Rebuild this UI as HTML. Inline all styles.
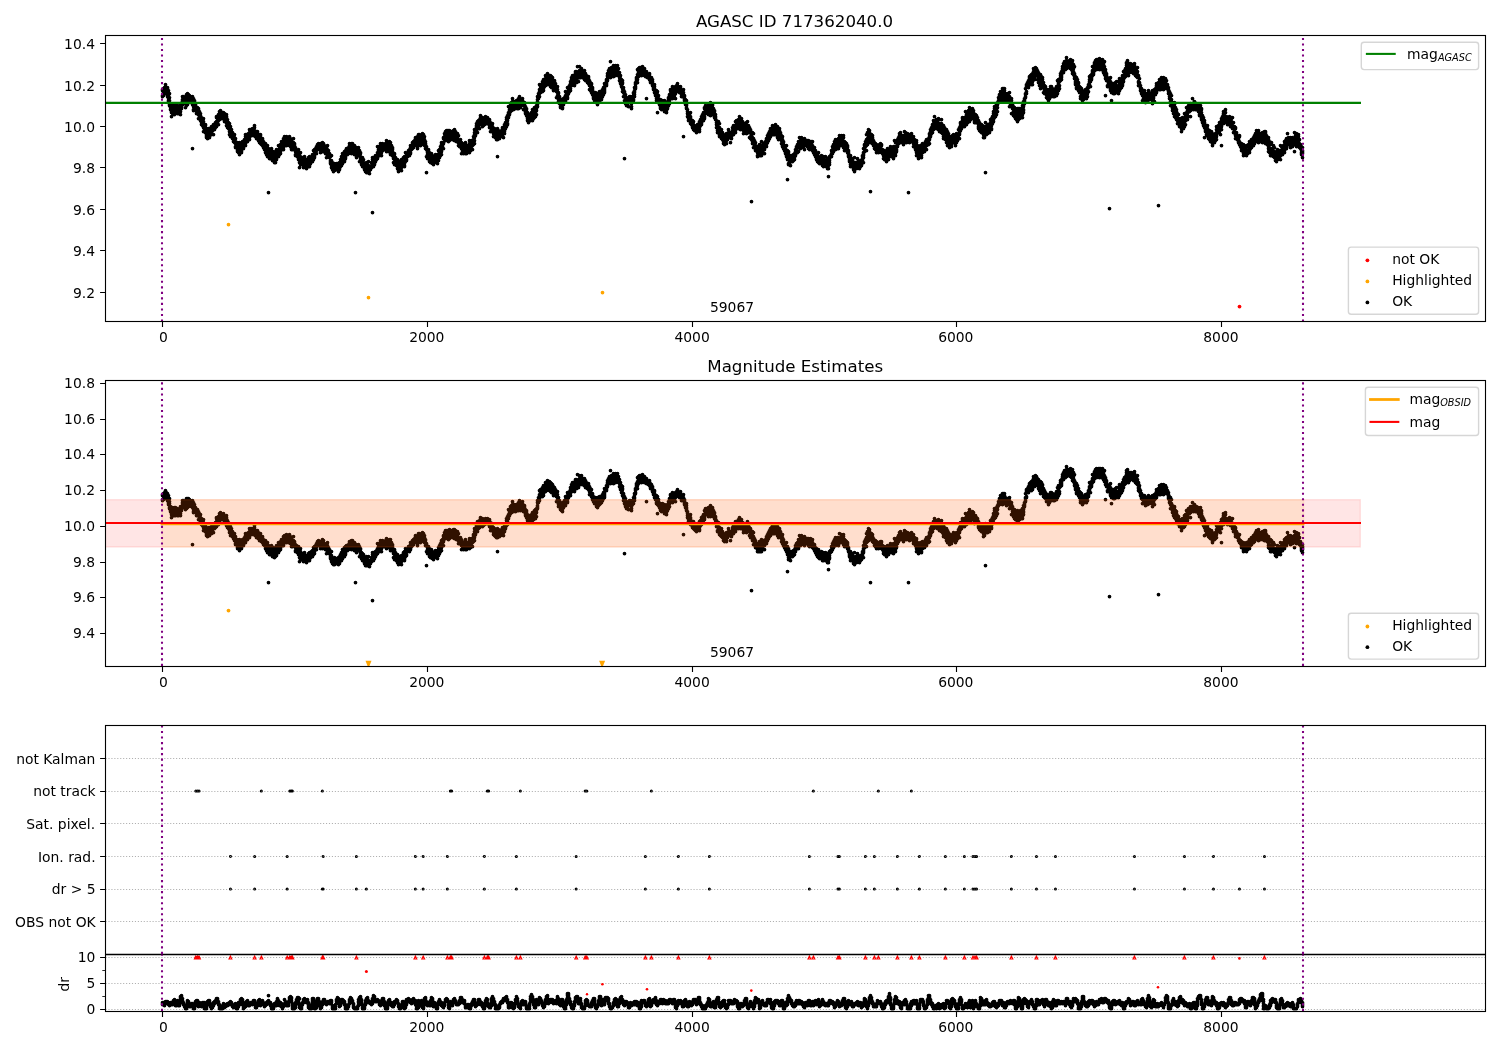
<!DOCTYPE html>
<html lang="en"><head><meta charset="utf-8"><title>AGASC ID 717362040.0</title>
<style>html,body{margin:0;padding:0;background:#fff}body{width:1500px;height:1050px;overflow:hidden}</style>
</head><body>
<svg width="1500" height="1050" viewBox="0 0 1500 1050" style="display:block;font-family:'DejaVu Sans','Liberation Sans',sans-serif;font-size:13.89px" fill="#000">
<rect width="1500" height="1050" fill="#fff"/>
<defs>
<clipPath id="c1"><rect x="105.5" y="35.5" width="1380.0" height="286.0"/></clipPath>
<clipPath id="c2"><rect x="105.5" y="380.5" width="1380.0" height="286.0"/></clipPath>
<clipPath id="c3"><rect x="105.5" y="725.5" width="1380.0" height="286.0"/></clipPath>
</defs>
<g clip-path="url(#c1)">
<path transform="translate(.5 .5)" d="M162 89h0m0 1h0m0 5h0m0 1h0m1-8h0m0 2h0m0 2h0m0 2h0m0 1h0m1-8h0m0 1h0m0 1h0m0 1h0m0 1h0m1-7h0m0 3h0m0 2h0m0 3h0m1-5h0m0 1h0m0 1h0m0 1h0m0 1h0m0 2h0m1-6h0m0 1h0m0 3h0m0 1h0m0 1h0m0 2h0m0 1h0m1-6h0m0 3h0m0 2h0m0 3h0m0 2h0m0 1h0m1-8h0m0 4h0m0 3h0m0 2h0m0 2h0m0 1h0m1-2h0m0 4h0m0 2h0m1-2h0m0 3h0m0 1h0m0 1h0m0 4h0m1-12h0m0 4h0m0 2h0m0 1h0m0 2h0m1-6h0m0 2h0m0 1h0m0 1h0m0 2h0m1-9h0m0 1h0m0 1h0m0 1h0m0 2h0m0 5h0m1-10h0m0 1h0m0 1h0m0 2h0m0 1h0m0 3h0m0 1h0m1-7h0m0 1h0m0 1h0m0 1h0m0 1h0m0 2h0m1-7h0m0 1h0m0 3h0m0 2h0m0 2h0m1-7h0m0 1h0m0 1h0m0 1h0m0 1h0m0 1h0m0 1h0m0 1h0m1-6h0m0 2h0m0 1h0m0 1h0m1-8h0m0 5h0m0 1h0m0 2h0m0 3h0m1-10h0m0 1h0m0 1h0m0 1h0m0 1h0m1-12h0m0 3h0m0 1h0m0 1h0m0 3h0m1-8h0m0 1h0m0 1h0m0 1h0m0 2h0m0 1h0m0 1h0m1-5h0m0 1h0m0 1h0m0 1h0m0 2h0m1-6h0m0 1h0m0 1h0m0 2h0m0 1h0m0 5h0m1-13h0m0 2h0m0 1h0m0 2h0m0 4h0m0 2h0m1-12h0m0 2h0m0 2h0m0 1h0m0 1h0m0 1h0m0 1h0m0 3h0m1-10h0m0 3h0m0 3h0m0 1h0m0 1h0m1-7h0m0 2h0m0 1h0m0 1h0m0 2h0m1-5h0m0 1h0m0 1h0m0 1h0m0 2h0m1-4h0m0 1h0m0 1h0m0 1h0m0 2h0m1-6h0m0 3h0m0 2h0m0 1h0m0 1h0m0 1h0m0 44h0m1-50h0m0 3h0m0 1h0m0 1h0m0 2h0m0 1h0m0 3h0m0 1h0m1-10h0m0 1h0m0 2h0m0 2h0m0 1h0m0 3h0m1-5h0m0 1h0m0 2h0m0 1h0m0 1h0m0 1h0m1-3h0m0 1h0m0 1h0m0 1h0m0 1h0m0 2h0m1-6h0m0 1h0m0 1h0m0 1h0m0 1h0m0 1h0m0 1h0m1-5h0m0 1h0m0 1h0m0 2h0m0 2h0m0 4h0m1-7h0m0 2h0m0 1h0m0 1h0m0 1h0m1-3h0m0 2h0m0 1h0m0 1h0m0 2h0m0 1h0m1-3h0m0 2h0m0 2h0m0 1h0m0 2h0m1-5h0m0 1h0m0 2h0m0 2h0m0 1h0m1-7h0m0 3h0m0 2h0m0 4h0m0 4h0m1-7h0m0 2h0m0 1h0m0 1h0m0 1h0m0 1h0m1-6h0m0 1h0m0 2h0m0 2h0m0 3h0m1-4h0m0 4h0m0 1h0m0 1h0m0 1h0m0 1h0m0 1h0m1-8h0m0 2h0m0 3h0m0 1h0m0 2h0m0 1h0m1-10h0m0 6h0m0 1h0m0 1h0m1-8h0m0 2h0m0 2h0m0 1h0m0 1h0m0 2h0m0 1h0m1-8h0m0 3h0m0 1h0m1-7h0m0 3h0m0 1h0m0 2h0m0 2h0m1-7h0m0 1h0m0 1h0m0 1h0m1-6h0m0 1h0m0 1h0m0 1h0m0 1h0m0 6h0m1-8h0m0 1h0m0 1h0m0 1h0m1-7h0m0 1h0m0 1h0m0 1h0m0 1h0m0 1h0m1-11h0m0 1h0m0 4h0m0 3h0m0 2h0m1-10h0m0 1h0m0 3h0m0 1h0m0 1h0m1-8h0m0 1h0m0 1h0m0 2h0m0 1h0m0 1h0m0 4h0m1-13h0m0 2h0m0 1h0m0 2h0m0 1h0m0 2h0m1-9h0m0 3h0m0 1h0m0 1h0m0 1h0m0 2h0m1-4h0m0 1h0m0 1h0m0 1h0m0 1h0m1-6h0m0 3h0m0 1h0m0 1h0m0 1h0m1-6h0m0 4h0m0 1h0m0 1h0m1-5h0m0 2h0m0 1h0m0 2h0m0 1h0m0 2h0m1-7h0m0 3h0m0 1h0m0 1h0m0 1h0m0 1h0m1-7h0m0 2h0m0 1h0m0 2h0m0 3h0m0 3h0m1-6h0m0 4h0m0 2h0m0 2h0m1-5h0m0 2h0m0 2h0m0 1h0m0 1h0m1-5h0m0 2h0m0 1h0m0 1h0m0 4h0m0 3h0m1-8h0m0 3h0m0 1h0m0 1h0m0 1h0m0 4h0m1-7h0m0 3h0m0 1h0m0 1h0m0 1h0m1-3h0m0 1h0m0 1h0m0 2h0m0 1h0m0 1h0m1-3h0m0 1h0m0 1h0m0 1h0m0 3h0m1-7h0m0 3h0m0 1h0m0 2h0m0 1h0m0 1h0m1-4h0m0 3h0m0 1h0m0 1h0m0 3h0m0 1h0m1-5h0m0 1h0m0 1h0m0 1h0m0 2h0m1-5h0m0 2h0m0 1h0m0 3h0m0 2h0m0 1h0m1-7h0m0 1h0m0 1h0m0 1h0m0 3h0m0 2h0m1-10h0m0 3h0m0 2h0m0 1h0m0 1h0m0 5h0m1-11h0m0 1h0m0 1h0m0 1h0m0 1h0m0 1h0m0 1h0m0 2h0m1-7h0m0 1h0m0 2h0m0 4h0m0 1h0m1-11h0m0 1h0m0 1h0m0 2h0m0 1h0m0 1h0m1-4h0m0 1h0m0 2h0m0 2h0m1-9h0m0 1h0m0 1h0m0 1h0m0 1h0m0 1h0m1-10h0m0 2h0m0 3h0m0 1h0m0 2h0m0 1h0m0 2h0m1-11h0m0 1h0m0 1h0m0 1h0m0 1h0m0 1h0m1-3h0m0 1h0m0 1h0m0 1h0m0 1h0m0 1h0m1-8h0m0 1h0m0 1h0m0 1h0m0 1h0m0 2h0m1-10h0m0 3h0m0 1h0m0 1h0m0 2h0m0 1h0m0 2h0m1-10h0m0 2h0m0 2h0m0 1h0m0 1h0m1-6h0m0 1h0m0 3h0m0 2h0m1-7h0m0 2h0m0 2h0m0 1h0m0 1h0m1-6h0m0 1h0m0 2h0m0 1h0m0 1h0m0 2h0m1-10h0m0 2h0m0 3h0m0 1h0m0 2h0m0 1h0m1-3h0m0 1h0m0 1h0m0 2h0m0 1h0m1-5h0m0 3h0m0 2h0m0 2h0m1-7h0m0 2h0m0 1h0m0 1h0m1-1h0m0 1h0m0 2h0m0 3h0m1-6h0m0 3h0m0 1h0m0 1h0m0 1h0m0 2h0m1-8h0m0 1h0m0 2h0m0 2h0m0 2h0m0 1h0m0 1h0m1-5h0m0 2h0m0 2h0m0 1h0m0 1h0m1-6h0m0 1h0m0 3h0m0 2h0m0 1h0m1-4h0m0 3h0m0 1h0m0 1h0m0 1h0m1-4h0m0 1h0m0 1h0m0 1h0m0 3h0m1-6h0m0 4h0m0 1h0m0 1h0m0 3h0m1-3h0m0 1h0m0 2h0m0 2h0m1-9h0m0 3h0m0 1h0m0 1h0m0 1h0m0 2h0m0 1h0m0 2h0m1-8h0m0 2h0m0 1h0m0 1h0m0 4h0m0 36h0m1-41h0m0 2h0m0 1h0m0 1h0m0 2h0m0 1h0m1-9h0m0 3h0m0 1h0m0 1h0m0 4h0m1-10h0m0 3h0m0 2h0m0 2h0m0 1h0m0 2h0m1-7h0m0 4h0m0 1h0m0 1h0m0 2h0m0 1h0m1-9h0m0 5h0m0 1h0m0 2h0m1-7h0m0 3h0m0 1h0m0 2h0m0 2h0m0 1h0m0 1h0m1-10h0m0 4h0m0 1h0m0 1h0m0 2h0m0 2h0m1-13h0m0 2h0m0 1h0m0 2h0m0 1h0m0 4h0m1-8h0m0 1h0m0 3h0m0 1h0m1-11h0m0 6h0m0 1h0m0 3h0m0 1h0m1-8h0m0 1h0m0 1h0m0 1h0m0 1h0m0 2h0m1-10h0m0 2h0m0 1h0m0 1h0m0 2h0m0 1h0m0 2h0m1-12h0m0 2h0m0 2h0m0 2h0m0 2h0m1-7h0m0 1h0m0 2h0m0 2h0m0 1h0m1-10h0m0 2h0m0 1h0m0 2h0m0 2h0m0 2h0m0 2h0m1-13h0m0 6h0m0 1h0m0 1h0m0 1h0m1-8h0m0 1h0m0 1h0m0 1h0m0 1h0m0 1h0m1-6h0m0 2h0m0 2h0m0 5h0m1-7h0m0 1h0m0 1h0m0 1h0m0 2h0m1-4h0m0 1h0m0 2h0m0 1h0m0 1h0m1-8h0m0 5h0m0 1h0m0 1h0m0 1h0m0 1h0m1-7h0m0 4h0m0 1h0m0 2h0m0 1h0m1-5h0m0 3h0m0 1h0m0 2h0m0 1h0m0 1h0m1-6h0m0 2h0m0 4h0m1-11h0m0 4h0m0 3h0m0 1h0m0 1h0m1-4h0m0 1h0m0 1h0m0 1h0m0 1h0m0 2h0m1-2h0m0 1h0m0 3h0m0 3h0m0 1h0m1-6h0m0 1h0m0 1h0m0 1h0m0 2h0m0 1h0m1-5h0m0 2h0m0 2h0m0 2h0m1-7h0m0 5h0m0 2h0m0 2h0m0 1h0m1-6h0m0 1h0m0 4h0m0 2h0m0 2h0m0 5h0m1-15h0m0 4h0m0 1h0m0 1h0m0 1h0m0 1h0m0 4h0m1-5h0m0 1h0m0 1h0m0 3h0m1-7h0m0 1h0m0 1h0m0 1h0m0 1h0m0 2h0m0 1h0m1-6h0m0 1h0m0 1h0m0 1h0m0 2h0m0 2h0m0 2h0m1-11h0m0 4h0m0 1h0m0 1h0m0 2h0m0 1h0m1-2h0m0 1h0m0 1h0m0 2h0m1-8h0m0 3h0m0 1h0m0 1h0m0 1h0m0 3h0m1-7h0m0 1h0m0 1h0m0 3h0m1-9h0m0 2h0m0 3h0m0 3h0m0 1h0m1-10h0m0 2h0m0 3h0m0 1h0m0 1h0m0 2h0m0 1h0m1-8h0m0 1h0m0 2h0m0 1h0m0 1h0m1-7h0m0 1h0m0 2h0m0 1h0m0 1h0m1-7h0m0 2h0m0 1h0m0 2h0m0 1h0m0 1h0m1-11h0m0 4h0m0 2h0m0 1h0m0 1h0m0 1h0m1-10h0m0 1h0m0 3h0m0 1h0m0 2h0m0 1h0m1-9h0m0 1h0m0 2h0m0 1h0m1-6h0m0 1h0m0 1h0m0 1h0m0 1h0m0 3h0m1-9h0m0 1h0m0 1h0m0 1h0m0 2h0m1-6h0m0 1h0m0 1h0m0 1h0m0 1h0m0 1h0m1-4h0m0 1h0m0 1h0m0 1h0m0 1h0m0 1h0m1-6h0m0 2h0m0 2h0m0 1h0m0 4h0m1-7h0m0 1h0m0 1h0m0 3h0m1-8h0m0 3h0m0 3h0m0 3h0m1-8h0m0 3h0m0 1h0m0 2h0m0 2h0m1-6h0m0 1h0m0 1h0m0 1h0m0 2h0m1-3h0m0 1h0m0 1h0m0 1h0m0 3h0m1-6h0m0 1h0m0 3h0m0 6h0m1-12h0m0 4h0m0 4h0m0 2h0m1-5h0m0 2h0m0 1h0m0 1h0m0 2h0m1-3h0m0 3h0m0 1h0m1-1h0m0 4h0m0 1h0m0 1h0m0 1h0m1-8h0m0 5h0m0 2h0m0 3h0m0 2h0m1-5h0m0 1h0m0 2h0m0 1h0m0 3h0m1-3h0m0 1h0m0 1h0m0 1h0m0 1h0m0 1h0m1-8h0m0 2h0m0 1h0m0 1h0m0 2h0m0 1h0m1-6h0m0 2h0m0 1h0m1-4h0m0 1h0m0 1h0m0 2h0m0 1h0m0 1h0m1-6h0m0 3h0m0 1h0m0 2h0m1-6h0m0 2h0m0 1h0m0 2h0m0 1h0m0 2h0m1-9h0m0 1h0m0 1h0m0 4h0m0 1h0m1-10h0m0 3h0m0 1h0m0 1h0m0 2h0m1-10h0m0 2h0m0 2h0m0 2h0m0 3h0m1-12h0m0 4h0m0 1h0m0 3h0m0 2h0m1-9h0m0 1h0m0 1h0m0 1h0m0 2h0m0 1h0m1-9h0m0 1h0m0 2h0m0 2h0m0 4h0m0 1h0m1-11h0m0 1h0m0 1h0m0 2h0m0 1h0m0 2h0m0 1h0m1-10h0m0 3h0m0 1h0m0 1h0m0 1h0m1-6h0m0 1h0m0 1h0m0 3h0m0 1h0m1-7h0m0 1h0m0 1h0m0 3h0m0 1h0m1-10h0m0 2h0m0 1h0m0 1h0m0 1h0m0 1h0m1-4h0m0 3h0m0 1h0m0 2h0m1-8h0m0 2h0m0 1h0m0 1h0m0 1h0m0 2h0m0 3h0m1-10h0m0 4h0m0 1h0m0 2h0m0 1h0m1-6h0m0 1h0m0 1h0m0 1h0m0 1h0m0 1h0m1-5h0m0 2h0m0 1h0m0 1h0m0 1h0m0 2h0m0 2h0m1-5h0m0 1h0m0 4h0m0 38h0m1-45h0m0 1h0m0 2h0m0 1h0m0 2h0m0 1h0m0 3h0m1-8h0m0 3h0m0 2h0m1-7h0m0 3h0m0 1h0m0 1h0m0 3h0m1-5h0m0 1h0m0 1h0m0 2h0m0 7h0m1-9h0m0 1h0m0 3h0m0 1h0m0 1h0m0 1h0m1-2h0m0 1h0m0 1h0m0 2h0m0 3h0m1-7h0m0 1h0m0 3h0m0 2h0m0 2h0m0 1h0m1-7h0m0 3h0m0 1h0m0 1h0m0 1h0m0 1h0m1-2h0m0 1h0m0 1h0m0 1h0m0 1h0m0 1h0m1-5h0m0 1h0m0 1h0m0 1h0m0 1h0m0 3h0m1-9h0m0 4h0m0 2h0m0 1h0m0 3h0m1-8h0m0 1h0m0 2h0m0 1h0m0 1h0m0 1h0m1-9h0m0 4h0m0 1h0m0 1h0m0 1h0m0 1h0m1-3h0m0 1h0m0 1h0m0 1h0m0 1h0m0 3h0m1-7h0m0 1h0m0 1h0m0 1h0m1-7h0m0 3h0m0 1h0m0 1h0m1-10h0m0 2h0m0 2h0m0 2h0m0 2h0m0 1h0m0 46h0m1-55h0m0 1h0m0 1h0m0 1h0m0 5h0m0 1h0m1-9h0m0 1h0m0 1h0m0 1h0m0 3h0m0 1h0m1-9h0m0 2h0m0 2h0m0 1h0m0 1h0m1-6h0m0 1h0m0 3h0m1-13h0m0 6h0m0 5h0m0 1h0m1-12h0m0 3h0m0 1h0m0 1h0m0 1h0m0 1h0m0 1h0m0 1h0m1-7h0m0 1h0m0 1h0m0 3h0m0 2h0m1-12h0m0 3h0m0 1h0m0 2h0m0 1h0m1-4h0m0 1h0m0 2h0m0 2h0m0 1h0m0 3h0m1-12h0m0 4h0m0 1h0m0 1h0m0 1h0m1-6h0m0 1h0m0 1h0m0 1h0m0 2h0m1-5h0m0 2h0m0 1h0m0 1h0m0 1h0m1-6h0m0 2h0m0 1h0m0 1h0m0 1h0m0 1h0m1-9h0m0 5h0m0 1h0m0 1h0m0 4h0m1-9h0m0 2h0m0 1h0m0 1h0m0 2h0m0 2h0m1-6h0m0 1h0m0 1h0m0 1h0m0 1h0m0 3h0m1-10h0m0 1h0m0 2h0m0 1h0m0 1h0m0 2h0m0 1h0m1-7h0m0 3h0m0 1h0m0 1h0m0 1h0m0 6h0m1-9h0m0 2h0m0 1h0m0 1h0m0 2h0m1-4h0m0 1h0m0 1h0m0 2h0m0 1h0m0 3h0m1-2h0m0 1h0m0 2h0m0 1h0m0 1h0m0 4h0m1-9h0m0 1h0m0 3h0m0 1h0m0 1h0m0 5h0m1-7h0m0 3h0m0 1h0m0 3h0m1-5h0m0 2h0m0 1h0m0 2h0m0 1h0m1-6h0m0 5h0m0 1h0m0 1h0m0 2h0m1-6h0m0 2h0m0 1h0m0 1h0m0 1h0m0 1h0m0 2h0m0 1h0m1-10h0m0 4h0m0 1h0m0 1h0m1-5h0m0 1h0m0 2h0m0 2h0m0 1h0m0 1h0m1-10h0m0 3h0m0 1h0m0 1h0m0 1h0m0 2h0m0 3h0m1-8h0m0 1h0m0 2h0m0 1h0m1-9h0m0 4h0m0 3h0m0 1h0m1-9h0m0 1h0m0 5h0m0 1h0m0 2h0m0 1h0m1-14h0m0 6h0m0 1h0m0 1h0m0 1h0m1-6h0m0 1h0m0 1h0m0 2h0m0 1h0m1-8h0m0 2h0m0 1h0m0 1h0m1-6h0m0 1h0m0 1h0m0 2h0m1-5h0m0 1h0m0 1h0m0 1h0m0 3h0m1-10h0m0 2h0m0 2h0m0 1h0m0 2h0m0 1h0m1-8h0m0 2h0m0 2h0m1-7h0m0 2h0m0 1h0m0 1h0m0 1h0m0 1h0m1-7h0m0 1h0m0 2h0m0 1h0m0 2h0m1-7h0m0 1h0m0 1h0m0 1h0m0 2h0m1-8h0m0 1h0m0 2h0m0 1h0m0 2h0m0 1h0m1-4h0m0 1h0m0 1h0m0 1h0m1-7h0m0 2h0m0 1h0m0 2h0m0 2h0m0 3h0m0 2h0m1-14h0m0 3h0m0 1h0m0 2h0m0 2h0m1-8h0m0 2h0m0 1h0m0 1h0m0 1h0m0 2h0m0 3h0m1-8h0m0 3h0m0 1h0m0 1h0m0 1h0m0 1h0m0 2h0m1-9h0m0 2h0m0 1h0m0 1h0m0 1h0m0 1h0m0 1h0m1-10h0m0 1h0m0 4h0m0 1h0m0 1h0m0 1h0m1-7h0m0 5h0m0 3h0m0 1h0m0 1h0m1-8h0m0 3h0m0 1h0m0 1h0m0 4h0m1-4h0m0 2h0m0 1h0m0 1h0m0 1h0m0 2h0m1-2h0m0 2h0m0 1h0m0 7h0m0 16h0m1-23h0m0 1h0m0 1h0m0 1h0m0 2h0m0 1h0m0 3h0m1-9h0m0 1h0m0 2h0m0 2h0m0 1h0m0 1h0m1-4h0m0 3h0m0 1h0m0 1h0m0 4h0m1-5h0m0 1h0m0 1h0m0 2h0m0 2h0m1-9h0m0 3h0m0 3h0m0 2h0m0 1h0m1-7h0m0 1h0m0 1h0m0 2h0m0 1h0m0 2h0m0 1h0m1-7h0m0 1h0m0 1h0m0 1h0m0 5h0m1-6h0m0 1h0m0 2h0m0 1h0m1-8h0m0 4h0m0 1h0m0 1h0m0 1h0m1-6h0m0 2h0m0 1h0m0 2h0m0 1h0m0 1h0m1-8h0m0 1h0m0 2h0m0 1h0m0 2h0m0 3h0m1-13h0m0 4h0m0 1h0m0 1h0m0 1h0m0 1h0m0 2h0m1-11h0m0 3h0m0 1h0m0 1h0m0 1h0m0 1h0m0 1h0m1-11h0m0 2h0m0 2h0m0 2h0m0 3h0m1-13h0m0 2h0m0 2h0m0 1h0m0 2h0m0 2h0m0 3h0m1-12h0m0 2h0m0 1h0m0 1h0m0 2h0m1-11h0m0 1h0m0 4h0m0 1h0m0 5h0m1-15h0m0 3h0m0 1h0m0 1h0m0 1h0m1-8h0m0 1h0m0 3h0m0 4h0m0 1h0m1-10h0m0 1h0m0 1h0m0 1h0m0 1h0m0 4h0m1-8h0m0 3h0m0 2h0m0 1h0m0 1h0m0 1h0m1-8h0m0 3h0m0 1h0m0 1h0m0 2h0m0 4h0m1-11h0m0 1h0m0 2h0m0 1h0m0 1h0m0 1h0m0 4h0m1-8h0m0 1h0m0 2h0m0 1h0m0 1h0m0 1h0m0 1h0m1-8h0m0 2h0m0 1h0m0 2h0m0 2h0m1-6h0m0 5h0m0 2h0m1-9h0m0 4h0m0 1h0m0 2h0m0 2h0m1-10h0m0 2h0m0 1h0m0 2h0m0 2h0m0 1h0m0 3h0m1-9h0m0 2h0m0 2h0m0 1h0m1-2h0m0 3h0m0 1h0m0 1h0m0 2h0m1-8h0m0 3h0m0 1h0m0 2h0m0 1h0m0 1h0m1-6h0m0 5h0m0 1h0m0 1h0m0 3h0m1-3h0m0 1h0m0 2h0m0 1h0m1-7h0m0 2h0m0 1h0m0 1h0m0 1h0m0 1h0m1-3h0m0 1h0m0 1h0m0 1h0m0 1h0m0 2h0m0 5h0m1-7h0m0 2h0m0 1h0m0 1h0m0 1h0m1-5h0m0 1h0m0 1h0m0 1h0m0 1h0m0 1h0m0 2h0m1-10h0m0 2h0m0 2h0m0 2h0m1-7h0m0 5h0m0 2h0m0 1h0m0 1h0m0 2h0m1-8h0m0 2h0m0 1h0m0 3h0m0 1h0m0 1h0m1-8h0m0 1h0m0 1h0m0 1h0m0 1h0m0 2h0m1-6h0m0 2h0m0 1h0m0 1h0m1-9h0m0 3h0m0 4h0m0 1h0m0 1h0m0 2h0m0 1h0m1-10h0m0 4h0m0 1h0m0 1h0m0 1h0m0 1h0m1-10h0m0 3h0m0 1h0m0 2h0m0 2h0m1-8h0m0 2h0m0 1h0m0 1h0m0 1h0m0 4h0m1-13h0m0 3h0m0 3h0m0 2h0m1-15h0m0 3h0m0 2h0m0 2h0m0 1h0m0 3h0m0 3h0m1-13h0m0 1h0m0 1h0m0 3h0m1-12h0m0 2h0m0 1h0m0 1h0m0 4h0m1-10h0m0 4h0m0 1h0m0 6h0m1-12h0m0 1h0m0 2h0m0 2h0m0 3h0m1-9h0m0 2h0m0 1h0m0 1h0m0 1h0m0 4h0m1-13h0m0 2h0m0 3h0m0 1h0m0 1h0m0 2h0m1-6h0m0 3h0m0 1h0m0 1h0m0 1h0m1-7h0m0 4h0m0 2h0m0 3h0m1-7h0m0 1h0m0 1h0m0 1h0m0 2h0m0 1h0m1-7h0m0 1h0m0 2h0m0 1h0m0 2h0m1-8h0m0 3h0m0 2h0m0 1h0m1-4h0m0 1h0m0 1h0m0 1h0m0 2h0m1-6h0m0 2h0m0 1h0m0 1h0m0 1h0m0 1h0m1-4h0m0 2h0m0 1h0m0 1h0m1-4h0m0 1h0m0 1h0m0 2h0m0 2h0m0 2h0m1-5h0m0 1h0m0 1h0m0 2h0m0 1h0m0 4h0m1-8h0m0 1h0m0 1h0m0 2h0m0 2h0m1-6h0m0 3h0m0 3h0m0 1h0m0 1h0m1-3h0m0 2h0m0 2h0m0 1h0m0 3h0m1-8h0m0 1h0m0 1h0m0 2h0m0 2h0m0 1h0m0 1h0m1-5h0m0 1h0m0 1h0m0 1h0m0 3h0m1-5h0m0 2h0m0 1h0m0 1h0m0 1h0m0 2h0m1-11h0m0 7h0m0 2h0m0 2h0m0 17h0m1-26h0m0 3h0m0 1h0m0 1h0m0 1h0m0 2h0m1-6h0m0 1h0m0 1h0m0 1h0m0 3h0m1-5h0m0 1h0m0 1h0m0 1h0m1-6h0m0 1h0m0 2h0m0 1h0m0 1h0m1-8h0m0 1h0m0 1h0m0 3h0m0 2h0m1-7h0m0 2h0m0 4h0m0 4h0m1-13h0m0 2h0m0 2h0m0 2h0m0 1h0m0 2h0m1-11h0m0 2h0m0 1h0m0 2h0m0 1h0m1-11h0m0 2h0m0 3h0m0 1h0m0 1h0m0 2h0m1-11h0m0 2h0m0 3h0m0 3h0m0 1h0m1-18h0m0 6h0m0 1h0m0 1h0m0 2h0m0 1h0m1-10h0m0 2h0m0 1h0m0 2h0m0 1h0m0 1h0m1-11h0m0 4h0m0 1h0m0 1h0m0 1h0m0 1h0m1-9h0m0 1h0m0 3h0m0 1h0m0 1h0m0 2h0m1-12h0m0 3h0m0 2h0m0 1h0m0 1h0m0 3h0m1-7h0m0 1h0m0 1h0m0 2h0m0 2h0m0 2h0m1-8h0m0 1h0m0 1h0m0 1h0m0 3h0m1-5h0m0 1h0m0 2h0m0 1h0m0 2h0m1-8h0m0 1h0m0 1h0m0 1h0m0 2h0m0 1h0m1-5h0m0 2h0m0 1h0m0 1h0m0 1h0m0 2h0m1-10h0m0 5h0m0 1h0m0 2h0m0 1h0m0 1h0m1-12h0m0 4h0m0 2h0m0 1h0m0 3h0m1-4h0m0 1h0m0 1h0m0 2h0m0 1h0m1-8h0m0 1h0m0 2h0m0 1h0m0 2h0m1-7h0m0 2h0m0 1h0m0 1h0m0 1h0m1-1h0m0 1h0m0 1h0m0 5h0m1-7h0m0 1h0m0 1h0m0 1h0m0 3h0m1-2h0m0 1h0m0 3h0m0 1h0m0 1h0m0 1h0m1-5h0m0 1h0m0 2h0m0 1h0m0 2h0m0 1h0m1-3h0m0 3h0m0 1h0m0 1h0m0 1h0m0 2h0m1-6h0m0 1h0m0 1h0m0 2h0m0 1h0m0 1h0m0 2h0m1-8h0m0 1h0m0 2h0m0 1h0m0 2h0m1-4h0m0 1h0m0 2h0m0 1h0m1-8h0m0 1h0m0 1h0m0 1h0m0 1h0m0 3h0m1-10h0m0 2h0m0 2h0m0 2h0m0 1h0m0 4h0m1-9h0m0 4h0m0 1h0m0 2h0m1-11h0m0 2h0m0 3h0m0 1h0m0 1h0m0 3h0m1-10h0m0 3h0m0 2h0m0 1h0m0 1h0m0 2h0m1-11h0m0 2h0m0 1h0m0 2h0m0 4h0m1-18h0m0 3h0m0 2h0m0 2h0m0 1h0m0 2h0m1-13h0m0 2h0m0 1h0m0 2h0m1-14h0m0 5h0m0 2h0m0 2h0m0 3h0m1-12h0m0 2h0m0 2h0m0 2h0m0 1h0m0 1h0m1-8h0m0 1h0m0 2h0m0 1h0m0 1h0m1-8h0m0 4h0m0 1h0m0 1h0m0 1h0m0 3h0m1-12h0m0 2h0m0 3h0m0 1h0m0 1h0m0 2h0m0 2h0m1-7h0m0 1h0m0 1h0m0 1h0m1-11h0m0 3h0m0 3h0m0 2h0m0 1h0m0 1h0m1-8h0m0 1h0m0 2h0m0 1h0m0 3h0m1-11h0m0 1h0m0 1h0m0 1h0m0 2h0m0 3h0m0 3h0m1-9h0m0 1h0m0 1h0m0 1h0m0 1h0m0 1h0m0 1h0m1-6h0m0 3h0m0 1h0m0 4h0m0 1h0m1-9h0m0 3h0m0 5h0m0 1h0m0 1h0m0 1h0m1-10h0m0 3h0m0 1h0m0 1h0m0 6h0m1-10h0m0 4h0m0 1h0m0 1h0m0 1h0m0 2h0m1-6h0m0 1h0m0 3h0m0 1h0m0 5h0m1-10h0m0 1h0m0 1h0m0 3h0m0 1h0m0 1h0m1-4h0m0 3h0m0 2h0m0 1h0m0 1h0m1-3h0m0 2h0m0 2h0m0 6h0m1-11h0m0 3h0m0 3h0m0 3h0m0 1h0m1-4h0m0 1h0m0 3h0m0 2h0m0 1h0m0 2h0m0 1h0m1-6h0m0 1h0m0 1h0m0 1h0m0 3h0m0 1h0m1-4h0m0 2h0m0 1h0m0 1h0m0 3h0m0 1h0m1-8h0m0 1h0m0 2h0m0 1h0m0 1h0m0 3h0m1-8h0m0 4h0m0 1h0m0 1h0m0 2h0m0 1h0m1-10h0m0 1h0m0 1h0m0 2h0m0 2h0m1-7h0m0 1h0m0 2h0m1-9h0m0 4h0m0 1h0m0 1h0m0 1h0m0 1h0m0 2h0m1-8h0m0 1h0m0 1h0m0 2h0m0 1h0m1-11h0m0 4h0m0 2h0m0 2h0m0 2h0m0 1h0m1-10h0m0 1h0m0 2h0m0 1h0m0 1h0m1-8h0m0 2h0m0 1h0m0 2h0m0 1h0m1-10h0m0 2h0m0 1h0m0 1h0m0 3h0m0 2h0m1-13h0m0 2h0m0 1h0m0 1h0m0 1h0m0 3h0m1-10h0m0 1h0m0 2h0m0 3h0m0 2h0m1-8h0m0 1h0m0 2h0m0 5h0m1-8h0m0 1h0m0 3h0m0 2h0m0 1h0m0 3h0m1-14h0m0 1h0m0 1h0m0 2h0m0 3h0m0 1h0m0 1h0m1-9h0m0 2h0m0 3h0m0 3h0m0 3h0m1-16h0m0 8h0m0 1h0m0 1h0m0 1h0m1-4h0m0 1h0m0 2h0m0 1h0m0 4h0m1-15h0m0 4h0m0 1h0m0 1h0m0 3h0m0 2h0m1-6h0m0 2h0m0 1h0m0 1h0m0 2h0m1-9h0m0 1h0m0 2h0m0 2h0m0 1h0m0 1h0m1-3h0m0 2h0m0 1h0m0 1h0m0 1h0m1-6h0m0 3h0m0 1h0m0 2h0m1-7h0m0 2h0m0 1h0m0 3h0m0 1h0m0 2h0m1-6h0m0 1h0m0 3h0m0 1h0m0 1h0m0 1h0m1-5h0m0 1h0m0 2h0m0 1h0m0 1h0m1-3h0m0 1h0m0 1h0m0 1h0m0 2h0m1-6h0m0 1h0m0 1h0m0 1h0m0 2h0m0 2h0m1-3h0m0 1h0m0 2h0m0 2h0m0 4h0m1-7h0m0 1h0m0 1h0m0 2h0m0 3h0m0 1h0m1-7h0m0 1h0m0 5h0m0 1h0m0 2h0m1-5h0m0 1h0m0 1h0m0 1h0m0 1h0m0 3h0m1-2h0m0 1h0m0 3h0m0 1h0m0 1h0m1-6h0m0 1h0m0 1h0m0 2h0m0 1h0m0 1h0m0 2h0m1-8h0m0 1h0m0 3h0m0 1h0m0 1h0m1-4h0m0 2h0m0 2h0m0 2h0m0 1h0m0 1h0m1-9h0m0 1h0m0 3h0m0 1h0m0 1h0m0 1h0m0 1h0m0 3h0m1-8h0m0 1h0m0 2h0m0 1h0m0 1h0m0 1h0m1-11h0m0 4h0m0 1h0m0 1h0m0 2h0m0 1h0m0 1h0m1-10h0m0 3h0m0 1h0m0 1h0m0 1h0m0 1h0m0 1h0m1-6h0m0 3h0m0 1h0m0 1h0m0 1h0m1-10h0m0 1h0m0 1h0m0 3h0m0 1h0m0 1h0m1-9h0m0 2h0m0 1h0m0 1h0m0 1h0m0 2h0m1-11h0m0 3h0m0 2h0m0 1h0m0 1h0m0 1h0m0 1h0m1-9h0m0 1h0m0 1h0m1-6h0m0 1h0m0 1h0m0 1h0m0 1h0m0 1h0m0 1h0m1-12h0m0 2h0m0 1h0m0 2h0m0 2h0m1-10h0m0 2h0m0 1h0m0 2h0m0 1h0m1-8h0m0 2h0m0 3h0m0 1h0m0 1h0m1-14h0m0 9h0m0 3h0m0 2h0m0 1h0m0 1h0m1-10h0m0 3h0m0 1h0m0 1h0m0 1h0m1-4h0m0 2h0m0 2h0m0 1h0m0 1h0m1-10h0m0 4h0m0 2h0m0 1h0m0 1h0m0 3h0m1-9h0m0 1h0m0 2h0m0 1h0m0 2h0m1-8h0m0 2h0m0 3h0m0 1h0m0 2h0m0 2h0m1-7h0m0 1h0m0 3h0m0 1h0m1-8h0m0 3h0m0 1h0m0 1h0m0 2h0m0 1h0m0 1h0m1-6h0m0 4h0m0 1h0m0 2h0m1-3h0m0 2h0m0 1h0m0 1h0m0 1h0m0 3h0m1-5h0m0 3h0m0 2h0m0 2h0m0 1h0m1-4h0m0 2h0m0 1h0m0 2h0m0 1h0m0 1h0m1-6h0m0 2h0m0 1h0m0 4h0m0 1h0m0 3h0m1-4h0m0 2h0m0 1h0m0 1h0m0 1h0m0 4h0m1-5h0m0 1h0m0 1h0m0 1h0m0 1h0m0 1h0m0 4h0m0 58h0m1-64h0m0 2h0m0 1h0m0 1h0m0 3h0m0 1h0m0 1h0m1-5h0m0 1h0m0 2h0m0 1h0m0 3h0m1-7h0m0 1h0m0 1h0m0 1h0m0 4h0m1-8h0m0 1h0m0 1h0m0 2h0m0 1h0m0 4h0m1-10h0m0 3h0m0 1h0m0 1h0m0 1h0m1-6h0m0 2h0m0 1h0m0 1h0m0 1h0m1-4h0m0 1h0m0 2h0m0 1h0m0 1h0m0 1h0m0 3h0m0 2h0m1-12h0m0 1h0m0 2h0m0 1h0m0 1h0m1-9h0m0 1h0m0 3h0m0 1h0m0 2h0m0 1h0m1-13h0m0 3h0m0 1h0m0 1h0m0 2h0m0 2h0m1-14h0m0 1h0m0 1h0m0 2h0m0 1h0m0 1h0m1-11h0m0 1h0m0 1h0m0 1h0m0 1h0m0 1h0m1-13h0m0 5h0m0 2h0m0 3h0m0 3h0m1-14h0m0 1h0m0 2h0m0 1h0m0 1h0m0 1h0m0 2h0m1-9h0m0 3h0m0 1h0m0 3h0m0 1h0m1-8h0m0 1h0m0 1h0m0 1h0m0 3h0m0 1h0m1-6h0m0 1h0m0 2h0m0 1h0m0 3h0m1-9h0m0 1h0m0 1h0m0 3h0m0 1h0m0 1h0m1-3h0m0 1h0m0 1h0m0 1h0m0 1h0m1-6h0m0 2h0m0 2h0m0 1h0m0 1h0m0 1h0m1-4h0m0 1h0m0 2h0m0 1h0m0 1h0m1-5h0m0 2h0m0 2h0m0 1h0m0 22h0m1-25h0m0 1h0m0 1h0m0 1h0m0 1h0m1-3h0m0 1h0m0 1h0m0 1h0m1-4h0m0 1h0m0 2h0m0 1h0m0 2h0m1-2h0m0 1h0m0 1h0m0 1h0m0 1h0m0 1h0m1-5h0m0 2h0m0 2h0m0 1h0m1-3h0m0 2h0m0 2h0m0 2h0m1 0h0m0 1h0m0 1h0m0 1h0m0 1h0m1-5h0m0 2h0m0 2h0m0 2h0m0 2h0m1-2h0m0 1h0m0 1h0m0 1h0m0 1h0m0 1h0m1-5h0m0 2h0m0 1h0m0 1h0m0 4h0m0 2h0m1-9h0m0 3h0m0 1h0m0 1h0m0 4h0m0 1h0m0 11h0m1-17h0m0 3h0m0 1h0m0 1h0m0 2h0m1-3h0m0 1h0m0 1h0m0 1h0m0 2h0m1-5h0m0 2h0m0 2h0m0 3h0m0 1h0m0 1h0m1-8h0m0 1h0m0 2h0m0 1h0m0 1h0m0 4h0m1-9h0m0 1h0m0 1h0m0 1h0m0 1h0m0 1h0m0 1h0m1-3h0m0 1h0m0 2h0m0 1h0m0 1h0m0 1h0m1-9h0m0 3h0m0 1h0m0 2h0m0 1h0m0 3h0m0 1h0m1-7h0m0 1h0m0 2h0m0 4h0m1-8h0m0 1h0m0 1h0m0 1h0m0 3h0m0 1h0m0 2h0m1-11h0m0 1h0m0 4h0m0 1h0m0 1h0m1-11h0m0 1h0m0 1h0m0 1h0m0 1h0m0 1h0m0 2h0m0 1h0m1-11h0m0 1h0m0 1h0m0 3h0m0 1h0m0 3h0m1-14h0m0 1h0m0 3h0m0 1h0m0 1h0m0 1h0m1-5h0m0 1h0m0 1h0m0 1h0m0 1h0m0 1h0m1-10h0m0 2h0m0 1h0m0 1h0m0 1h0m0 4h0m0 3h0m1-9h0m0 1h0m0 1h0m0 1h0m0 1h0m1-5h0m0 3h0m0 1h0m0 3h0m1-9h0m0 1h0m0 1h0m0 1h0m0 3h0m0 1h0m0 5h0m1-13h0m0 1h0m0 1h0m0 1h0m0 3h0m1-8h0m0 3h0m0 1h0m0 1h0m0 1h0m0 1h0m1-4h0m0 1h0m0 1h0m0 2h0m0 1h0m1-3h0m0 1h0m0 2h0m0 1h0m1-6h0m0 1h0m0 2h0m0 3h0m1-3h0m0 2h0m0 2h0m0 1h0m0 2h0m1-4h0m0 2h0m0 1h0m0 1h0m1-7h0m0 3h0m0 2h0m0 1h0m0 1h0m0 40h0m1-41h0m0 1h0m0 2h0m0 1h0m0 1h0m1-1h0m0 1h0m0 1h0m0 2h0m0 1h0m1-4h0m0 2h0m0 2h0m0 1h0m0 2h0m0 1h0m1 1h0m0 2h0m0 2h0m0 3h0m1-3h0m0 2h0m0 1h0m0 1h0m0 1h0m0 2h0m1-6h0m0 2h0m0 1h0m0 2h0m0 1h0m1-8h0m0 4h0m0 1h0m0 1h0m0 1h0m0 1h0m0 3h0m1-3h0m0 1h0m0 1h0m0 1h0m0 1h0m1-4h0m0 4h0m0 1h0m0 1h0m0 1h0m1-6h0m0 3h0m0 1h0m0 1h0m0 1h0m0 2h0m1-3h0m0 1h0m0 1h0m0 1h0m0 1h0m1-4h0m0 2h0m0 1h0m0 1h0m1-5h0m0 2h0m0 2h0m0 3h0m1-8h0m0 2h0m0 1h0m0 2h0m0 1h0m0 1h0m1-6h0m0 1h0m0 1h0m0 1h0m0 1h0m1-8h0m0 1h0m0 1h0m0 3h0m0 1h0m0 2h0m0 2h0m1-12h0m0 1h0m0 3h0m0 1h0m0 1h0m1-9h0m0 2h0m0 2h0m0 1h0m0 1h0m0 1h0m0 1h0m1-10h0m0 3h0m0 1h0m0 1h0m0 1h0m1-8h0m0 3h0m0 1h0m0 4h0m1-13h0m0 1h0m0 4h0m0 1h0m0 1h0m0 2h0m0 1h0m0 1h0m1-13h0m0 1h0m0 1h0m0 2h0m0 1h0m0 3h0m1-7h0m0 1h0m0 2h0m0 2h0m1-5h0m0 1h0m0 1h0m0 1h0m0 1h0m0 1h0m1-7h0m0 2h0m0 2h0m0 1h0m0 5h0m1-9h0m0 1h0m0 1h0m0 2h0m0 1h0m0 1h0m1-9h0m0 5h0m0 2h0m0 1h0m0 3h0m0 2h0m1-10h0m0 3h0m0 1h0m0 2h0m0 1h0m1-8h0m0 1h0m0 6h0m0 3h0m1-6h0m0 1h0m0 1h0m0 2h0m0 2h0m1-4h0m0 1h0m0 2h0m0 1h0m0 2h0m0 1h0m1-3h0m0 2h0m0 1h0m0 1h0m0 1h0m1 1h0m0 2h0m0 2h0m0 3h0m1-3h0m0 1h0m0 1h0m0 4h0m0 2h0m1-11h0m0 1h0m0 6h0m0 1h0m0 3h0m1-9h0m0 4h0m0 2h0m0 2h0m0 3h0m0 1h0m0 1h0m1-7h0m0 1h0m0 1h0m0 2h0m0 1h0m0 2h0m1-7h0m0 3h0m0 1h0m0 1h0m0 1h0m0 2h0m0 1h0m1-6h0m0 1h0m0 2h0m0 1h0m0 1h0m0 2h0m1-3h0m0 3h0m0 1h0m0 1h0m0 2h0m1-7h0m0 6h0m0 1h0m0 1h0m1-10h0m0 5h0m0 1h0m0 1h0m0 1h0m0 1h0m1-10h0m0 3h0m0 1h0m0 3h0m0 3h0m1-9h0m0 2h0m0 2h0m0 1h0m1-10h0m0 3h0m0 1h0m0 1h0m0 2h0m1-4h0m0 3h0m0 2h0m1-5h0m0 1h0m0 1h0m0 1h0m0 7h0m1-10h0m0 1h0m0 1h0m0 1h0m0 1h0m0 2h0m1-11h0m0 3h0m0 1h0m0 2h0m0 1h0m1-9h0m0 3h0m0 2h0m0 2h0m0 1h0m0 1h0m1-9h0m0 2h0m0 2h0m0 2h0m0 1h0m1-11h0m0 4h0m0 1h0m0 1h0m0 3h0m0 2h0m1-12h0m0 4h0m0 2h0m0 1h0m1-7h0m0 1h0m0 3h0m0 1h0m0 1h0m0 1h0m1-8h0m0 2h0m0 1h0m0 1h0m0 1h0m0 3h0m0 1h0m1-12h0m0 5h0m0 1h0m0 1h0m0 1h0m0 1h0m0 1h0m1-8h0m0 5h0m0 2h0m0 2h0m0 1h0m0 1h0m1-11h0m0 2h0m0 1h0m0 2h0m0 1h0m0 1h0m1-4h0m0 2h0m0 1h0m0 2h0m0 1h0m0 1h0m0 1h0m1-6h0m0 1h0m0 1h0m0 2h0m0 1h0m0 2h0m0 3h0m1-10h0m0 2h0m0 2h0m0 2h0m0 2h0m1-7h0m0 1h0m0 3h0m0 1h0m0 1h0m1-8h0m0 4h0m0 1h0m0 1h0m0 1h0m0 4h0m1-12h0m0 5h0m0 1h0m0 3h0m0 1h0m1-6h0m0 2h0m0 2h0m0 3h0m1-5h0m0 3h0m0 1h0m0 1h0m0 5h0m1-8h0m0 1h0m0 2h0m0 4h0m0 2h0m1-5h0m0 1h0m0 2h0m0 1h0m0 2h0m0 62h0m1-69h0m0 5h0m0 1h0m0 1h0m0 1h0m0 1h0m0 2h0m1-10h0m0 5h0m0 1h0m0 1h0m0 2h0m0 5h0m1-7h0m0 1h0m0 1h0m0 1h0m0 2h0m1-3h0m0 3h0m0 1h0m0 1h0m0 3h0m1-4h0m0 1h0m0 1h0m0 1h0m0 1h0m1-4h0m0 2h0m0 1h0m0 2h0m0 1h0m0 3h0m0 1h0m1-10h0m0 1h0m0 3h0m0 1h0m0 1h0m0 1h0m1-9h0m0 4h0m0 1h0m0 1h0m0 4h0m0 1h0m1-9h0m0 4h0m0 1h0m0 1h0m0 1h0m0 2h0m1-14h0m0 4h0m0 3h0m0 1h0m0 3h0m0 1h0m0 2h0m1-10h0m0 1h0m0 2h0m0 1h0m0 1h0m0 1h0m0 1h0m1-9h0m0 2h0m0 1h0m0 1h0m0 1h0m0 1h0m1-6h0m0 1h0m0 1h0m0 1h0m0 1h0m0 2h0m0 4h0m1-12h0m0 1h0m0 1h0m0 1h0m0 1h0m0 1h0m1-8h0m0 1h0m0 1h0m0 3h0m0 1h0m0 2h0m1-11h0m0 2h0m0 2h0m0 3h0m1-9h0m0 2h0m0 1h0m0 1h0m0 1h0m0 1h0m0 1h0m1-9h0m0 1h0m0 1h0m0 2h0m0 1h0m0 2h0m1-10h0m0 1h0m0 4h0m0 2h0m0 1h0m1-8h0m0 2h0m0 1h0m0 1h0m1-7h0m0 2h0m0 1h0m0 2h0m0 1h0m0 2h0m0 1h0m1-8h0m0 1h0m0 1h0m0 2h0m0 3h0m0 1h0m1-8h0m0 2h0m0 3h0m0 1h0m0 1h0m0 1h0m1-10h0m0 3h0m0 2h0m0 1h0m0 2h0m0 1h0m0 1h0m1-6h0m0 1h0m0 3h0m1-6h0m0 3h0m0 4h0m0 1h0m0 1h0m0 2h0m1-7h0m0 6h0m0 2h0m0 1h0m1-11h0m0 2h0m0 1h0m0 4h0m0 2h0m0 1h0m1-6h0m0 1h0m0 3h0m0 1h0m0 2h0m1-4h0m0 1h0m0 3h0m0 1h0m0 3h0m1-7h0m0 3h0m0 3h0m0 2h0m0 1h0m0 1h0m1-5h0m0 1h0m0 2h0m0 1h0m0 1h0m0 2h0m1-3h0m0 3h0m0 1h0m0 1h0m1-2h0m0 1h0m0 2h0m0 1h0m0 1h0m1-8h0m0 5h0m0 2h0m0 2h0m0 1h0m0 1h0m1-6h0m0 1h0m0 3h0m0 1h0m0 2h0m0 1h0m0 1h0m0 20h0m1-28h0m0 1h0m0 3h0m0 1h0m0 1h0m0 6h0m0 1h0m1-8h0m0 1h0m0 1h0m0 1h0m0 1h0m0 2h0m1-7h0m0 2h0m0 2h0m0 2h0m0 4h0m1-10h0m0 2h0m0 1h0m0 2h0m0 1h0m1-4h0m0 1h0m0 1h0m0 1h0m0 1h0m1-7h0m0 1h0m0 2h0m0 2h0m0 1h0m1-7h0m0 3h0m0 1h0m0 2h0m1-10h0m0 2h0m0 3h0m0 1h0m1-9h0m0 1h0m0 1h0m0 1h0m0 1h0m1-6h0m0 2h0m0 1h0m0 4h0m0 1h0m1-11h0m0 2h0m0 1h0m0 2h0m0 1h0m0 4h0m1-14h0m0 4h0m0 2h0m0 2h0m1-7h0m0 3h0m0 2h0m0 1h0m0 2h0m0 2h0m1-11h0m0 5h0m0 1h0m0 2h0m0 2h0m1-6h0m0 2h0m0 1h0m0 1h0m0 1h0m1-6h0m0 3h0m0 1h0m0 1h0m0 1h0m1-8h0m0 1h0m0 1h0m0 1h0m0 2h0m0 1h0m0 5h0m1-8h0m0 1h0m0 1h0m0 1h0m0 1h0m1-5h0m0 1h0m0 1h0m0 1h0m0 1h0m1-4h0m0 1h0m0 1h0m0 2h0m0 2h0m1-6h0m0 1h0m0 1h0m0 2h0m0 1h0m0 1h0m0 2h0m1-7h0m0 3h0m0 1h0m0 1h0m0 3h0m1-8h0m0 1h0m0 2h0m0 1h0m0 3h0m1-7h0m0 2h0m0 1h0m0 1h0m0 1h0m0 3h0m1-8h0m0 4h0m0 3h0m0 1h0m0 1h0m1-2h0m0 1h0m0 1h0m0 1h0m0 1h0m1-5h0m0 2h0m0 2h0m0 1h0m0 1h0m0 1h0m1-4h0m0 1h0m0 2h0m0 1h0m0 1h0m0 1h0m1-4h0m0 2h0m0 1h0m0 3h0m0 1h0m1-6h0m0 1h0m0 2h0m0 1h0m0 2h0m0 1h0m0 1h0m1-9h0m0 5h0m0 1h0m0 1h0m0 2h0m0 1h0m1-5h0m0 1h0m0 1h0m0 1h0m0 1h0m0 2h0m1-7h0m0 3h0m0 1h0m0 2h0m1-7h0m0 4h0m0 1h0m0 1h0m0 1h0m1-4h0m0 2h0m0 3h0m0 2h0m1-9h0m0 2h0m0 1h0m0 1h0m0 2h0m0 2h0m0 2h0m1-5h0m0 1h0m0 1h0m0 1h0m1-8h0m0 4h0m0 2h0m0 2h0m0 1h0m1-5h0m0 1h0m0 2h0m0 1h0m0 1h0m0 1h0m1-8h0m0 1h0m0 3h0m0 1h0m0 1h0m0 4h0m1-10h0m0 3h0m0 1h0m0 2h0m0 1h0m0 3h0m0 8h0m1-20h0m0 1h0m0 1h0m0 2h0m0 2h0m0 2h0m1-9h0m0 1h0m1-6h0m0 3h0m0 1h0m0 2h0m1-10h0m0 3h0m0 1h0m0 1h0m0 2h0m1-9h0m0 2h0m0 1h0m0 2h0m0 1h0m0 1h0m1-10h0m0 3h0m0 2h0m0 1h0m0 1h0m1-9h0m0 4h0m0 3h0m0 1h0m0 2h0m1-9h0m0 2h0m0 1h0m0 1h0m0 1h0m0 1h0m1-7h0m0 2h0m0 2h0m0 1h0m0 1h0m0 3h0m1-10h0m0 2h0m0 2h0m0 1h0m0 3h0m0 1h0m0 1h0m1-13h0m0 7h0m0 1h0m0 1h0m1-5h0m0 2h0m0 3h0m0 1h0m1-10h0m0 1h0m0 2h0m0 2h0m0 1h0m0 1h0m1-4h0m0 1h0m0 1h0m0 2h0m0 1h0m1-8h0m0 2h0m0 6h0m0 1h0m0 3h0m1-6h0m0 2h0m0 1h0m0 1h0m0 2h0m0 1h0m0 2h0m1-8h0m0 1h0m0 2h0m0 1h0m0 1h0m0 1h0m1-5h0m0 1h0m0 1h0m0 1h0m0 2h0m0 1h0m1-4h0m0 1h0m0 1h0m0 2h0m0 1h0m0 1h0m0 1h0m1-2h0m0 1h0m0 1h0m0 1h0m0 1h0m0 1h0m0 1h0m1-1h0m0 1h0m0 1h0m0 1h0m0 1h0m0 1h0m0 1h0m1-6h0m0 2h0m0 2h0m0 1h0m0 4h0m0 2h0m1-8h0m0 1h0m0 1h0m0 1h0m0 1h0m0 1h0m0 1h0m1-6h0m0 2h0m0 1h0m0 2h0m0 2h0m1-3h0m0 1h0m0 1h0m0 1h0m0 3h0m0 1h0m1-12h0m0 5h0m0 1h0m0 2h0m0 3h0m0 3h0m1-9h0m0 1h0m0 2h0m0 1h0m1-4h0m0 1h0m0 1h0m0 2h0m0 1h0m0 1h0m1-10h0m0 4h0m0 2h0m0 1h0m0 1h0m1-6h0m0 2h0m0 1h0m0 1h0m0 1h0m0 1h0m1-5h0m0 1h0m0 1h0m0 1h0m0 3h0m0 1h0m1-8h0m0 1h0m0 1h0m0 2h0m0 2h0m1-5h0m0 2h0m0 1h0m0 1h0m1-10h0m0 1h0m0 2h0m0 1h0m0 1h0m0 1h0m1-13h0m0 4h0m0 1h0m0 1h0m0 1h0m0 2h0m0 5h0m1-18h0m0 1h0m0 2h0m0 1h0m0 1h0m0 2h0m1-10h0m0 2h0m0 2h0m0 1h0m1-12h0m0 5h0m0 2h0m0 1h0m0 3h0m0 5h0m1-18h0m0 6h0m0 1h0m0 1h0m0 1h0m0 3h0m1-15h0m0 4h0m0 2h0m0 2h0m0 5h0m1-12h0m0 2h0m0 2h0m0 1h0m0 1h0m0 1h0m0 1h0m0 3h0m1-5h0m0 2h0m0 1h0m0 1h0m0 2h0m0 49h0m1-57h0m0 2h0m0 2h0m0 1h0m0 1h0m0 1h0m1-6h0m0 2h0m0 1h0m0 1h0m0 4h0m1-3h0m0 1h0m0 1h0m0 2h0m0 1h0m1-3h0m0 1h0m0 1h0m0 1h0m0 3h0m1-5h0m0 1h0m0 1h0m0 2h0m0 1h0m0 1h0m1-5h0m0 2h0m0 1h0m0 1h0m0 1h0m0 3h0m1-6h0m0 1h0m0 1h0m0 1h0m0 1h0m1-5h0m0 1h0m0 2h0m0 1h0m0 2h0m0 1h0m1-8h0m0 3h0m0 1h0m0 1h0m0 1h0m1-7h0m0 2h0m0 1h0m0 1h0m0 1h0m0 2h0m1-6h0m0 1h0m0 4h0m0 2h0m0 1h0m1-3h0m0 1h0m0 1h0m0 1h0m0 1h0m1-2h0m0 1h0m0 1h0m0 1h0m0 1h0m0 3h0m1-8h0m0 3h0m0 1h0m0 1h0m0 4h0m1-5h0m0 1h0m0 2h0m0 1h0m1-8h0m0 4h0m0 1h0m0 1h0m0 2h0m0 3h0m1-13h0m0 2h0m0 2h0m0 2h0m0 2h0m0 2h0m1-5h0m0 1h0m0 1h0m0 2h0m0 2h0m1-9h0m0 1h0m0 2h0m0 1h0m0 2h0m1-10h0m0 2h0m0 1h0m0 2h0m0 1h0m0 3h0m1-6h0m0 2h0m0 2h0m0 1h0m0 1h0m0 1h0m1-7h0m0 4h0m0 1h0m0 1h0m0 1h0m1-10h0m0 1h0m0 4h0m0 1h0m0 2h0m0 4h0m1-18h0m0 6h0m0 1h0m0 2h0m0 1h0m0 3h0m1-11h0m0 4h0m0 1h0m0 3h0m0 2h0m0 1h0m0 2h0m1-9h0m0 1h0m0 2h0m0 1h0m0 1h0m1-12h0m0 4h0m0 2h0m0 1h0m1-9h0m0 2h0m0 1h0m0 1h0m0 1h0m0 1h0m1-10h0m0 2h0m0 1h0m0 1h0m0 2h0m1-7h0m0 3h0m0 2h0m0 1h0m0 1h0m0 3h0m1-7h0m0 1h0m0 3h0m0 2h0m1-6h0m0 3h0m0 1h0m0 1h0m0 2h0m1-7h0m0 2h0m0 2h0m0 2h0m0 3h0m1-13h0m0 4h0m0 1h0m0 1h0m0 1h0m0 3h0m1-9h0m0 2h0m0 1h0m0 1h0m0 1h0m0 2h0m0 2h0m1-6h0m0 2h0m0 1h0m0 1h0m0 1h0m0 2h0m1-9h0m0 1h0m0 1h0m0 1h0m0 1h0m0 1h0m0 1h0m1-4h0m0 1h0m0 2h0m0 1h0m0 1h0m0 1h0m0 51h0m1-58h0m0 2h0m0 1h0m0 2h0m0 1h0m0 2h0m1-6h0m0 1h0m0 1h0m0 1h0m1-6h0m0 2h0m0 2h0m0 2h0m0 2h0m1-5h0m0 1h0m0 2h0m0 1h0m1-4h0m0 3h0m0 3h0m0 1h0m0 3h0m1-7h0m0 2h0m0 1h0m0 1h0m0 1h0m0 1h0m1-2h0m0 1h0m0 2h0m0 1h0m0 1h0m0 1h0m1-9h0m0 2h0m0 5h0m0 1h0m0 2h0m0 1h0m0 1h0m0 3h0m1-10h0m0 3h0m0 1h0m0 1h0m0 1h0m0 3h0m1-8h0m0 1h0m0 3h0m0 1h0m0 2h0m0 1h0m0 4h0m1-10h0m0 2h0m0 2h0m0 2h0m0 1h0m1-10h0m0 3h0m0 2h0m0 1h0m0 2h0m0 1h0m1-4h0m0 1h0m0 1h0m0 3h0m0 2h0m1-14h0m0 2h0m0 2h0m0 2h0m0 1h0m0 1h0m0 1h0m1-6h0m0 2h0m0 1h0m0 1h0m1-6h0m0 1h0m0 1h0m0 1h0m0 1h0m0 1h0m0 2h0m1-10h0m0 2h0m0 1h0m0 1h0m0 1h0m0 2h0m1-9h0m0 2h0m0 1h0m0 2h0m0 1h0m0 4h0m1-9h0m0 1h0m0 1h0m0 1h0m0 1h0m1-6h0m0 2h0m0 1h0m0 1h0m0 1h0m0 1h0m1-11h0m0 1h0m0 2h0m0 2h0m0 1h0m0 4h0m1-14h0m0 2h0m0 1h0m0 3h0m0 1h0m1-9h0m0 2h0m0 1h0m0 3h0m1-9h0m0 1h0m0 2h0m0 2h0m0 3h0m1-12h0m0 3h0m0 1h0m0 2h0m0 1h0m0 2h0m1-13h0m0 5h0m0 1h0m0 2h0m0 1h0m0 1h0m1-3h0m0 2h0m0 1h0m0 1h0m1-8h0m0 1h0m0 1h0m0 4h0m0 3h0m1-8h0m0 1h0m0 1h0m0 1h0m0 2h0m0 3h0m1-10h0m0 1h0m0 6h0m0 1h0m0 1h0m0 1h0m0 1h0m1-6h0m0 1h0m0 1h0m0 1h0m0 5h0m1-8h0m0 1h0m0 1h0m0 1h0m0 1h0m0 1h0m0 2h0m1-11h0m0 4h0m0 1h0m0 2h0m0 2h0m0 2h0m0 2h0m1-7h0m0 2h0m0 1h0m0 2h0m0 1h0m0 2h0m1-8h0m0 5h0m0 3h0m0 1h0m0 2h0m0 2h0m1-11h0m0 1h0m0 2h0m0 1h0m0 1h0m0 1h0m0 3h0m1-4h0m0 1h0m0 2h0m0 1h0m0 3h0m1-10h0m0 3h0m0 5h0m0 5h0m1-11h0m0 6h0m0 1h0m0 1h0m0 2h0m0 1h0m0 1h0m0 2h0m1-12h0m0 2h0m0 1h0m0 2h0m0 1h0m0 5h0m1-4h0m0 1h0m0 6h0m1-11h0m0 1h0m0 1h0m0 2h0m0 1h0m0 1h0m1-4h0m0 1h0m0 2h0m0 1h0m0 2h0m0 2h0m1-11h0m0 2h0m0 3h0m0 2h0m1-8h0m0 4h0m0 1h0m0 1h0m0 2h0m1-5h0m0 1h0m0 1h0m0 1h0m0 1h0m1-6h0m0 3h0m0 1h0m0 1h0m0 1h0m0 4h0m1-12h0m0 2h0m0 1h0m0 1h0m0 3h0m0 1h0m0 1h0m1-8h0m0 1h0m0 2h0m0 3h0m1-11h0m0 4h0m0 1h0m0 3h0m1-10h0m0 3h0m0 1h0m0 1h0m0 1h0m0 1h0m0 4h0m1-16h0m0 1h0m0 2h0m0 1h0m0 3h0m0 1h0m1-8h0m0 3h0m0 2h0m0 1h0m1-11h0m0 1h0m0 2h0m0 1h0m0 1h0m0 1h0m0 3h0m1-8h0m0 1h0m0 2h0m0 1h0m0 1h0m1-6h0m0 1h0m0 1h0m0 2h0m0 5h0m1-15h0m0 6h0m0 4h0m0 1h0m0 1h0m1-9h0m0 1h0m0 2h0m0 1h0m0 1h0m0 1h0m0 4h0m1-12h0m0 2h0m0 3h0m0 3h0m0 2h0m1-12h0m0 4h0m0 1h0m0 1h0m0 1h0m0 1h0m1-11h0m0 4h0m0 2h0m0 2h0m0 1h0m0 2h0m0 3h0m1-11h0m0 4h0m0 1h0m0 2h0m0 2h0m1-6h0m0 1h0m0 1h0m0 2h0m0 1h0m1-10h0m0 3h0m0 2h0m0 2h0m0 3h0m1-8h0m0 2h0m0 1h0m0 1h0m0 1h0m0 2h0m1-1h0m0 1h0m0 1h0m0 1h0m0 2h0m0 1h0m1-8h0m0 3h0m0 1h0m0 3h0m0 1h0m1-7h0m0 1h0m0 1h0m0 3h0m0 2h0m1-5h0m0 2h0m0 2h0m1-1h0m0 1h0m0 3h0m0 2h0m0 1h0m0 1h0m1-6h0m0 1h0m0 1h0m0 1h0m0 1h0m0 1h0m0 3h0m1-5h0m0 1h0m0 2h0m0 1h0m0 1h0m0 1h0m1-7h0m0 3h0m0 1h0m0 1h0m0 1h0m0 2h0m1-7h0m0 2h0m0 1h0m0 2h0m0 1h0m1-5h0m0 3h0m0 1h0m0 2h0m0 2h0m0 3h0m1-11h0m0 4h0m0 2h0m0 2h0m0 1h0m0 2h0m1-15h0m0 4h0m0 3h0m0 2h0m0 1h0m0 40h0m1-44h0m0 2h0m0 2h0m0 1h0m0 1h0m1-10h0m0 1h0m0 3h0m0 3h0m0 2h0m1-9h0m0 1h0m0 1h0m0 2h0m0 2h0m1-6h0m0 1h0m0 1h0m0 2h0m0 1h0m0 1h0m0 2h0m1-13h0m0 3h0m0 2h0m0 2h0m0 1h0m0 1h0m1-10h0m0 2h0m0 3h0m0 2h0m0 3h0m0 1h0m1-13h0m0 3h0m0 1h0m0 1h0m0 1h0m0 1h0m1-12h0m0 2h0m0 2h0m0 2h0m0 1h0m0 1h0m0 2h0m1-15h0m0 2h0m0 2h0m0 3h0m0 2h0m0 1h0m0 1h0m1-9h0m0 1h0m0 3h0m0 1h0m0 3h0m1-12h0m0 3h0m0 1h0m0 1h0m0 1h0m0 1h0m0 3h0m1-12h0m0 1h0m0 1h0m0 3h0m0 4h0m1-14h0m0 3h0m0 1h0m0 1h0m1-8h0m0 1h0m0 1h0m0 4h0m0 1h0m1-10h0m0 3h0m0 1h0m0 2h0m0 1h0m0 1h0m1-8h0m0 2h0m0 1h0m0 2h0m0 2h0m1-10h0m0 5h0m0 2h0m0 1h0m0 1h0m0 4h0m1-13h0m0 5h0m0 1h0m0 1h0m0 2h0m0 3h0m1-12h0m0 2h0m0 4h0m0 2h0m0 1h0m0 3h0m1-7h0m0 1h0m0 1h0m0 3h0m0 1h0m1-5h0m0 3h0m0 1h0m0 1h0m0 1h0m0 1h0m1-8h0m0 2h0m0 3h0m0 1h0m1-4h0m0 2h0m0 1h0m0 2h0m1-8h0m0 4h0m0 1h0m0 1h0m0 2h0m0 1h0m0 5h0m1-8h0m0 2h0m0 2h0m0 1h0m0 1h0m1-6h0m0 2h0m0 3h0m0 1h0m0 1h0m0 8h0m1-10h0m0 1h0m0 1h0m0 1h0m0 2h0m1-2h0m0 2h0m0 1h0m0 2h0m0 4h0m1-8h0m0 1h0m0 3h0m0 3h0m0 2h0m1-8h0m0 2h0m0 1h0m0 2h0m0 3h0m0 2h0m1-7h0m0 2h0m0 6h0m1-11h0m0 3h0m0 2h0m0 1h0m0 1h0m0 6h0m1-13h0m0 1h0m0 2h0m0 3h0m0 1h0m0 1h0m0 3h0m1-11h0m0 4h0m0 1h0m0 1h0m0 1h0m0 2h0m0 1h0m1-10h0m0 3h0m0 1h0m0 1h0m0 1h0m0 2h0m0 1h0m1-7h0m0 1h0m0 3h0m0 1h0m0 1h0m0 1h0m1-12h0m0 3h0m0 3h0m0 3h0m0 3h0m1-16h0m0 4h0m0 1h0m0 3h0m0 1h0m0 2h0m1-14h0m0 1h0m0 1h0m0 1h0m0 1h0m0 1h0m1-15h0m0 5h0m0 1h0m0 2h0m0 1h0m1-13h0m0 1h0m0 1h0m0 5h0m0 2h0m1-11h0m0 2h0m0 1h0m0 1h0m1-6h0m0 1h0m0 3h0m0 2h0m0 1h0m1-11h0m0 1h0m0 1h0m0 1h0m0 2h0m0 1h0m1-7h0m0 1h0m0 1h0m0 1h0m0 2h0m0 1h0m0 1h0m1-8h0m0 1h0m0 2h0m0 2h0m0 1h0m0 4h0m1-11h0m0 1h0m0 1h0m0 2h0m0 4h0m0 3h0m1-16h0m0 3h0m0 3h0m0 3h0m0 1h0m1-7h0m0 2h0m0 1h0m0 3h0m0 2h0m1-12h0m0 2h0m0 2h0m0 1h0m0 3h0m1-7h0m0 1h0m0 1h0m0 2h0m0 1h0m0 2h0m1-5h0m0 2h0m0 2h0m0 1h0m0 4h0m1-7h0m0 2h0m0 1h0m0 1h0m0 1h0m0 1h0m0 4h0m1-4h0m0 1h0m0 1h0m0 3h0m0 2h0m1-11h0m0 3h0m0 1h0m0 1h0m0 4h0m0 1h0m0 1h0m0 3h0m1-12h0m0 5h0m0 1h0m0 1h0m0 2h0m1-8h0m0 2h0m0 3h0m0 1h0m0 1h0m0 1h0m0 2h0m1-5h0m0 3h0m0 1h0m0 1h0m0 5h0m1-7h0m0 2h0m0 1h0m0 1h0m0 1h0m0 1h0m0 2h0m1-7h0m0 2h0m0 1h0m0 1h0m0 3h0m1-4h0m0 2h0m0 2h0m0 1h0m0 3h0m1-8h0m0 2h0m0 1h0m0 2h0m0 1h0m0 2h0m0 1h0m1-7h0m0 1h0m0 5h0m0 1h0m0 2h0m1-11h0m0 2h0m0 1h0m0 2h0m0 4h0m1-12h0m0 2h0m0 1h0m0 1h0m0 5h0m1-9h0m0 4h0m0 1h0m0 1h0m0 1h0m0 2h0m0 1h0m1-8h0m0 1h0m0 2h0m0 2h0m0 1h0m0 1h0m1-5h0m0 1h0m0 1h0m0 1h0m0 1h0m0 1h0m0 1h0m1-7h0m0 3h0m0 1h0m0 1h0m0 2h0m1-8h0m0 2h0m0 1h0m0 1h0m0 3h0m1-9h0m0 1h0m0 1h0m0 4h0m0 3h0m1-15h0m0 8h0m0 1h0m0 1h0m0 1h0m0 2h0m1-14h0m0 3h0m0 1h0m0 1h0m0 1h0m0 1h0m0 4h0m1-11h0m0 1h0m0 1h0m0 4h0m0 3h0m1-15h0m0 2h0m0 2h0m0 1h0m0 1h0m0 1h0m1-9h0m0 1h0m0 2h0m0 1h0m0 1h0m0 1h0m0 2h0m1-13h0m0 2h0m0 1h0m0 2h0m1-8h0m0 3h0m0 1h0m0 1h0m0 2h0m0 2h0m1-11h0m0 1h0m0 2h0m0 1h0m0 2h0m1-5h0m0 1h0m0 3h0m0 1h0m0 2h0m1-12h0m0 3h0m0 3h0m0 2h0m0 2h0m0 1h0m1-5h0m0 1h0m0 1h0m0 1h0m1-5h0m0 1h0m0 1h0m0 2h0m0 2h0m1-7h0m0 2h0m0 1h0m0 1h0m0 1h0m1-6h0m0 1h0m0 1h0m0 2h0m0 3h0m0 2h0m1-4h0m0 2h0m0 1h0m0 1h0m0 1h0m1-9h0m0 3h0m0 2h0m0 3h0m0 3h0m0 2h0m1-9h0m0 4h0m0 3h0m0 1h0m0 1h0m0 1h0m1-8h0m0 7h0m0 1h0m0 2h0m0 2h0m1-2h0m0 1h0m0 4h0m0 1h0m0 1h0m0 1h0m1-7h0m0 3h0m0 1h0m0 2h0m0 4h0m0 1h0m1-9h0m0 4h0m0 2h0m0 1h0m1-4h0m0 1h0m0 3h0m0 1h0m0 1h0m0 2h0m1-4h0m0 1h0m0 1h0m0 1h0m0 2h0m0 1h0m1-5h0m0 2h0m0 1h0m0 1h0m0 5h0m0 2h0m1-10h0m0 4h0m0 3h0m0 1h0m0 1h0m1-7h0m0 2h0m0 1h0m0 1h0m0 1h0m0 2h0m0 3h0m1-6h0m0 1h0m0 2h0m0 1h0m0 1h0m1-7h0m0 1h0m0 2h0m0 1h0m0 2h0m1-9h0m0 3h0m0 2h0m0 2h0m0 1h0m1-6h0m0 1h0m0 1h0m0 5h0m1-11h0m0 1h0m0 1h0m0 2h0m0 2h0m0 3h0m1-12h0m0 1h0m0 1h0m0 1h0m0 4h0m1-15h0m0 3h0m0 2h0m0 1h0m0 2h0m0 1h0m0 1h0m1-11h0m0 3h0m0 1h0m0 2h0m0 5h0m1-12h0m0 1h0m0 2h0m0 1h0m0 1h0m1-13h0m0 4h0m0 1h0m0 1h0m0 2h0m0 1h0m1-8h0m0 2h0m0 3h0m0 1h0m0 1h0m1-12h0m0 1h0m0 1h0m0 2h0m0 1h0m0 2h0m0 1h0m1-10h0m0 5h0m0 1h0m0 1h0m0 1h0m1-9h0m0 2h0m0 1h0m0 1h0m0 1h0m0 3h0m0 2h0m1-10h0m0 1h0m0 1h0m0 1h0m0 2h0m1-5h0m0 2h0m0 1h0m0 1h0m0 1h0m0 1h0m0 1h0m1-8h0m0 2h0m0 2h0m0 3h0m0 1h0m0 3h0m1-10h0m0 1h0m0 1h0m0 2h0m0 2h0m0 1h0m0 1h0m1-3h0m0 1h0m0 1h0m0 1h0m0 2h0m1-10h0m0 1h0m0 1h0m0 3h0m0 1h0m1-2h0m0 1h0m0 2h0m0 2h0m0 4h0m1-11h0m0 5h0m0 3h0m0 1h0m0 2h0m0 2h0m1-5h0m0 2h0m0 1h0m0 3h0m0 1h0m0 2h0m0 17h0m1-22h0m0 1h0m0 1h0m0 2h0m0 3h0m1-3h0m0 2h0m0 1h0m0 5h0m0 1h0m1-7h0m0 2h0m0 1h0m0 1h0m0 2h0m0 1h0m1-7h0m0 2h0m0 1h0m0 2h0m0 1h0m0 123h0m1-131h0m0 4h0m0 2h0m0 1h0m0 1h0m0 1h0m0 3h0m0 1h0m1-5h0m0 1h0m0 1h0m0 4h0m0 1h0m0 8h0m1-17h0m0 4h0m0 2h0m0 1h0m0 1h0m1-8h0m0 2h0m0 2h0m0 2h0m0 4h0m1-8h0m0 1h0m0 1h0m0 1h0m0 4h0m0 1h0m1-11h0m0 3h0m0 2h0m0 1h0m0 2h0m1-9h0m0 4h0m0 1h0m0 2h0m0 1h0m0 2h0m0 1h0m1-11h0m0 5h0m0 1h0m0 1h0m1-2h0m0 1h0m0 3h0m0 1h0m0 1h0m0 1h0m1-15h0m0 6h0m0 1h0m0 1h0m0 1h0m0 3h0m1-9h0m0 2h0m0 1h0m0 1h0m0 3h0m1-6h0m0 1h0m0 1h0m0 2h0m0 1h0m1-12h0m0 1h0m0 3h0m0 2h0m0 2h0m0 1h0m0 1h0m1-14h0m0 5h0m0 1h0m0 1h0m0 1h0m0 2h0m1-11h0m0 2h0m0 3h0m0 1h0m0 1h0m1-9h0m0 1h0m0 1h0m0 4h0m0 1h0m0 1h0m1-14h0m0 1h0m0 2h0m0 6h0m0 3h0m0 1h0m1-15h0m0 6h0m0 1h0m0 2h0m0 2h0m1-7h0m0 1h0m0 2h0m0 1h0m0 1h0m0 1h0m0 5h0m1-12h0m0 1h0m0 2h0m0 1h0m0 1h0m0 1h0m0 3h0m1-9h0m0 1h0m0 2h0m0 1h0m0 2h0m1-5h0m0 1h0m0 1h0m0 1h0m0 1h0m0 3h0m1-7h0m0 1h0m0 1h0m0 1h0m0 1h0m0 4h0m1-8h0m0 3h0m0 1h0m0 2h0m0 1h0m0 2h0m1-10h0m0 2h0m0 2h0m0 2h0m0 1h0m0 3h0m1-5h0m0 1h0m0 1h0m0 5h0m1-7h0m0 2h0m0 1h0m0 2h0m0 1h0m0 2h0m1-9h0m0 4h0m0 3h0m0 1h0m0 1h0m0 1h0m1-2h0m0 1h0m0 1h0m0 4h0m0 1h0m0 3h0m1-7h0m0 4h0m0 1h0m0 2h0m1 0h0m0 2h0m0 1h0m0 2h0m1-2h0m0 1h0m0 2h0m0 1h0m0 1h0m1-3h0m0 1h0m0 2h0m0 2h0m0 5h0m1-10h0m0 1h0m0 1h0m0 2h0m0 1h0m0 3h0m1-8h0m0 5h0m0 1h0m0 1h0m0 1h0m0 1h0m1-3h0m0 1h0m0 1h0m0 2h0m0 1h0m0 1h0m1-9h0m0 1h0m0 3h0m0 1h0m0 2h0m1-3h0m0 1h0m0 2h0m0 1h0m1-11h0m0 5h0m0 1h0m0 1h0m0 1h0m0 1h0m1-7h0m0 2h0m0 2h0m0 1h0m0 2h0m1-6h0m0 1h0m0 1h0m0 1h0m0 1h0m1-5h0m0 1h0m0 1h0m0 2h0m1-6h0m0 4h0m0 1h0m0 1h0m0 2h0m0 2h0m0 3h0m1-12h0m0 3h0m0 1h0m0 2h0m0 1h0m1-9h0m0 1h0m0 1h0m0 1h0m0 1h0m0 1h0m0 7h0m1-13h0m0 1h0m0 3h0m0 2h0m1-11h0m0 2h0m0 1h0m0 2h0m0 1h0m0 2h0m0 1h0m1-8h0m0 1h0m0 1h0m0 1h0m1-5h0m0 1h0m0 3h0m0 1h0m0 1h0m0 117h0m1-126h0m0 4h0m0 1h0m0 1h0m0 1h0m0 1h0m0 2h0m1-10h0m0 1h0m0 2h0m0 1h0m0 3h0m0 1h0m0 2h0m1-12h0m0 1h0m0 4h0m0 1h0m0 1h0m0 2h0m0 1h0m1-6h0m0 1h0m0 2h0m0 1h0m0 2h0m1-10h0m0 5h0m0 4h0m0 2h0m0 1h0m1-10h0m0 2h0m0 1h0m0 1h0m0 1h0m1-6h0m0 1h0m0 3h0m0 2h0m0 1h0m0 2h0m1-7h0m0 4h0m0 1h0m0 1h0m0 1h0m0 1h0m1-4h0m0 1h0m0 2h0m0 1h0m1-1h0m0 2h0m0 1h0m0 1h0m0 2h0m1-2h0m0 1h0m0 1h0m0 3h0m0 2h0m1-5h0m0 2h0m0 1h0m0 5h0m0 4h0m1-10h0m0 4h0m0 3h0m0 1h0m1-1h0m0 2h0m0 1h0m0 2h0m0 1h0m0 2h0m1-6h0m0 1h0m0 1h0m0 1h0m0 3h0m0 1h0m0 2h0m1-11h0m0 2h0m0 4h0m0 2h0m0 1h0m0 5h0m1-9h0m0 3h0m0 1h0m0 1h0m0 3h0m0 2h0m1-8h0m0 2h0m0 1h0m0 1h0m0 1h0m0 1h0m0 2h0m0 2h0m1-6h0m0 4h0m0 3h0m0 3h0m1-9h0m0 4h0m0 1h0m0 4h0m1-4h0m0 1h0m0 1h0m0 2h0m0 2h0m0 1h0m1-8h0m0 3h0m0 1h0m0 2h0m0 1h0m0 1h0m1-7h0m0 1h0m0 1h0m0 1h0m0 3h0m0 3h0m0 3h0m1-14h0m0 2h0m0 2h0m0 1h0m0 5h0m1-7h0m0 1h0m0 1h0m0 1h0m0 5h0m1-15h0m0 6h0m0 1h0m0 1h0m0 1h0m0 4h0m1-13h0m0 2h0m0 2h0m0 2h0m0 1h0m0 4h0m1-17h0m0 5h0m0 2h0m0 2h0m1-8h0m0 2h0m0 1h0m0 1h0m0 1h0m0 6h0m1-14h0m0 1h0m0 1h0m0 1h0m0 3h0m0 5h0m1-11h0m0 1h0m0 1h0m0 1h0m0 1h0m0 2h0m1-8h0m0 1h0m0 1h0m0 2h0m0 2h0m0 1h0m0 6h0m1-12h0m0 1h0m0 1h0m0 1h0m1-9h0m0 5h0m0 1h0m0 1h0m0 1h0m1-3h0m0 2h0m0 2h0m0 1h0m0 1h0m1-8h0m0 1h0m0 2h0m0 1h0m0 1h0m0 2h0m1-5h0m0 2h0m0 4h0m1-6h0m0 2h0m0 1h0m0 1h0m0 1h0m0 1h0m1-5h0m0 1h0m0 1h0m0 1h0m0 1h0m1-4h0m0 1h0m0 4h0m0 1h0m0 1h0m1-5h0m0 1h0m0 1h0m0 6h0m0 1h0m1-10h0m0 3h0m0 1h0m0 1h0m0 1h0m0 2h0m1-5h0m0 1h0m0 3h0m0 3h0m0 2h0m0 1h0m0 1h0m1-4h0m0 2h0m0 2h0m0 2h0m0 1h0m1-5h0m0 2h0m0 2h0m0 2h0m0 1h0m0 1h0m1-5h0m0 2h0m0 1h0m0 1h0m0 2h0m0 1h0m0 10h0m1-12h0m0 1h0m0 2h0m0 1h0m0 1h0m0 1h0m1-6h0m0 1h0m0 2h0m0 2h0m0 1h0m0 3h0m1-9h0m0 3h0m0 1h0m0 1h0m0 3h0m0 2h0m1-3h0m0 1h0m0 1h0m0 1h0m0 2h0m0 1h0m1-8h0m0 3h0m0 2h0m0 1h0m0 1h0m0 1h0m0 1h0m1-5h0m0 2h0m0 2h0m0 1h0m0 1h0m0 1h0m1-10h0m0 4h0m0 1h0m0 1h0m0 1h0m0 2h0m1-7h0m0 4h0m0 3h0m0 1h0m0 1h0m0 1h0m0 2h0m1-10h0m0 1h0m0 1h0m0 2h0m0 1h0m1-6h0m0 1h0m0 2h0m0 2h0m0 2h0m0 1h0m1-9h0m0 1h0m0 1h0m0 1h0m0 2h0m0 2h0m1-14h0m0 3h0m0 3h0m0 2h0m0 1h0m0 1h0m0 3h0m1-12h0m0 1h0m0 2h0m0 2h0m1-7h0m0 1h0m0 1h0m0 1h0m0 3h0m0 1h0m1-10h0m0 2h0m0 2h0m0 1h0m0 2h0m0 1h0m0 1h0m1-9h0m0 1h0m0 2h0m0 1h0m0 2h0m0 6h0m1-16h0m0 2h0m0 1h0m0 1h0m0 1h0m0 3h0m0 3h0m0 16h0m1-29h0m0 1h0m0 1h0m0 1h0m0 1h0m1-9h0m0 2h0m0 1h0m0 2h0m0 1h0m0 4h0m0 2h0m1-12h0m0 4h0m0 3h0m0 1h0m1-10h0m0 3h0m0 5h0m0 2h0m1-3h0m0 1h0m0 1h0m0 1h0m0 2h0m0 1h0m1-4h0m0 1h0m0 2h0m0 1h0m0 2h0m1-6h0m0 1h0m0 2h0m0 1h0m0 1h0m1-7h0m0 1h0m0 2h0m0 1h0m0 2h0m0 1h0m0 1h0m1-7h0m0 2h0m0 2h0m0 3h0m0 2h0m1-9h0m0 1h0m0 3h0m0 1h0m0 1h0m0 1h0m1-7h0m0 5h0m0 1h0m0 3h0m0 2h0m1-6h0m0 4h0m0 2h0m0 4h0m1-6h0m0 1h0m0 1h0m0 1h0m0 2h0m1-4h0m0 1h0m0 4h0m0 2h0m0 1h0m0 3h0m1-6h0m0 1h0m0 1h0m0 1h0m0 1h0m1-1h0m0 1h0m0 2h0m0 1h0m1-2h0m0 1h0m0 1h0m0 2h0m0 1h0m1-7h0m0 1h0m0 5h0m0 2h0m0 1h0m1-1h0m0 1h0m0 2h0m1-3h0m0 2h0m0 2h0m0 1h0m0 2h0m1-5h0m0 1h0m0 2h0m1-4h0m0 5h0m0 3h0m0 1h0m0 2h0m1-9h0m0 1h0m0 2h0m0 1h0m0 2h0m1-4h0m0 2h0m0 1h0m0 1h0m1-7h0m0 7h0m0 1h0m0 2h0m1-9h0m0 4h0m0 1h0m0 2h0m1-9h0m0 1h0m0 1h0m0 5h0m0 1h0m1-11h0m0 7h0m0 1h0m0 1h0m0 2h0m1-9h0m0 3h0m0 2h0m1-9h0m0 2h0m0 2h0m0 1h0m0 1h0m0 2h0m1-7h0m0 1h0m0 1h0m0 2h0m1-7h0m0 4h0m0 3h0m0 1h0m1-10h0m0 1h0m0 1h0m0 3h0m0 1h0m0 2h0m1-10h0m0 2h0m0 2h0m0 1h0m0 1h0m0 2h0m1-11h0m0 2h0m0 2h0m0 1h0m0 2h0m0 2h0m1-6h0m0 1h0m0 1h0m0 1h0m0 2h0m0 2h0m1-10h0m0 2h0m0 1h0m0 2h0m0 1h0m0 6h0m1-8h0m0 2h0m0 2h0m1-5h0m0 1h0m0 1h0m0 1h0m0 1h0m0 4h0m1-8h0m0 1h0m0 1h0m0 2h0m0 1h0m0 2h0m1-8h0m0 4h0m0 2h0m0 1h0m0 3h0m1-9h0m0 1h0m0 1h0m0 1h0m0 2h0m0 2h0m1-9h0m0 4h0m0 3h0m0 4h0m1-11h0m0 1h0m0 1h0m0 1h0m0 1h0m0 3h0m0 1h0m0 4h0m1-8h0m0 1h0m0 1h0m0 2h0m0 1h0m0 2h0m1-4h0m0 2h0m0 1h0m0 3h0m1-7h0m0 2h0m0 3h0m0 3h0m0 1h0m0 2h0m0 3h0m1-10h0m0 2h0m0 1h0m0 5h0m0 1h0m0 2h0m1-10h0m0 2h0m0 4h0m0 1h0m0 6h0m1-13h0m0 7h0m0 1h0m0 2h0m0 2h0m0 1h0m1-7h0m0 1h0m0 1h0m0 1h0m1-6h0m0 8h0m0 1h0m0 1h0m0 1h0m1-9h0m0 4h0m0 3h0m0 1h0m0 1h0m0 1h0m1-4h0m0 1h0m0 1h0m0 1h0m0 4h0m1-8h0m0 2h0m0 2h0m0 1h0m0 3h0m0 1h0m1-12h0m0 5h0m0 1h0m0 1h0m0 2h0m0 1h0m1-7h0m0 1h0m0 1h0m0 1h0m0 1h0m0 1h0m0 1h0m1-8h0m0 1h0m0 1h0m0 1h0m0 2h0m0 2h0m1-12h0m0 5h0m0 1h0m0 3h0m0 1h0m0 4h0m1-13h0m0 4h0m0 2h0m0 1h0m1-6h0m0 1h0m0 1h0m0 1h0m0 4h0m1-9h0m0 2h0m0 2h0m0 1h0m0 2h0m1-11h0m0 3h0m0 1h0m0 1h0m0 4h0m0 2h0m1-12h0m0 4h0m0 1h0m0 1h0m0 1h0m1-9h0m0 2h0m0 3h0m0 1h0m0 1h0m0 1h0m0 1h0m0 1h0m1-15h0m0 8h0m0 1h0m0 1h0m0 1h0m1-7h0m0 1h0m0 1h0m0 3h0m0 1h0m0 1h0m1-4h0m0 1h0m0 2h0m0 1h0m1-7h0m0 3h0m0 1h0m0 1h0m0 2h0m0 3h0m1-8h0m0 1h0m0 2h0m0 1h0m0 1h0m0 1h0m1-8h0m0 2h0m0 2h0m0 2h0m0 2h0m0 1h0m1-8h0m0 1h0m0 1h0m0 1h0m0 1h0m1-10h0m0 5h0m0 1h0m0 3h0m0 1h0m0 2h0m0 7h0m1-16h0m0 2h0m0 2h0m0 1h0m0 1h0m1-8h0m0 3h0m0 2h0m0 1h0m0 2h0m0 1h0m0 4h0m1-6h0m0 1h0m0 1h0m0 1h0m0 1h0m0 1h0m1-11h0m0 2h0m0 4h0m0 1h0m0 2h0m0 3h0m1-7h0m0 4h0m0 1h0m0 1h0m0 2h0m1-3h0m0 1h0m0 1h0m0 1h0m0 1h0m1-2h0m0 2h0m0 1h0m0 1h0m0 2h0m0 1h0m0 1h0m1-7h0m0 3h0m0 1h0m0 1h0m0 1h0m0 4h0" stroke="#000" stroke-width="3.75" stroke-linecap="round" fill="none"/>
<path transform="translate(.5 .5)" d="M228 224h0m140 73h0m234-5h0" stroke="#ffa500" stroke-width="3.75" stroke-linecap="round" fill="none"/>
<path transform="translate(.5 .5)" d="M1239 306h0" stroke="#f00" stroke-width="3.75" stroke-linecap="round" fill="none"/>
<path d="M104.5 102.9H1361" stroke="#008000" stroke-width="2.08" fill="none"/>
<path d="M162 321.5V35.5" stroke="#800080" stroke-width="2.08" stroke-dasharray="2.08 3.44" stroke-dashoffset="0.00" fill="none"/>
<path d="M1303 321.5V35.5" stroke="#800080" stroke-width="2.08" stroke-dasharray="2.08 3.44" stroke-dashoffset="0.00" fill="none"/>
</g>
<rect x="105.5" y="35.5" width="1380" height="286" fill="none" stroke="#000" stroke-width="1.11"/>
<path d="M162.5 321.5v5.4M427.5 321.5v5.4M692.5 321.5v5.4M956.5 321.5v5.4M1221.5 321.5v5.4" stroke="#000" stroke-width="1.11" fill="none"/>
<text x="163.3" y="342.1" text-anchor="middle">0</text>
<text x="426.8" y="342.1" text-anchor="middle">2000</text>
<text x="692.1" y="342.1" text-anchor="middle">4000</text>
<text x="955.8" y="342.1" text-anchor="middle">6000</text>
<text x="1220.9" y="342.1" text-anchor="middle">8000</text>
<path d="M105.5 43.5h-5.4M105.5 85.5h-5.4M105.5 126.5h-5.4M105.5 167.5h-5.4M105.5 209.5h-5.4M105.5 250.5h-5.4M105.5 292.5h-5.4" stroke="#000" stroke-width="1.11" fill="none"/>
<text x="95" y="48.9" text-anchor="end">10.4</text>
<text x="95" y="90.9" text-anchor="end">10.2</text>
<text x="95" y="131.9" text-anchor="end">10.0</text>
<text x="95" y="172.9" text-anchor="end">9.8</text>
<text x="95" y="214.9" text-anchor="end">9.6</text>
<text x="95" y="255.9" text-anchor="end">9.4</text>
<text x="95" y="297.9" text-anchor="end">9.2</text>
<text x="794.5" y="26.9" text-anchor="middle" font-size="16.67">AGASC ID 717362040.0</text>
<text x="732" y="312" text-anchor="middle">59067</text>
<rect x="1361.3" y="42.3" width="117.3" height="27.3" rx="2.8" fill="#fff" fill-opacity="0.8" stroke="#ccc" stroke-opacity="0.8" stroke-width="1.39"/>
<path d="M1366.9 53.9H1394.7" stroke="#008000" stroke-width="2.08" stroke-linecap="square" fill="none"/>
<text x="1406.9" y="58.8">mag<tspan font-style="italic" font-size="9.72" dy="2.2" dx="0.2">AGASC</tspan></text>
<rect x="1348.4" y="247.1" width="130.2" height="67.2" rx="2.8" fill="#fff" fill-opacity="0.8" stroke="#ccc" stroke-opacity="0.8" stroke-width="1.39"/>
<circle cx="1367.4" cy="260.3" r="1.88" fill="#f00"/>
<circle cx="1367.4" cy="281.4" r="1.88" fill="#ffa500"/>
<circle cx="1367.4" cy="302.4" r="1.88" fill="#000"/>
<text x="1392.2" y="263.9">not OK</text>
<text x="1392.2" y="284.9">Highlighted</text>
<text x="1392.2" y="305.6">OK</text>
<g clip-path="url(#c2)">
<path transform="translate(.5 .5)" d="M162 494h0m0 1h0m0 4h0m0 1h0m1-7h0m0 2h0m0 1h0m0 2h0m0 1h0m1-7h0m0 1h0m0 1h0m0 1h0m0 1h0m1-6h0m0 2h0m0 2h0m0 3h0m1-5h0m0 1h0m0 1h0m0 1h0m0 3h0m1-5h0m0 3h0m0 1h0m0 2h0m0 1h0m1-5h0m0 3h0m0 1h0m0 3h0m0 1h0m0 1h0m1-6h0m0 3h0m0 2h0m0 2h0m0 2h0m0 1h0m1-2h0m0 3h0m0 1h0m0 1h0m1-1h0m0 2h0m0 1h0m0 1h0m0 3h0m1-10h0m0 3h0m0 2h0m0 1h0m0 2h0m1-6h0m0 2h0m0 1h0m0 1h0m0 2h0m1-8h0m0 1h0m0 1h0m0 1h0m0 1h0m0 4h0m1-8h0m0 1h0m0 3h0m0 2h0m0 2h0m1-6h0m0 1h0m0 1h0m0 1h0m0 2h0m1-6h0m0 3h0m0 2h0m0 2h0m1-6h0m0 1h0m0 1h0m0 1h0m0 1h0m0 1h0m0 1h0m1-6h0m0 3h0m0 1h0m1-7h0m0 4h0m0 1h0m0 2h0m0 2h0m1-8h0m0 1h0m0 1h0m0 1h0m1-10h0m0 2h0m0 1h0m0 2h0m0 2h0m1-7h0m0 1h0m0 1h0m0 2h0m0 1h0m0 1h0m1-5h0m0 1h0m0 1h0m0 1h0m0 2h0m1-5h0m0 1h0m0 1h0m0 1h0m0 1h0m0 1h0m0 3h0m1-11h0m0 2h0m0 1h0m0 1h0m0 4h0m0 2h0m1-10h0m0 1h0m0 2h0m0 1h0m0 1h0m0 1h0m0 3h0m1-9h0m0 3h0m0 3h0m0 2h0m1-7h0m0 1h0m0 1h0m0 1h0m0 1h0m0 1h0m1-4h0m0 1h0m0 1h0m0 2h0m1-3h0m0 1h0m0 1h0m0 1h0m0 1h0m0 1h0m1-6h0m0 2h0m0 1h0m0 1h0m0 1h0m0 1h0m0 1h0m0 37h0m1-42h0m0 3h0m0 1h0m0 1h0m0 2h0m0 2h0m0 1h0m1-8h0m0 2h0m0 1h0m0 2h0m0 2h0m1-4h0m0 1h0m0 2h0m0 1h0m0 1h0m1-3h0m0 2h0m0 1h0m0 1h0m0 2h0m1-6h0m0 1h0m0 1h0m0 1h0m0 1h0m0 2h0m1-4h0m0 1h0m0 2h0m0 1h0m0 4h0m1-6h0m0 2h0m0 1h0m0 1h0m1-3h0m0 3h0m0 1h0m0 2h0m0 1h0m1-3h0m0 2h0m0 1h0m0 1h0m0 2h0m1-4h0m0 2h0m0 2h0m0 1h0m1-6h0m0 3h0m0 1h0m0 1h0m0 3h0m0 3h0m1-6h0m0 2h0m0 1h0m0 1h0m0 2h0m1-6h0m0 1h0m0 2h0m0 1h0m0 3h0m1-4h0m0 4h0m0 1h0m0 1h0m0 1h0m0 1h0m1-6h0m0 1h0m0 3h0m0 1h0m0 1h0m0 1h0m1-9h0m0 6h0m0 1h0m1-7h0m0 2h0m0 1h0m0 1h0m0 2h0m0 1h0m0 1h0m1-6h0m0 2h0m1-5h0m0 2h0m0 1h0m0 1h0m0 1h0m0 2h0m1-7h0m0 1h0m0 1h0m0 1h0m1-5h0m0 1h0m0 1h0m0 1h0m0 5h0m1-6h0m0 1h0m0 1h0m1-6h0m0 2h0m0 1h0m0 1h0m0 1h0m1-10h0m0 1h0m0 3h0m0 1h0m0 2h0m0 2h0m1-8h0m0 3h0m0 1h0m0 1h0m1-7h0m0 1h0m0 2h0m0 1h0m0 1h0m0 3h0m1-11h0m0 2h0m0 1h0m0 1h0m0 1h0m0 2h0m1-8h0m0 3h0m0 1h0m0 1h0m0 2h0m1-4h0m0 2h0m0 1h0m0 1h0m1-5h0m0 2h0m0 1h0m0 1h0m0 1h0m1-6h0m0 4h0m0 1h0m0 1h0m1-4h0m0 2h0m0 1h0m0 1h0m0 1h0m0 2h0m1-6h0m0 2h0m0 1h0m0 1h0m0 1h0m1-6h0m0 2h0m0 1h0m0 1h0m0 3h0m0 3h0m1-5h0m0 3h0m0 1h0m0 1h0m0 2h0m1-5h0m0 2h0m0 2h0m0 1h0m0 1h0m1-5h0m0 2h0m0 1h0m0 1h0m0 3h0m0 2h0m1-6h0m0 3h0m0 1h0m0 1h0m0 4h0m1-7h0m0 3h0m0 1h0m0 1h0m1-2h0m0 1h0m0 2h0m0 2h0m1-2h0m0 1h0m0 1h0m0 2h0m1-5h0m0 3h0m0 2h0m0 1h0m0 1h0m1-4h0m0 3h0m0 2h0m0 2h0m0 1h0m1-4h0m0 1h0m0 1h0m0 1h0m1-4h0m0 3h0m0 2h0m0 1h0m0 2h0m0 1h0m1-7h0m0 1h0m0 1h0m0 1h0m0 2h0m0 2h0m1-9h0m0 3h0m0 2h0m0 1h0m0 5h0m1-10h0m0 1h0m0 1h0m0 1h0m0 1h0m0 1h0m0 2h0m1-5h0m0 1h0m0 1h0m0 4h0m1-9h0m0 1h0m0 1h0m0 1h0m0 1h0m0 1h0m1-4h0m0 1h0m0 2h0m0 1h0m0 1h0m1-8h0m0 1h0m0 1h0m0 1h0m0 1h0m1-8h0m0 2h0m0 2h0m0 1h0m0 1h0m0 2h0m0 1h0m1-9h0m0 1h0m0 2h0m0 1h0m1-3h0m0 2h0m0 1h0m0 1h0m0 1h0m1-7h0m0 1h0m0 1h0m0 1h0m0 2h0m1-9h0m0 3h0m0 1h0m0 1h0m0 1h0m0 1h0m0 2h0m1-9h0m0 1h0m0 1h0m0 2h0m0 1h0m0 1h0m1-6h0m0 1h0m0 3h0m0 2h0m1-6h0m0 1h0m0 2h0m0 1h0m1-4h0m0 1h0m0 1h0m0 1h0m0 1h0m0 2h0m1-9h0m0 2h0m0 2h0m0 2h0m0 1h0m0 1h0m1-3h0m0 1h0m0 1h0m0 1h0m0 2h0m1-5h0m0 3h0m0 1h0m0 1h0m0 1h0m0 1h0m1-7h0m0 2h0m0 1h0m0 1h0m1-2h0m0 1h0m0 1h0m0 1h0m0 1h0m0 2h0m1-5h0m0 2h0m0 1h0m0 1h0m0 1h0m0 2h0m1-7h0m0 3h0m0 1h0m0 2h0m0 1h0m1-4h0m0 2h0m0 1h0m0 1h0m0 1h0m1-5h0m0 1h0m0 2h0m0 1h0m0 1h0m0 1h0m1-3h0m0 2h0m0 1h0m0 1h0m0 1h0m1-3h0m0 2h0m0 2h0m1-5h0m0 4h0m0 1h0m0 3h0m1-3h0m0 1h0m0 1h0m0 1h0m0 2h0m1-8h0m0 3h0m0 1h0m0 1h0m0 2h0m0 1h0m0 2h0m1-7h0m0 1h0m0 1h0m0 1h0m0 4h0m0 30h0m1-34h0m0 1h0m0 1h0m0 1h0m0 2h0m0 1h0m1-8h0m0 2h0m0 1h0m0 1h0m0 4h0m1-9h0m0 2h0m0 2h0m0 2h0m0 2h0m1-6h0m0 4h0m0 1h0m0 1h0m0 1h0m0 2h0m1-9h0m0 5h0m0 1h0m0 1h0m1-5h0m0 2h0m0 2h0m0 1h0m0 1h0m0 1h0m0 1h0m1-9h0m0 3h0m0 1h0m0 1h0m0 2h0m0 1h0m1-11h0m0 3h0m0 1h0m0 1h0m0 1h0m0 4h0m1-7h0m0 3h0m0 1h0m1-10h0m0 5h0m0 1h0m0 1h0m0 2h0m0 1h0m1-7h0m0 1h0m0 1h0m0 1h0m0 2h0m1-9h0m0 2h0m0 1h0m0 1h0m0 1h0m0 1h0m0 1h0m0 1h0m1-10h0m0 2h0m0 1h0m0 2h0m0 1h0m1-6h0m0 1h0m0 1h0m0 1h0m0 2h0m0 1h0m1-9h0m0 2h0m0 3h0m0 1h0m0 2h0m0 1h0m1-10h0m0 5h0m0 1h0m0 1h0m1-7h0m0 1h0m0 1h0m0 1h0m0 1h0m0 1h0m1-6h0m0 2h0m0 2h0m0 4h0m1-6h0m0 1h0m0 1h0m0 1h0m0 1h0m0 1h0m1-4h0m0 1h0m0 2h0m0 1h0m0 1h0m1-8h0m0 4h0m0 1h0m0 2h0m0 1h0m1-6h0m0 3h0m0 1h0m0 1h0m0 1h0m0 1h0m1-4h0m0 2h0m0 1h0m0 2h0m0 2h0m1-6h0m0 1h0m0 2h0m0 3h0m1-10h0m0 4h0m0 3h0m0 1h0m1-3h0m0 1h0m0 1h0m0 1h0m0 2h0m1-2h0m0 1h0m0 2h0m0 3h0m0 1h0m1-6h0m0 1h0m0 2h0m0 2h0m0 1h0m1-5h0m0 1h0m0 1h0m0 2h0m0 1h0m0 1h0m1-6h0m0 4h0m0 2h0m0 2h0m1-5h0m0 1h0m0 3h0m0 2h0m0 2h0m0 4h0m1-13h0m0 3h0m0 1h0m0 1h0m0 1h0m0 1h0m0 4h0m1-5h0m0 1h0m0 1h0m0 3h0m1-6h0m0 1h0m0 1h0m0 1h0m0 2h0m1-4h0m0 1h0m0 1h0m0 1h0m0 3h0m0 1h0m1-9h0m0 4h0m0 2h0m0 1h0m1-2h0m0 1h0m0 1h0m0 1h0m0 1h0m1-6h0m0 2h0m0 1h0m0 1h0m0 3h0m1-6h0m0 1h0m0 1h0m0 2h0m1-7h0m0 2h0m0 2h0m0 2h0m0 1h0m1-8h0m0 2h0m0 2h0m0 1h0m0 1h0m0 1h0m0 1h0m1-7h0m0 1h0m0 2h0m0 1h0m1-6h0m0 2h0m0 1h0m0 1h0m0 1h0m1-6h0m0 2h0m0 1h0m0 1h0m0 1h0m0 1h0m1-9h0m0 3h0m0 2h0m0 1h0m0 1h0m1-8h0m0 1h0m0 2h0m0 1h0m0 1h0m0 2h0m1-8h0m0 1h0m0 1h0m0 1h0m1-5h0m0 1h0m0 1h0m0 1h0m0 3h0m1-8h0m0 1h0m0 1h0m0 1h0m0 1h0m1-5h0m0 1h0m0 1h0m0 1h0m0 1h0m0 1h0m1-3h0m0 1h0m0 1h0m0 1h0m1-4h0m0 1h0m0 2h0m0 1h0m0 3h0m1-6h0m0 1h0m0 1h0m0 3h0m1-8h0m0 3h0m0 3h0m0 2h0m0 1h0m1-8h0m0 3h0m0 1h0m0 2h0m0 1h0m1-4h0m0 1h0m0 1h0m0 2h0m1-3h0m0 1h0m0 2h0m0 2h0m1-5h0m0 1h0m0 3h0m0 5h0m1-11h0m0 3h0m0 1h0m0 3h0m0 2h0m1-4h0m0 1h0m0 2h0m0 2h0m1-3h0m0 2h0m0 1h0m0 1h0m1-1h0m0 3h0m0 1h0m0 1h0m0 1h0m1-7h0m0 4h0m0 2h0m0 3h0m0 1h0m1-4h0m0 1h0m0 2h0m0 1h0m0 2h0m1-3h0m0 1h0m0 1h0m0 1h0m0 1h0m1-7h0m0 2h0m0 1h0m0 1h0m0 2h0m0 1h0m1-6h0m0 1h0m0 1h0m0 1h0m1-3h0m0 1h0m0 1h0m0 1h0m0 1h0m0 1h0m1-5h0m0 2h0m0 1h0m0 1h0m1-5h0m0 1h0m0 1h0m0 2h0m0 1h0m0 1h0m0 1h0m1-8h0m0 2h0m0 1h0m0 3h0m0 1h0m1-9h0m0 3h0m0 1h0m0 1h0m0 1h0m1-8h0m0 1h0m0 2h0m0 2h0m0 3h0m1-11h0m0 3h0m0 1h0m0 1h0m0 2h0m0 1h0m0 1h0m1-8h0m0 1h0m0 1h0m0 1h0m0 1h0m0 1h0m1-8h0m0 1h0m0 2h0m0 1h0m0 1h0m0 3h0m0 1h0m1-10h0m0 1h0m0 2h0m0 1h0m0 1h0m0 2h0m0 1h0m1-9h0m0 2h0m0 1h0m0 1h0m0 1h0m1-5h0m0 1h0m0 1h0m0 2h0m0 1h0m1-6h0m0 1h0m0 3h0m0 1h0m1-8h0m0 1h0m0 1h0m0 1h0m0 1h0m0 1h0m1-4h0m0 3h0m0 2h0m1-7h0m0 2h0m0 1h0m0 1h0m0 1h0m0 1h0m0 3h0m1-9h0m0 4h0m0 1h0m0 2h0m1-4h0m0 1h0m0 1h0m0 1h0m0 1h0m1-5h0m0 2h0m0 1h0m0 1h0m0 2h0m0 2h0m1-5h0m0 1h0m0 1h0m0 3h0m0 32h0m1-38h0m0 1h0m0 2h0m0 2h0m0 1h0m0 2h0m1-7h0m0 3h0m0 2h0m1-6h0m0 3h0m0 1h0m0 2h0m1-4h0m0 1h0m0 1h0m0 2h0m0 6h0m1-8h0m0 1h0m0 3h0m0 1h0m0 1h0m1-2h0m0 1h0m0 1h0m0 1h0m0 1h0m0 2h0m1-5h0m0 1h0m0 2h0m0 2h0m0 1h0m0 1h0m1-6h0m0 3h0m0 1h0m0 2h0m1-1h0m0 2h0m0 1h0m0 1h0m1-5h0m0 2h0m0 1h0m0 1h0m0 2h0m0 1h0m1-9h0m0 1h0m0 4h0m0 1h0m0 1h0m0 2h0m1-6h0m0 2h0m0 1h0m0 1h0m0 1h0m1-8h0m0 4h0m0 1h0m0 1h0m0 1h0m1-3h0m0 1h0m0 1h0m0 1h0m0 1h0m0 2h0m1-6h0m0 1h0m0 1h0m0 1h0m1-6h0m0 3h0m0 1h0m1-9h0m0 2h0m0 2h0m0 2h0m0 1h0m0 1h0m0 40h0m1-48h0m0 2h0m0 1h0m0 5h0m1-7h0m0 1h0m0 1h0m0 3h0m1-7h0m0 2h0m0 1h0m0 1h0m0 1h0m1-6h0m0 1h0m0 1h0m0 2h0m1-11h0m0 5h0m0 1h0m0 3h0m0 1h0m1-10h0m0 3h0m0 1h0m0 1h0m0 1h0m0 1h0m0 1h0m1-6h0m0 1h0m0 1h0m0 2h0m0 2h0m1-11h0m0 3h0m0 1h0m0 1h0m0 1h0m0 1h0m1-4h0m0 1h0m0 2h0m0 1h0m0 1h0m0 3h0m1-11h0m0 4h0m0 1h0m0 1h0m1-5h0m0 1h0m0 1h0m0 1h0m0 2h0m1-5h0m0 2h0m0 1h0m0 1h0m0 1h0m1-6h0m0 2h0m0 1h0m0 1h0m0 1h0m1-7h0m0 4h0m0 1h0m0 1h0m0 4h0m1-8h0m0 1h0m0 1h0m0 1h0m0 2h0m0 1h0m1-4h0m0 1h0m0 1h0m0 1h0m0 2h0m1-8h0m0 2h0m0 1h0m0 1h0m0 1h0m0 2h0m1-7h0m0 3h0m0 1h0m0 1h0m0 6h0m1-8h0m0 2h0m0 2h0m0 1h0m0 1h0m1-4h0m0 1h0m0 1h0m0 1h0m0 1h0m0 1h0m0 1h0m1-1h0m0 1h0m0 2h0m0 1h0m0 4h0m1-8h0m0 1h0m0 3h0m0 1h0m0 5h0m1-7h0m0 3h0m0 1h0m0 2h0m1-4h0m0 2h0m0 1h0m0 1h0m0 1h0m0 1h0m1-6h0m0 1h0m0 4h0m0 1h0m0 1h0m0 1h0m1-5h0m0 1h0m0 2h0m0 1h0m0 1h0m0 1h0m0 1h0m1-8h0m0 3h0m0 1h0m0 1h0m1-4h0m0 1h0m0 2h0m0 1h0m0 1h0m0 1h0m1-8h0m0 2h0m0 1h0m0 2h0m0 1h0m0 3h0m1-7h0m0 2h0m0 1h0m1-8h0m0 1h0m0 3h0m0 2h0m0 1h0m1-8h0m0 2h0m0 3h0m0 1h0m0 1h0m0 1h0m0 1h0m1-12h0m0 5h0m0 1h0m0 1h0m0 1h0m1-6h0m0 1h0m0 1h0m0 2h0m0 1h0m1-6h0m0 1h0m0 1h0m1-5h0m0 1h0m0 1h0m0 1h0m0 1h0m1-4h0m0 1h0m0 1h0m0 3h0m1-9h0m0 2h0m0 1h0m0 1h0m0 2h0m0 1h0m1-7h0m0 2h0m0 2h0m1-6h0m0 1h0m0 1h0m0 1h0m0 1h0m0 1h0m1-6h0m0 1h0m0 1h0m0 1h0m0 2h0m1-6h0m0 1h0m0 1h0m0 1h0m0 1h0m1-7h0m0 1h0m0 2h0m0 1h0m0 1h0m0 1h0m1-4h0m0 1h0m0 1h0m0 1h0m1-5h0m0 1h0m0 1h0m0 2h0m0 1h0m0 3h0m0 2h0m1-12h0m0 2h0m0 1h0m0 2h0m0 1h0m0 1h0m1-7h0m0 2h0m0 1h0m0 1h0m0 2h0m0 2h0m1-7h0m0 3h0m0 1h0m0 1h0m0 1h0m0 2h0m1-7h0m0 1h0m0 1h0m0 1h0m0 1h0m0 2h0m1-9h0m0 1h0m0 3h0m0 1h0m0 1h0m0 1h0m1-6h0m0 4h0m0 3h0m0 1h0m1-6h0m0 2h0m0 1h0m0 1h0m0 3h0m1-3h0m0 1h0m0 2h0m0 1h0m0 2h0m1-2h0m0 1h0m0 1h0m0 6h0m0 14h0m1-19h0m0 1h0m0 2h0m0 1h0m0 1h0m0 2h0m1-7h0m0 2h0m0 2h0m0 1h0m1-3h0m0 3h0m0 1h0m0 1h0m0 3h0m1-4h0m0 1h0m0 2h0m0 2h0m1-8h0m0 2h0m0 3h0m0 2h0m1-5h0m0 1h0m0 2h0m0 1h0m0 2h0m0 1h0m1-6h0m0 1h0m0 1h0m0 5h0m1-6h0m0 1h0m0 1h0m0 1h0m0 1h0m1-7h0m0 3h0m0 1h0m0 1h0m0 1h0m1-5h0m0 1h0m0 1h0m0 2h0m0 1h0m0 1h0m1-7h0m0 1h0m0 2h0m0 2h0m0 3h0m1-11h0m0 3h0m0 1h0m0 1h0m0 1h0m0 2h0m1-10h0m0 3h0m0 1h0m0 1h0m0 1h0m0 1h0m0 1h0m1-10h0m0 2h0m0 1h0m0 2h0m0 3h0m1-11h0m0 1h0m0 2h0m0 1h0m0 2h0m0 1h0m0 3h0m1-11h0m0 1h0m0 1h0m0 1h0m0 1h0m0 2h0m1-10h0m0 1h0m0 3h0m0 1h0m0 1h0m0 4h0m1-13h0m0 3h0m0 1h0m0 1h0m1-7h0m0 1h0m0 2h0m0 1h0m0 3h0m0 1h0m1-8h0m0 1h0m0 1h0m0 1h0m0 3h0m1-6h0m0 2h0m0 2h0m0 1h0m0 1h0m1-6h0m0 2h0m0 1h0m0 1h0m0 1h0m0 4h0m1-10h0m0 1h0m0 2h0m0 1h0m0 1h0m0 1h0m0 3h0m1-7h0m0 1h0m0 2h0m0 1h0m0 1h0m0 1h0m1-7h0m0 2h0m0 1h0m0 2h0m0 1h0m1-5h0m0 4h0m0 2h0m1-8h0m0 3h0m0 2h0m0 2h0m0 1h0m1-8h0m0 1h0m0 1h0m0 2h0m0 1h0m0 1h0m0 3h0m1-8h0m0 2h0m0 2h0m1-2h0m0 1h0m0 2h0m0 1h0m0 1h0m0 2h0m1-8h0m0 3h0m0 1h0m0 2h0m0 1h0m0 1h0m1-6h0m0 4h0m0 1h0m0 1h0m0 1h0m0 3h0m1-3h0m0 1h0m0 1h0m0 1h0m1-6h0m0 1h0m0 2h0m0 1h0m0 1h0m1-3h0m0 2h0m0 1h0m0 1h0m0 2h0m0 4h0m1-6h0m0 2h0m0 1h0m0 2h0m1-5h0m0 1h0m0 1h0m0 1h0m0 1h0m0 2h0m1-8h0m0 1h0m0 2h0m0 1h0m0 1h0m1-7h0m0 5h0m0 2h0m0 1h0m0 2h0m1-6h0m0 1h0m0 1h0m0 2h0m0 1h0m0 1h0m1-7h0m0 1h0m0 1h0m0 1h0m0 1h0m0 1h0m1-5h0m0 2h0m0 1h0m1-7h0m0 2h0m0 4h0m0 1h0m0 1h0m0 1h0m0 1h0m1-8h0m0 3h0m0 1h0m0 1h0m0 2h0m1-9h0m0 2h0m0 1h0m0 2h0m0 2h0m1-7h0m0 2h0m0 1h0m0 1h0m0 4h0m1-12h0m0 1h0m0 2h0m0 2h0m0 2h0m1-13h0m0 3h0m0 2h0m0 1h0m0 2h0m0 1h0m0 3h0m1-10h0m0 1h0m0 3h0m1-11h0m0 2h0m0 1h0m0 1h0m0 3h0m1-9h0m0 1h0m0 3h0m0 6h0m1-10h0m0 1h0m0 1h0m0 2h0m0 2h0m0 1h0m1-8h0m0 1h0m0 1h0m0 1h0m0 1h0m0 3h0m1-10h0m0 1h0m0 3h0m0 1h0m0 2h0m1-5h0m0 2h0m0 1h0m0 2h0m1-6h0m0 3h0m0 1h0m0 1h0m0 3h0m1-7h0m0 1h0m0 1h0m0 1h0m0 1h0m0 1h0m0 1h0m1-6h0m0 1h0m0 2h0m0 1h0m0 1h0m1-6h0m0 2h0m0 1h0m0 1h0m1-3h0m0 1h0m0 1h0m0 2h0m1-5h0m0 2h0m0 1h0m0 1h0m0 1h0m1-3h0m0 2h0m0 1h0m1-4h0m0 1h0m0 1h0m0 1h0m0 1h0m0 2h0m0 1h0m1-4h0m0 1h0m0 1h0m0 1h0m0 2h0m0 3h0m1-7h0m0 1h0m0 1h0m0 1h0m0 2h0m0 1h0m1-6h0m0 3h0m0 3h0m0 1h0m1-3h0m0 2h0m0 2h0m0 1h0m0 2h0m1-6h0m0 1h0m0 2h0m0 2h0m0 1h0m0 1h0m1-5h0m0 1h0m0 1h0m0 1h0m0 3h0m1-5h0m0 1h0m0 2h0m0 1h0m0 2h0m1-9h0m0 5h0m0 2h0m0 1h0m0 1h0m0 14h0m1-22h0m0 2h0m0 2h0m0 1h0m0 1h0m0 1h0m1-5h0m0 1h0m0 1h0m0 1h0m0 2h0m1-5h0m0 1h0m0 1h0m0 2h0m1-6h0m0 1h0m0 2h0m0 1h0m0 1h0m1-7h0m0 1h0m0 1h0m0 2h0m0 2h0m1-6h0m0 1h0m0 1h0m0 2h0m0 1h0m0 3h0m1-11h0m0 2h0m0 2h0m0 1h0m0 1h0m0 1h0m1-8h0m0 1h0m0 1h0m0 1h0m0 1h0m0 1h0m1-10h0m0 2h0m0 3h0m0 2h0m1-9h0m0 1h0m0 1h0m0 3h0m0 2h0m0 1h0m1-15h0m0 5h0m0 1h0m0 1h0m0 1h0m0 1h0m1-9h0m0 2h0m0 1h0m0 2h0m0 1h0m1-9h0m0 3h0m0 1h0m0 1h0m0 1h0m0 1h0m1-8h0m0 1h0m0 3h0m0 1h0m0 1h0m0 1h0m1-11h0m0 3h0m0 2h0m0 1h0m0 1h0m0 2h0m1-6h0m0 1h0m0 1h0m0 1h0m0 2h0m0 2h0m1-7h0m0 1h0m0 1h0m0 1h0m0 2h0m1-4h0m0 1h0m0 2h0m0 1h0m0 2h0m1-7h0m0 1h0m0 1h0m0 2h0m1-4h0m0 2h0m0 1h0m0 1h0m0 1h0m0 1h0m1-8h0m0 4h0m0 1h0m0 2h0m0 1h0m1-10h0m0 4h0m0 1h0m0 1h0m0 3h0m1-4h0m0 1h0m0 1h0m0 2h0m0 1h0m1-8h0m0 1h0m0 2h0m0 1h0m0 2h0m1-7h0m0 2h0m0 1h0m0 1h0m0 1h0m1-1h0m0 1h0m0 1h0m0 4h0m1-6h0m0 1h0m0 1h0m0 1h0m0 3h0m1-2h0m0 1h0m0 2h0m0 1h0m0 1h0m0 1h0m1-5h0m0 1h0m0 1h0m0 1h0m0 2h0m0 1h0m0 1h0m1-3h0m0 3h0m0 1h0m0 1h0m0 1h0m1-5h0m0 2h0m0 1h0m0 1h0m0 2h0m0 1h0m1-7h0m0 1h0m0 2h0m0 1h0m0 2h0m1-4h0m0 1h0m0 2h0m0 1h0m1-7h0m0 1h0m0 1h0m0 1h0m0 3h0m1-8h0m0 1h0m0 2h0m0 1h0m0 1h0m0 3h0m1-7h0m0 3h0m0 1h0m0 1h0m0 1h0m1-9h0m0 2h0m0 2h0m0 1h0m0 3h0m1-9h0m0 1h0m0 2h0m0 2h0m0 1h0m0 1h0m0 2h0m1-10h0m0 1h0m0 1h0m0 2h0m0 4h0m1-16h0m0 2h0m0 3h0m0 1h0m0 1h0m0 1h0m1-11h0m0 2h0m0 1h0m0 1h0m0 1h0m1-12h0m0 4h0m0 1h0m0 1h0m0 2h0m0 2h0m1-11h0m0 3h0m0 1h0m0 2h0m0 1h0m1-6h0m0 1h0m0 1h0m0 1h0m0 1h0m1-7h0m0 3h0m0 1h0m0 1h0m0 1h0m0 3h0m1-11h0m0 2h0m0 2h0m0 2h0m0 2h0m0 2h0m1-6h0m0 1h0m0 1h0m1-9h0m0 3h0m0 2h0m0 2h0m0 2h0m1-8h0m0 1h0m0 2h0m0 1h0m0 3h0m1-10h0m0 1h0m0 1h0m0 1h0m0 2h0m0 2h0m0 2h0m1-7h0m0 1h0m0 1h0m0 1h0m0 1h0m0 1h0m1-6h0m0 4h0m0 1h0m0 3h0m0 1h0m1-8h0m0 2h0m0 5h0m0 1h0m0 1h0m1-8h0m0 3h0m0 1h0m0 5h0m1-8h0m0 3h0m0 1h0m0 1h0m0 2h0m1-5h0m0 1h0m0 2h0m0 1h0m0 1h0m0 4h0m1-8h0m0 1h0m0 2h0m0 1h0m0 1h0m1-3h0m0 2h0m0 2h0m0 1h0m1-2h0m0 1h0m0 1h0m0 2h0m0 5h0m1-10h0m0 3h0m0 2h0m0 1h0m0 2h0m0 1h0m1-3h0m0 3h0m0 1h0m0 2h0m0 1h0m0 2h0m1-6h0m0 1h0m0 2h0m0 2h0m0 1h0m1-3h0m0 1h0m0 1h0m0 1h0m0 3h0m1-6h0m0 1h0m0 1h0m0 1h0m0 1h0m0 2h0m0 1h0m1-8h0m0 4h0m0 1h0m0 1h0m0 1h0m0 2h0m1-9h0m0 1h0m0 2h0m0 2h0m1-7h0m0 2h0m0 1h0m0 1h0m1-8h0m0 3h0m0 1h0m0 1h0m0 1h0m0 3h0m1-8h0m0 1h0m0 1h0m0 2h0m0 1h0m1-10h0m0 3h0m0 1h0m0 1h0m0 2h0m0 2h0m0 1h0m1-9h0m0 1h0m0 2h0m0 1h0m1-6h0m0 1h0m0 1h0m0 2h0m1-8h0m0 2h0m0 1h0m0 3h0m0 2h0m1-11h0m0 2h0m0 1h0m0 1h0m0 3h0m1-9h0m0 1h0m0 1h0m0 1h0m0 2h0m0 2h0m1-7h0m0 2h0m0 5h0m1-7h0m0 1h0m0 2h0m0 2h0m0 1h0m0 3h0m1-12h0m0 1h0m0 1h0m0 4h0m0 1h0m1-7h0m0 1h0m0 3h0m0 3h0m0 2h0m1-14h0m0 7h0m0 1h0m0 1h0m0 1h0m1-4h0m0 1h0m0 1h0m0 1h0m0 4h0m1-12h0m0 3h0m0 1h0m0 3h0m0 1h0m1-5h0m0 2h0m0 1h0m0 1h0m0 2h0m1-9h0m0 2h0m0 1h0m0 2h0m0 1h0m0 1h0m1-3h0m0 2h0m0 1h0m0 1h0m0 1h0m1-6h0m0 3h0m0 1h0m0 2h0m1-6h0m0 1h0m0 1h0m0 3h0m0 2h0m1-5h0m0 1h0m0 3h0m0 1h0m0 1h0m0 1h0m1-5h0m0 1h0m0 1h0m0 1h0m0 1h0m1-3h0m0 1h0m0 1h0m0 1h0m0 2h0m1-5h0m0 1h0m0 1h0m0 1h0m0 1h0m0 2h0m1-3h0m0 1h0m0 2h0m0 2h0m0 3h0m1-6h0m0 1h0m0 1h0m0 1h0m0 3h0m1-5h0m0 5h0m0 1h0m0 1h0m1-3h0m0 1h0m0 2h0m0 2h0m0 1h0m1-3h0m0 1h0m0 1h0m0 2h0m0 1h0m1-4h0m0 2h0m0 1h0m0 1h0m0 1h0m0 1h0m1-6h0m0 3h0m0 1h0m0 1h0m1-4h0m0 2h0m0 1h0m0 1h0m0 1h0m0 1h0m0 2h0m1-9h0m0 2h0m0 2h0m0 1h0m0 1h0m0 1h0m0 3h0m1-7h0m0 1h0m0 1h0m0 1h0m0 1h0m0 1h0m1-9h0m0 3h0m0 1h0m0 1h0m0 2h0m0 1h0m1-8h0m0 3h0m0 1h0m0 1h0m0 1h0m0 1h0m1-6h0m0 3h0m0 1h0m0 1h0m1-8h0m0 1h0m0 1h0m0 2h0m0 1h0m0 1h0m1-8h0m0 2h0m0 1h0m0 1h0m0 1h0m0 1h0m1-10h0m0 3h0m0 2h0m0 1h0m0 1h0m0 1h0m0 1h0m1-8h0m0 1h0m1-5h0m0 2h0m0 1h0m0 1h0m0 1h0m1-10h0m0 2h0m0 1h0m0 1h0m0 1h0m0 1h0m1-8h0m0 1h0m0 1h0m0 2h0m0 1h0m1-7h0m0 2h0m0 3h0m0 1h0m1-12h0m0 7h0m0 1h0m0 2h0m0 1h0m0 1h0m0 1h0m1-8h0m0 3h0m0 1h0m0 1h0m1-3h0m0 1h0m0 2h0m0 1h0m0 1h0m1-9h0m0 4h0m0 2h0m0 1h0m0 3h0m1-8h0m0 1h0m0 1h0m0 1h0m0 2h0m1-7h0m0 2h0m0 2h0m0 1h0m0 2h0m0 2h0m1-6h0m0 1h0m0 3h0m0 1h0m1-8h0m0 3h0m0 1h0m0 2h0m0 2h0m1-5h0m0 3h0m0 1h0m0 2h0m1-3h0m0 2h0m0 1h0m0 1h0m0 3h0m1-4h0m0 2h0m0 1h0m0 2h0m0 1h0m0 1h0m1-4h0m0 2h0m0 1h0m0 1h0m0 1h0m0 2h0m1-6h0m0 2h0m0 1h0m0 3h0m0 1h0m0 2h0m1-2h0m0 1h0m0 1h0m0 1h0m0 1h0m0 3h0m1-4h0m0 1h0m0 1h0m0 1h0m0 1h0m0 3h0m0 50h0m1-55h0m0 2h0m0 1h0m0 1h0m0 2h0m0 1h0m0 1h0m1-4h0m0 1h0m0 2h0m0 3h0m1-6h0m0 1h0m0 1h0m0 4h0m1-7h0m0 1h0m0 1h0m0 1h0m0 1h0m0 4h0m1-9h0m0 2h0m0 1h0m0 1h0m0 1h0m1-5h0m0 2h0m0 1h0m0 1h0m0 1h0m1-4h0m0 1h0m0 1h0m0 1h0m0 1h0m0 1h0m0 2h0m0 2h0m1-10h0m0 1h0m0 1h0m0 1h0m0 1h0m1-7h0m0 3h0m0 1h0m0 2h0m1-10h0m0 2h0m0 2h0m0 1h0m0 2h0m1-12h0m0 1h0m0 1h0m0 2h0m0 1h0m1-10h0m0 1h0m0 1h0m0 1h0m0 1h0m0 1h0m1-11h0m0 4h0m0 2h0m0 2h0m0 3h0m1-12h0m0 1h0m0 2h0m0 1h0m0 1h0m0 2h0m1-8h0m0 3h0m0 1h0m0 2h0m0 1h0m1-7h0m0 1h0m0 1h0m0 3h0m0 1h0m1-5h0m0 1h0m0 1h0m0 1h0m0 1h0m0 2h0m1-8h0m0 1h0m0 1h0m0 2h0m0 1h0m0 1h0m1-2h0m0 1h0m0 1h0m0 1h0m1-5h0m0 1h0m0 2h0m0 1h0m0 1h0m0 1h0m1-4h0m0 1h0m0 2h0m0 1h0m1-4h0m0 2h0m0 2h0m0 1h0m0 18h0m1-21h0m0 1h0m0 1h0m0 1h0m1-2h0m0 1h0m0 1h0m0 1h0m1-4h0m0 1h0m0 1h0m0 1h0m0 2h0m1-2h0m0 1h0m0 2h0m0 1h0m0 1h0m1-4h0m0 1h0m0 2h0m0 1h0m1-2h0m0 1h0m0 1h0m0 1h0m0 2h0m1 0h0m0 1h0m0 1h0m0 1h0m1-4h0m0 1h0m0 2h0m0 2h0m0 2h0m1-2h0m0 1h0m0 1h0m0 1h0m0 1h0m1-4h0m0 2h0m0 1h0m0 4h0m0 1h0m1-7h0m0 2h0m0 1h0m0 1h0m0 3h0m0 1h0m0 9h0m1-14h0m0 2h0m0 1h0m0 1h0m0 2h0m1-2h0m0 1h0m0 1h0m0 2h0m1-4h0m0 1h0m0 2h0m0 3h0m0 1h0m1-6h0m0 2h0m0 1h0m0 1h0m0 3h0m1-8h0m0 2h0m0 1h0m0 1h0m0 1h0m0 1h0m1-3h0m0 1h0m0 1h0m0 2h0m0 1h0m1-7h0m0 2h0m0 1h0m0 1h0m0 2h0m0 2h0m0 1h0m1-6h0m0 1h0m0 2h0m0 3h0m1-7h0m0 1h0m0 1h0m0 1h0m0 2h0m0 1h0m0 2h0m1-10h0m0 1h0m0 3h0m0 1h0m0 1h0m1-9h0m0 2h0m0 1h0m0 1h0m0 1h0m0 2h0m1-10h0m0 1h0m0 1h0m0 2h0m0 1h0m0 3h0m1-12h0m0 1h0m0 3h0m0 1h0m0 1h0m1-5h0m0 2h0m0 1h0m0 1h0m0 1h0m1-8h0m0 1h0m0 1h0m0 1h0m0 4h0m0 3h0m1-8h0m0 2h0m0 1h0m1-4h0m0 2h0m0 1h0m0 3h0m1-7h0m0 1h0m0 1h0m0 2h0m0 1h0m0 4h0m1-10h0m0 1h0m0 1h0m0 3h0m1-7h0m0 3h0m0 1h0m0 1h0m0 1h0m1-3h0m0 1h0m0 1h0m0 2h0m1-3h0m0 1h0m0 1h0m0 2h0m1-6h0m0 1h0m0 2h0m0 2h0m0 1h0m1-3h0m0 2h0m0 2h0m0 2h0m1-4h0m0 1h0m0 2h0m0 1h0m1-6h0m0 3h0m0 1h0m0 1h0m0 1h0m0 34h0m1-35h0m0 1h0m0 1h0m0 2h0m0 1h0m1-1h0m0 1h0m0 2h0m0 1h0m1-4h0m0 2h0m0 2h0m0 1h0m0 1h0m0 1h0m1 1h0m0 1h0m0 1h0m0 2h0m0 2h0m1-2h0m0 2h0m0 1h0m0 1h0m0 2h0m1-5h0m0 1h0m0 1h0m0 2h0m0 1h0m1-7h0m0 3h0m0 1h0m0 1h0m0 1h0m0 3h0m0 1h0m1-3h0m0 1h0m0 1h0m0 1h0m1-3h0m0 3h0m0 1h0m0 1h0m0 1h0m1-6h0m0 3h0m0 1h0m0 1h0m0 1h0m0 1h0m1-2h0m0 1h0m0 2h0m1-3h0m0 2h0m0 1h0m0 1h0m1-5h0m0 2h0m0 1h0m0 1h0m0 2h0m1-7h0m0 2h0m0 1h0m0 1h0m0 1h0m0 1h0m1-5h0m0 2h0m0 1h0m0 1h0m1-8h0m0 1h0m0 1h0m0 3h0m0 1h0m0 2h0m0 1h0m1-10h0m0 1h0m0 2h0m0 1h0m0 1h0m1-8h0m0 2h0m0 1h0m0 2h0m0 2h0m1-8h0m0 2h0m0 1h0m0 1h0m0 1h0m1-7h0m0 3h0m0 3h0m1-10h0m0 4h0m0 2h0m0 1h0m0 1h0m0 1h0m1-11h0m0 1h0m0 2h0m0 1h0m0 2h0m1-6h0m0 1h0m0 2h0m0 1h0m0 1h0m1-5h0m0 1h0m0 2h0m0 1h0m0 1h0m1-6h0m0 1h0m0 2h0m0 1h0m0 5h0m1-8h0m0 1h0m0 3h0m0 1h0m1-8h0m0 5h0m0 1h0m0 1h0m0 2h0m0 2h0m1-8h0m0 2h0m0 1h0m0 2h0m0 1h0m1-7h0m0 1h0m0 5h0m0 2h0m1-5h0m0 2h0m0 2h0m0 1h0m0 1h0m1-4h0m0 1h0m0 2h0m0 3h0m1-2h0m0 1h0m0 1h0m0 1h0m0 1h0m1 0h0m0 1h0m0 2h0m0 1h0m0 2h0m1-2h0m0 1h0m0 1h0m0 4h0m0 1h0m1-9h0m0 1h0m0 5h0m0 3h0m1-8h0m0 4h0m0 1h0m0 3h0m0 2h0m0 1h0m1-6h0m0 1h0m0 1h0m0 2h0m0 1h0m0 2h0m1-7h0m0 3h0m0 2h0m0 1h0m0 2h0m1-5h0m0 1h0m0 2h0m0 1h0m0 2h0m1-2h0m0 2h0m0 1h0m0 2h0m1-5h0m0 4h0m0 1h0m0 1h0m1-8h0m0 4h0m0 1h0m0 2h0m1-8h0m0 2h0m0 1h0m0 1h0m0 2h0m0 2h0m0 1h0m1-8h0m0 1h0m0 2h0m0 1h0m1-9h0m0 3h0m0 1h0m0 1h0m0 1h0m1-3h0m0 2h0m0 1h0m0 1h0m1-4h0m0 1h0m0 1h0m0 1h0m0 6h0m1-9h0m0 1h0m0 1h0m0 2h0m0 1h0m1-9h0m0 2h0m0 1h0m0 1h0m0 1h0m1-7h0m0 3h0m0 1h0m0 2h0m0 1h0m0 1h0m1-8h0m0 2h0m0 2h0m0 1h0m0 1h0m1-10h0m0 4h0m0 1h0m0 1h0m0 3h0m0 1h0m1-10h0m0 3h0m0 2h0m0 1h0m1-6h0m0 1h0m0 2h0m0 1h0m0 1h0m1-7h0m0 3h0m0 1h0m0 1h0m0 3h0m0 1h0m1-11h0m0 5h0m0 1h0m0 1h0m0 1h0m0 1h0m1-7h0m0 4h0m0 1h0m0 1h0m0 2h0m0 1h0m1-9h0m0 2h0m0 2h0m0 1h0m0 1h0m1-3h0m0 1h0m0 1h0m0 2h0m0 1h0m0 1h0m1-5h0m0 1h0m0 1h0m0 2h0m0 1h0m0 2h0m0 2h0m1-9h0m0 2h0m0 2h0m0 1h0m0 1h0m0 1h0m1-6h0m0 1h0m0 2h0m0 1h0m0 1h0m0 1h0m1-7h0m0 2h0m0 1h0m0 1h0m0 1h0m0 4h0m1-11h0m0 5h0m0 3h0m0 1h0m1-5h0m0 1h0m0 1h0m0 1h0m0 1h0m0 2h0m1-4h0m0 2h0m0 1h0m0 1h0m0 4h0m1-7h0m0 1h0m0 2h0m0 3h0m0 2h0m0 1h0m1-5h0m0 2h0m0 1h0m0 2h0m0 53h0m1-59h0m0 4h0m0 1h0m0 1h0m0 1h0m0 2h0m1-8h0m0 4h0m0 1h0m0 1h0m0 1h0m0 5h0m1-6h0m0 1h0m0 1h0m0 2h0m1-2h0m0 2h0m0 1h0m0 1h0m0 2h0m0 1h0m1-4h0m0 1h0m0 1h0m0 1h0m1-3h0m0 2h0m0 2h0m0 2h0m0 2h0m1-8h0m0 1h0m0 2h0m0 1h0m0 1h0m0 1h0m1-8h0m0 4h0m0 1h0m0 1h0m0 3h0m0 1h0m1-8h0m0 4h0m0 1h0m0 1h0m0 2h0m1-12h0m0 3h0m0 3h0m0 1h0m0 2h0m0 1h0m0 2h0m1-8h0m0 1h0m0 2h0m0 2h0m1-8h0m0 2h0m0 1h0m0 1h0m0 1h0m1-4h0m0 1h0m0 1h0m0 1h0m0 1h0m0 4h0m1-10h0m0 1h0m0 1h0m0 1h0m0 1h0m1-7h0m0 1h0m0 1h0m0 2h0m0 1h0m0 1h0m0 1h0m1-9h0m0 2h0m0 1h0m0 2h0m0 1h0m1-8h0m0 1h0m0 1h0m0 1h0m0 1h0m0 1h0m0 1h0m1-8h0m0 1h0m0 1h0m0 1h0m0 1h0m0 2h0m1-8h0m0 1h0m0 3h0m0 1h0m0 1h0m0 1h0m1-8h0m0 2h0m0 1h0m0 1h0m1-6h0m0 2h0m0 1h0m0 1h0m0 1h0m0 2h0m0 1h0m1-7h0m0 1h0m0 3h0m0 2h0m0 1h0m1-7h0m0 2h0m0 2h0m0 1h0m0 1h0m0 1h0m1-9h0m0 3h0m0 2h0m0 2h0m0 1h0m1-5h0m0 1h0m0 1h0m0 2h0m1-5h0m0 2h0m0 4h0m0 2h0m0 1h0m1-5h0m0 4h0m0 1h0m0 1h0m0 1h0m1-9h0m0 1h0m0 1h0m0 3h0m0 2h0m0 1h0m1-5h0m0 1h0m0 2h0m0 1h0m0 2h0m1-3h0m0 1h0m0 2h0m0 1h0m0 3h0m1-7h0m0 3h0m0 3h0m0 1h0m0 1h0m0 1h0m1-4h0m0 1h0m0 2h0m0 1h0m0 2h0m1-3h0m0 3h0m0 1h0m0 1h0m1-2h0m0 1h0m0 1h0m0 1h0m0 1h0m1-7h0m0 5h0m0 1h0m0 2h0m0 1h0m1-5h0m0 1h0m0 3h0m0 1h0m0 1h0m0 1h0m0 1h0m0 17h0m1-23h0m0 1h0m0 2h0m0 1h0m0 1h0m0 4h0m0 2h0m1-7h0m0 1h0m0 1h0m0 1h0m0 2h0m1-6h0m0 1h0m0 1h0m0 1h0m0 2h0m0 4h0m1-9h0m0 1h0m0 1h0m0 1h0m0 1h0m0 1h0m1-4h0m0 1h0m0 1h0m0 1h0m0 1h0m1-6h0m0 1h0m0 2h0m0 1h0m0 1h0m1-6h0m0 2h0m0 1h0m0 2h0m1-9h0m0 2h0m0 3h0m0 1h0m1-8h0m0 1h0m0 1h0m0 1h0m1-4h0m0 1h0m0 1h0m0 3h0m0 1h0m1-9h0m0 2h0m0 2h0m0 1h0m0 4h0m1-13h0m0 4h0m0 1h0m0 2h0m1-6h0m0 2h0m0 1h0m0 2h0m0 2h0m0 2h0m1-10h0m0 4h0m0 1h0m0 1h0m0 1h0m0 2h0m1-5h0m0 1h0m0 1h0m0 1h0m0 1h0m1-5h0m0 3h0m0 1h0m0 1h0m1-7h0m0 1h0m0 1h0m0 1h0m0 1h0m0 1h0m0 4h0m1-6h0m0 1h0m0 1h0m0 1h0m1-4h0m0 1h0m0 1h0m0 1h0m1-3h0m0 1h0m0 1h0m0 2h0m0 1h0m1-5h0m0 1h0m0 3h0m0 1h0m0 2h0m1-6h0m0 2h0m0 1h0m0 1h0m0 2h0m0 1h0m1-8h0m0 1h0m0 2h0m0 1h0m0 3h0m1-6h0m0 2h0m0 1h0m0 1h0m0 3h0m1-7h0m0 3h0m0 3h0m0 1h0m0 1h0m1-2h0m0 1h0m0 1h0m0 1h0m1-4h0m0 1h0m0 1h0m0 1h0m0 1h0m0 1h0m0 1h0m1-3h0m0 2h0m0 1h0m0 2h0m1-4h0m0 2h0m0 1h0m0 2h0m0 1h0m1-5h0m0 1h0m0 2h0m0 2h0m0 1h0m0 1h0m1-7h0m0 3h0m0 1h0m0 1h0m0 2h0m0 1h0m1-4h0m0 1h0m0 1h0m0 1h0m0 2h0m1-6h0m0 2h0m0 1h0m0 2h0m1-6h0m0 3h0m0 1h0m0 1h0m0 1h0m1-4h0m0 2h0m0 1h0m0 2h0m0 1h0m0 1h0m1-8h0m0 1h0m0 2h0m0 2h0m0 2h0m0 1h0m1-4h0m0 1h0m0 1h0m1-6h0m0 3h0m0 2h0m0 1h0m0 1h0m0 1h0m1-5h0m0 1h0m0 2h0m0 1h0m0 1h0m1-7h0m0 1h0m0 3h0m0 1h0m0 1h0m0 3h0m1-8h0m0 2h0m0 1h0m0 2h0m0 1h0m0 2h0m0 7h0m1-18h0m0 1h0m0 1h0m0 2h0m0 2h0m0 1h0m1-8h0m0 1h0m0 1h0m1-6h0m0 3h0m0 1h0m0 1h0m1-8h0m0 3h0m0 1h0m0 2h0m1-8h0m0 2h0m0 1h0m0 2h0m0 1h0m1-8h0m0 3h0m0 1h0m0 1h0m0 1h0m1-8h0m0 4h0m0 2h0m0 1h0m0 1h0m1-7h0m0 1h0m0 1h0m0 1h0m0 1h0m0 1h0m1-6h0m0 2h0m0 2h0m0 1h0m0 1h0m0 1h0m1-7h0m0 1h0m0 2h0m0 1h0m0 2h0m0 1h0m0 1h0m1-12h0m0 6h0m0 1h0m0 1h0m1-4h0m0 1h0m0 1h0m0 2h0m0 1h0m1-8h0m0 1h0m0 1h0m0 2h0m0 1h0m0 1h0m1-4h0m0 1h0m0 1h0m0 2h0m0 1h0m1-7h0m0 2h0m0 5h0m0 3h0m1-5h0m0 2h0m0 1h0m0 2h0m0 1h0m0 1h0m1-6h0m0 1h0m0 1h0m0 1h0m0 1h0m0 1h0m1-4h0m0 1h0m0 1h0m0 2h0m0 1h0m1-4h0m0 1h0m0 1h0m0 1h0m0 2h0m0 1h0m1-1h0m0 1h0m0 1h0m0 1h0m0 1h0m1 0h0m0 1h0m0 1h0m0 1h0m0 1h0m0 1h0m1-5h0m0 2h0m0 2h0m0 3h0m0 2h0m1-7h0m0 1h0m0 1h0m0 1h0m0 1h0m0 1h0m1-5h0m0 2h0m0 1h0m0 1h0m0 3h0m1-3h0m0 2h0m0 1h0m0 2h0m0 1h0m1-11h0m0 5h0m0 1h0m0 1h0m0 3h0m0 2h0m1-8h0m0 1h0m0 1h0m0 1h0m0 1h0m1-3h0m0 1h0m0 1h0m0 2h0m0 1h0m1-9h0m0 3h0m0 2h0m0 1h0m0 1h0m1-5h0m0 2h0m0 1h0m0 1h0m0 1h0m0 1h0m1-5h0m0 1h0m0 1h0m0 1h0m0 2h0m0 1h0m1-7h0m0 1h0m0 1h0m0 2h0m0 1h0m1-4h0m0 2h0m0 1h0m1-8h0m0 1h0m0 1h0m0 1h0m0 1h0m0 1h0m1-11h0m0 3h0m0 1h0m0 1h0m0 1h0m0 1h0m0 5h0m1-16h0m0 1h0m0 2h0m0 1h0m0 1h0m0 1h0m1-8h0m0 1h0m0 1h0m0 1h0m0 1h0m1-10h0m0 4h0m0 1h0m0 1h0m0 1h0m0 2h0m0 4h0m1-15h0m0 5h0m0 1h0m0 1h0m0 3h0m1-13h0m0 4h0m0 1h0m0 1h0m0 1h0m0 5h0m1-11h0m0 2h0m0 2h0m0 1h0m0 2h0m0 2h0m1-4h0m0 2h0m0 1h0m0 1h0m0 1h0m0 43h0m1-49h0m0 1h0m0 1h0m0 2h0m0 1h0m0 1h0m1-5h0m0 2h0m0 1h0m0 3h0m0 1h0m1-3h0m0 1h0m0 1h0m0 1h0m0 1h0m1-2h0m0 1h0m0 1h0m0 1h0m0 2h0m1-5h0m0 1h0m0 1h0m0 1h0m0 1h0m0 1h0m0 1h0m1-5h0m0 1h0m0 1h0m0 1h0m0 1h0m0 3h0m1-5h0m0 1h0m0 1h0m0 2h0m1-5h0m0 1h0m0 2h0m0 1h0m0 1h0m0 1h0m1-6h0m0 2h0m0 2h0m1-5h0m0 1h0m0 1h0m0 1h0m0 2h0m0 1h0m1-6h0m0 1h0m0 4h0m0 1h0m0 1h0m1-3h0m0 1h0m0 1h0m0 1h0m0 1h0m1-2h0m0 1h0m0 1h0m0 1h0m0 1h0m0 2h0m1-7h0m0 3h0m0 1h0m0 1h0m0 3h0m1-4h0m0 1h0m0 1h0m0 1h0m0 1h0m1-7h0m0 3h0m0 1h0m0 1h0m0 1h0m0 1h0m0 2h0m1-11h0m0 1h0m0 2h0m0 1h0m0 1h0m0 1h0m0 2h0m1-4h0m0 1h0m0 1h0m0 2h0m0 1h0m1-8h0m0 1h0m0 1h0m0 1h0m0 1h0m0 1h0m1-8h0m0 2h0m0 1h0m0 1h0m0 1h0m0 3h0m1-5h0m0 1h0m0 1h0m0 1h0m0 1h0m0 1h0m0 1h0m1-6h0m0 3h0m0 1h0m0 1h0m0 1h0m1-9h0m0 1h0m0 3h0m0 1h0m0 1h0m0 1h0m0 3h0m1-15h0m0 5h0m0 1h0m0 1h0m0 1h0m0 1h0m0 2h0m1-9h0m0 3h0m0 1h0m0 2h0m0 2h0m0 1h0m0 2h0m1-8h0m0 1h0m0 2h0m0 1h0m1-10h0m0 3h0m0 1h0m0 1h0m0 1h0m1-8h0m0 2h0m0 1h0m0 1h0m0 1h0m0 1h0m1-9h0m0 2h0m0 1h0m0 1h0m0 1h0m1-6h0m0 3h0m0 2h0m0 1h0m0 2h0m1-5h0m0 1h0m0 2h0m0 1h0m1-4h0m0 2h0m0 1h0m0 1h0m0 1h0m1-6h0m0 2h0m0 1h0m0 1h0m0 2h0m0 2h0m1-11h0m0 4h0m0 1h0m0 1h0m0 2h0m1-7h0m0 2h0m0 1h0m0 2h0m0 1h0m0 1h0m1-4h0m0 2h0m0 1h0m0 1h0m0 1h0m1-7h0m0 1h0m0 1h0m0 1h0m0 1h0m0 1h0m1-3h0m0 2h0m0 1h0m0 1h0m0 1h0m0 43h0m1-49h0m0 1h0m0 1h0m0 2h0m0 1h0m0 2h0m1-6h0m0 2h0m0 1h0m1-5h0m0 1h0m0 1h0m0 1h0m0 2h0m0 1h0m0 1h0m1-5h0m0 1h0m0 2h0m0 1h0m1-4h0m0 3h0m0 2h0m0 1h0m0 1h0m0 2h0m1-6h0m0 2h0m0 1h0m0 1h0m0 1h0m1-1h0m0 2h0m0 1h0m0 1h0m1-7h0m0 1h0m0 5h0m0 1h0m0 2h0m0 1h0m0 3h0m1-9h0m0 3h0m0 1h0m0 1h0m0 3h0m1-7h0m0 1h0m0 2h0m0 1h0m0 2h0m0 1h0m0 3h0m1-8h0m0 2h0m0 1h0m0 2h0m0 1h0m1-9h0m0 3h0m0 2h0m0 1h0m0 1h0m0 1h0m1-3h0m0 1h0m0 1h0m0 2h0m0 1h0m1-11h0m0 1h0m0 2h0m0 1h0m0 2h0m0 1h0m1-5h0m0 2h0m0 2h0m1-6h0m0 1h0m0 1h0m0 1h0m0 1h0m0 2h0m1-8h0m0 1h0m0 2h0m0 1h0m0 2h0m1-8h0m0 2h0m0 2h0m0 1h0m0 3h0m1-8h0m0 1h0m0 2h0m0 1h0m0 1h0m1-6h0m0 2h0m0 1h0m0 1h0m0 2h0m1-10h0m0 1h0m0 1h0m0 2h0m0 1h0m0 4h0m1-13h0m0 2h0m0 1h0m0 3h0m0 1h0m1-9h0m0 1h0m0 2h0m0 2h0m0 1h0m1-8h0m0 1h0m0 1h0m0 2h0m0 3h0m1-10h0m0 3h0m0 1h0m0 1h0m0 2h0m1-10h0m0 3h0m0 1h0m0 2h0m0 1h0m0 1h0m1-3h0m0 1h0m0 1h0m0 1h0m0 1h0m1-7h0m0 1h0m0 4h0m0 2h0m1-7h0m0 1h0m0 2h0m0 1h0m0 1h0m0 2h0m0 1h0m1-9h0m0 1h0m0 5h0m0 1h0m0 1h0m0 1h0m1-4h0m0 1h0m0 1h0m0 4h0m1-6h0m0 1h0m0 1h0m0 1h0m0 1h0m0 1h0m1-9h0m0 4h0m0 2h0m0 1h0m0 2h0m0 2h0m1-6h0m0 2h0m0 2h0m0 1h0m0 2h0m1-7h0m0 4h0m0 3h0m0 1h0m0 1h0m0 2h0m1-9h0m0 2h0m0 1h0m0 1h0m0 1h0m0 2h0m1-3h0m0 1h0m0 2h0m0 1h0m0 2h0m1-9h0m0 3h0m0 4h0m0 1h0m0 4h0m1-10h0m0 6h0m0 1h0m0 2h0m0 1h0m0 1h0m0 1h0m1-10h0m0 1h0m0 2h0m0 1h0m0 1h0m0 5h0m1-4h0m0 1h0m0 5h0m1-10h0m0 1h0m0 1h0m0 2h0m0 1h0m1-3h0m0 1h0m0 2h0m0 1h0m0 2h0m0 1h0m1-9h0m0 1h0m0 1h0m0 2h0m0 2h0m1-8h0m0 4h0m0 1h0m0 1h0m0 1h0m0 1h0m1-5h0m0 1h0m0 1h0m0 1h0m0 1h0m1-6h0m0 3h0m0 1h0m0 1h0m0 1h0m0 3h0m1-10h0m0 2h0m0 1h0m0 3h0m0 1h0m0 1h0m1-8h0m0 1h0m0 1h0m0 1h0m0 3h0m1-9h0m0 3h0m0 1h0m0 2h0m1-8h0m0 2h0m0 1h0m0 1h0m0 1h0m0 5h0m1-15h0m0 1h0m0 2h0m0 1h0m0 3h0m1-6h0m0 2h0m0 2h0m0 1h0m1-10h0m0 1h0m0 2h0m0 2h0m0 3h0m1-7h0m0 1h0m0 1h0m0 2h0m0 1h0m1-6h0m0 1h0m0 1h0m0 1h0m0 5h0m1-13h0m0 5h0m0 4h0m0 1h0m1-7h0m0 2h0m0 1h0m0 1h0m0 4h0m1-10h0m0 1h0m0 3h0m0 2h0m0 1h0m0 1h0m0 1h0m1-11h0m0 4h0m0 1h0m0 1h0m0 1h0m1-10h0m0 4h0m0 2h0m0 1h0m0 1h0m0 2h0m0 2h0m1-9h0m0 3h0m0 1h0m0 2h0m0 2h0m1-5h0m0 2h0m0 1h0m0 1h0m1-8h0m0 1h0m0 1h0m0 2h0m0 1h0m0 3h0m1-7h0m0 2h0m0 1h0m0 1h0m0 2h0m1-1h0m0 1h0m0 1h0m0 1h0m0 1h0m0 2h0m1-8h0m0 3h0m0 1h0m0 3h0m1-5h0m0 1h0m0 2h0m0 1h0m0 1h0m1-4h0m0 1h0m0 1h0m0 1h0m0 1h0m1-1h0m0 1h0m0 2h0m0 1h0m0 1h0m0 1h0m1-4h0m0 1h0m0 1h0m0 1h0m0 3h0m1-4h0m0 2h0m0 2h0m0 1h0m1-6h0m0 3h0m0 1h0m0 1h0m0 1h0m0 1h0m1-6h0m0 1h0m0 1h0m0 1h0m0 1h0m0 1h0m1-4h0m0 2h0m0 1h0m0 1h0m0 1h0m0 2h0m0 3h0m1-10h0m0 3h0m0 2h0m0 2h0m0 2h0m1-12h0m0 3h0m0 2h0m0 1h0m0 1h0m0 1h0m0 34h0m1-38h0m0 3h0m0 1h0m0 1h0m1-8h0m0 1h0m0 2h0m0 1h0m0 3h0m0 1h0m1-8h0m0 1h0m0 1h0m0 2h0m0 1h0m1-5h0m0 1h0m0 1h0m0 1h0m0 1h0m0 1h0m0 2h0m1-11h0m0 3h0m0 1h0m0 2h0m0 1h0m0 1h0m1-9h0m0 2h0m0 3h0m0 1h0m0 2h0m0 1h0m1-11h0m0 3h0m0 1h0m0 1h0m0 1h0m1-10h0m0 2h0m0 2h0m0 1h0m0 1h0m0 3h0m1-14h0m0 2h0m0 2h0m0 2h0m0 1h0m0 1h0m0 1h0m0 1h0m1-8h0m0 1h0m0 3h0m0 1h0m0 2h0m1-10h0m0 3h0m0 1h0m0 1h0m0 1h0m0 2h0m1-10h0m0 1h0m0 1h0m0 2h0m0 4h0m1-12h0m0 2h0m0 1h0m0 1h0m1-7h0m0 1h0m0 1h0m0 3h0m0 1h0m1-9h0m0 4h0m0 1h0m0 2h0m1-7h0m0 1h0m0 1h0m0 1h0m0 2h0m0 1h0m1-8h0m0 4h0m0 1h0m0 2h0m0 1h0m0 3h0m1-11h0m0 4h0m0 1h0m0 1h0m0 2h0m0 2h0m1-10h0m0 2h0m0 3h0m0 2h0m0 1h0m0 2h0m1-6h0m0 1h0m0 1h0m0 3h0m0 1h0m1-5h0m0 3h0m0 1h0m0 1h0m0 1h0m0 1h0m1-7h0m0 1h0m0 3h0m0 1h0m1-4h0m0 2h0m0 1h0m0 2h0m1-7h0m0 3h0m0 1h0m0 1h0m0 1h0m0 1h0m0 4h0m1-6h0m0 1h0m0 1h0m0 1h0m0 1h0m0 1h0m1-5h0m0 2h0m0 2h0m0 1h0m0 1h0m0 6h0m1-8h0m0 1h0m0 1h0m0 1h0m0 2h0m1-2h0m0 1h0m0 1h0m0 2h0m0 3h0m1-7h0m0 1h0m0 3h0m0 3h0m0 2h0m1-8h0m0 2h0m0 1h0m0 2h0m0 2h0m0 2h0m1-6h0m0 1h0m0 1h0m0 4h0m1-9h0m0 3h0m0 1h0m0 2h0m0 1h0m0 4h0m1-10h0m0 2h0m0 2h0m0 1h0m0 1h0m0 3h0m1-9h0m0 3h0m0 1h0m0 1h0m0 2h0m0 1h0m1-9h0m0 3h0m0 1h0m0 1h0m0 2h0m0 1h0m1-6h0m0 1h0m0 3h0m0 1h0m0 1h0m1-10h0m0 3h0m0 1h0m0 1h0m0 2h0m0 1h0m0 2h0m1-13h0m0 3h0m0 1h0m0 2h0m0 1h0m0 2h0m1-12h0m0 1h0m0 1h0m0 1h0m0 1h0m1-13h0m0 4h0m0 1h0m0 2h0m0 1h0m1-12h0m0 1h0m0 1h0m0 1h0m0 4h0m0 1h0m1-9h0m0 1h0m0 1h0m0 1h0m0 1h0m1-6h0m0 1h0m0 2h0m0 2h0m0 1h0m1-9h0m0 1h0m0 1h0m0 2h0m0 1h0m1-6h0m0 1h0m0 1h0m0 1h0m0 1h0m0 1h0m0 1h0m1-7h0m0 1h0m0 1h0m0 1h0m0 1h0m0 1h0m0 4h0m1-10h0m0 1h0m0 1h0m0 1h0m0 4h0m0 2h0m1-13h0m0 2h0m0 3h0m0 3h0m0 1h0m1-6h0m0 1h0m0 1h0m0 3h0m0 2h0m1-11h0m0 2h0m0 1h0m0 1h0m0 3h0m1-6h0m0 2h0m0 1h0m0 1h0m0 2h0m1-4h0m0 1h0m0 1h0m0 1h0m0 1h0m0 3h0m1-6h0m0 2h0m0 1h0m0 1h0m0 1h0m0 4h0m1-4h0m0 1h0m0 1h0m0 1h0m0 2h0m0 1h0m1-9h0m0 3h0m0 1h0m0 1h0m0 3h0m0 1h0m0 1h0m0 2h0m1-11h0m0 5h0m0 1h0m0 1h0m0 2h0m1-7h0m0 1h0m0 3h0m0 1h0m0 1h0m0 3h0m1-5h0m0 2h0m0 1h0m0 2h0m0 3h0m1-6h0m0 2h0m0 1h0m0 1h0m0 1h0m0 1h0m0 1h0m1-5h0m0 1h0m0 1h0m0 1h0m0 3h0m1-4h0m0 2h0m0 1h0m0 1h0m0 3h0m1-7h0m0 2h0m0 1h0m0 1h0m0 2h0m0 1h0m1-5h0m0 1h0m0 4h0m0 1h0m0 2h0m1-10h0m0 2h0m0 1h0m0 1h0m0 4h0m1-10h0m0 1h0m0 1h0m0 1h0m0 4h0m1-7h0m0 3h0m0 1h0m0 1h0m0 2h0m0 1h0m1-7h0m0 1h0m0 1h0m0 1h0m0 1h0m0 2h0m1-4h0m0 1h0m0 1h0m0 1h0m0 1h0m0 1h0m1-6h0m0 2h0m0 1h0m0 2h0m0 1h0m1-7h0m0 2h0m0 1h0m0 3h0m1-8h0m0 1h0m0 1h0m0 3h0m0 3h0m1-12h0m0 6h0m0 1h0m0 1h0m0 2h0m1-12h0m0 3h0m0 1h0m0 1h0m0 1h0m0 1h0m0 3h0m1-9h0m0 1h0m0 4h0m0 2h0m1-13h0m0 2h0m0 2h0m0 1h0m0 1h0m1-7h0m0 1h0m0 1h0m0 1h0m0 1h0m0 1h0m0 1h0m1-11h0m0 2h0m0 1h0m0 1h0m0 1h0m1-7h0m0 2h0m0 1h0m0 1h0m0 2h0m0 1h0m1-9h0m0 3h0m0 2h0m1-4h0m0 3h0m0 1h0m0 1h0m0 1h0m1-11h0m0 3h0m0 2h0m0 2h0m0 2h0m0 1h0m1-5h0m0 2h0m0 1h0m1-5h0m0 2h0m0 3h0m0 1h0m1-6h0m0 2h0m0 1h0m0 1h0m1-5h0m0 1h0m0 1h0m0 1h0m0 3h0m0 2h0m1-3h0m0 1h0m0 1h0m0 1h0m0 1h0m1-8h0m0 2h0m0 2h0m0 3h0m0 2h0m0 2h0m1-8h0m0 4h0m0 2h0m0 2h0m0 1h0m1-7h0m0 6h0m0 1h0m0 1h0m0 1h0m0 2h0m1-3h0m0 1h0m0 1h0m0 3h0m0 1h0m0 1h0m1-6h0m0 1h0m0 2h0m0 1h0m0 2h0m0 3h0m0 1h0m1-8h0m0 4h0m0 2h0m1-3h0m0 4h0m0 1h0m0 1h0m0 1h0m1-4h0m0 1h0m0 1h0m0 1h0m0 1h0m0 1h0m0 1h0m1-5h0m0 2h0m0 1h0m0 5h0m0 2h0m1-9h0m0 4h0m0 2h0m0 1h0m0 1h0m1-6h0m0 2h0m0 1h0m0 1h0m0 2h0m0 3h0m1-6h0m0 1h0m0 2h0m0 1h0m1-6h0m0 1h0m0 2h0m0 1h0m0 2h0m1-8h0m0 3h0m0 1h0m0 2h0m0 1h0m1-6h0m0 1h0m0 1h0m0 5h0m1-9h0m0 1h0m0 1h0m0 2h0m0 3h0m1-10h0m0 1h0m0 1h0m0 3h0m0 1h0m1-14h0m0 4h0m0 1h0m0 1h0m0 1h0m0 1h0m0 1h0m1-9h0m0 2h0m0 1h0m0 1h0m0 1h0m0 5h0m1-11h0m0 1h0m0 2h0m0 1h0m0 1h0m1-12h0m0 4h0m0 1h0m0 2h0m0 1h0m1-7h0m0 2h0m0 3h0m0 1h0m1-10h0m0 1h0m0 2h0m0 1h0m0 2h0m0 1h0m1-9h0m0 5h0m0 1h0m0 1h0m1-8h0m0 2h0m0 1h0m0 1h0m0 3h0m0 2h0m1-8h0m0 1h0m0 1h0m0 1h0m0 1h0m1-5h0m0 2h0m0 1h0m0 1h0m0 1h0m0 1h0m1-6h0m0 1h0m0 2h0m0 2h0m0 1h0m0 3h0m1-9h0m0 1h0m0 1h0m0 2h0m0 1h0m0 1h0m0 1h0m1-2h0m0 1h0m0 1h0m0 2h0m1-9h0m0 1h0m0 1h0m0 2h0m0 1h0m1-2h0m0 1h0m0 1h0m0 1h0m0 2h0m0 3h0m1-9h0m0 5h0m0 1h0m0 2h0m0 1h0m0 2h0m1-4h0m0 1h0m0 1h0m0 1h0m0 2h0m0 2h0m0 15h0m1-19h0m0 1h0m0 1h0m0 2h0m0 2h0m1-2h0m0 1h0m0 1h0m0 4h0m0 1h0m1-6h0m0 2h0m0 1h0m0 3h0m1-6h0m0 2h0m0 1h0m0 1h0m0 1h0m0 1h0m0 105h0m1-113h0m0 4h0m0 2h0m0 1h0m0 1h0m0 3h0m0 1h0m1-5h0m0 1h0m0 1h0m0 4h0m0 1h0m0 6h0m1-14h0m0 3h0m0 2h0m0 1h0m0 1h0m1-7h0m0 2h0m0 1h0m0 2h0m0 4h0m1-8h0m0 2h0m0 1h0m0 3h0m0 2h0m1-10h0m0 3h0m0 2h0m0 2h0m1-8h0m0 4h0m0 2h0m0 1h0m0 2h0m0 1h0m1-10h0m0 5h0m0 1h0m1-2h0m0 1h0m0 3h0m0 1h0m0 1h0m1-13h0m0 6h0m0 1h0m0 1h0m0 2h0m0 1h0m1-8h0m0 2h0m0 2h0m0 2h0m1-5h0m0 1h0m0 1h0m0 1h0m0 1h0m1-10h0m0 1h0m0 2h0m0 2h0m0 2h0m0 1h0m1-11h0m0 3h0m0 2h0m0 1h0m0 2h0m1-10h0m0 1h0m0 2h0m0 2h0m0 1h0m0 1h0m1-8h0m0 1h0m0 4h0m0 1h0m0 1h0m1-13h0m0 2h0m0 2h0m0 4h0m0 3h0m0 1h0m1-13h0m0 5h0m0 1h0m0 2h0m0 1h0m0 1h0m1-7h0m0 1h0m0 2h0m0 1h0m0 1h0m0 5h0m1-10h0m0 1h0m0 1h0m0 1h0m0 1h0m0 1h0m0 3h0m1-8h0m0 1h0m0 1h0m0 1h0m0 2h0m1-5h0m0 1h0m0 1h0m0 1h0m0 1h0m0 2h0m1-5h0m0 1h0m0 1h0m0 1h0m0 3h0m1-6h0m0 2h0m0 1h0m0 2h0m0 1h0m0 1h0m1-9h0m0 2h0m0 2h0m0 2h0m0 1h0m0 2h0m1-4h0m0 1h0m0 5h0m1-6h0m0 1h0m0 1h0m0 2h0m0 1h0m0 2h0m1-8h0m0 4h0m0 2h0m0 1h0m0 1h0m0 1h0m1-2h0m0 1h0m0 1h0m0 3h0m0 1h0m0 2h0m1-5h0m0 3h0m0 1h0m0 1h0m0 1h0m1-1h0m0 3h0m0 2h0m1-2h0m0 1h0m0 1h0m0 1h0m0 1h0m0 1h0m1-3h0m0 1h0m0 1h0m0 1h0m0 1h0m0 4h0m1-8h0m0 1h0m0 1h0m0 1h0m0 1h0m0 3h0m1-7h0m0 4h0m0 1h0m0 1h0m0 1h0m1-2h0m0 1h0m0 1h0m0 1h0m0 2h0m1-8h0m0 1h0m0 1h0m0 2h0m0 1h0m0 1h0m1-2h0m0 1h0m0 1h0m0 1h0m1-9h0m0 4h0m0 1h0m0 1h0m0 1h0m0 1h0m1-6h0m0 1h0m0 2h0m0 1h0m0 1h0m0 1h0m1-6h0m0 1h0m0 1h0m0 1h0m0 1h0m1-5h0m0 1h0m0 1h0m0 2h0m1-5h0m0 3h0m0 1h0m0 1h0m0 1h0m0 2h0m0 3h0m1-10h0m0 2h0m0 1h0m0 2h0m0 1h0m1-8h0m0 1h0m0 1h0m0 1h0m0 2h0m0 5h0m1-11h0m0 1h0m0 2h0m0 2h0m1-9h0m0 2h0m0 1h0m0 1h0m0 1h0m0 2h0m0 1h0m1-7h0m0 1h0m0 1h0m1-4h0m0 1h0m0 2h0m0 1h0m0 1h0m0 101h0m1-109h0m0 4h0m0 1h0m0 1h0m0 1h0m0 2h0m1-8h0m0 2h0m0 1h0m0 3h0m0 1h0m0 1h0m1-10h0m0 1h0m0 3h0m0 1h0m0 1h0m0 1h0m0 1h0m1-5h0m0 1h0m0 1h0m0 1h0m0 3h0m1-9h0m0 4h0m0 3h0m0 2h0m0 1h0m1-9h0m0 2h0m0 1h0m0 2h0m1-5h0m0 3h0m0 2h0m0 1h0m0 1h0m1-5h0m0 2h0m0 1h0m0 1h0m0 1h0m0 1h0m1-3h0m0 1h0m0 1h0m0 1h0m1-1h0m0 2h0m0 1h0m0 1h0m0 1h0m0 1h0m1-2h0m0 1h0m0 3h0m0 2h0m1-5h0m0 2h0m0 1h0m0 4h0m0 4h0m1-9h0m0 4h0m0 2h0m0 1h0m1-1h0m0 2h0m0 1h0m0 2h0m0 2h0m1-5h0m0 1h0m0 1h0m0 3h0m0 1h0m0 2h0m1-9h0m0 1h0m0 3h0m0 2h0m0 1h0m0 4h0m1-7h0m0 2h0m0 1h0m0 1h0m0 2h0m0 2h0m1-7h0m0 2h0m0 1h0m0 2h0m0 2h0m0 2h0m1-5h0m0 3h0m0 2h0m0 1h0m0 2h0m1-7h0m0 3h0m0 1h0m0 3h0m1-4h0m0 1h0m0 1h0m0 2h0m0 2h0m0 1h0m1-7h0m0 2h0m0 2h0m0 1h0m0 1h0m0 1h0m1-6h0m0 1h0m0 2h0m0 2h0m0 2h0m0 3h0m1-12h0m0 2h0m0 2h0m0 4h0m1-6h0m0 1h0m0 1h0m0 1h0m0 1h0m0 3h0m1-12h0m0 5h0m0 1h0m0 1h0m0 4h0m1-12h0m0 2h0m0 2h0m0 2h0m0 1h0m0 3h0m1-14h0m0 4h0m0 1h0m0 2h0m1-7h0m0 2h0m0 1h0m0 1h0m0 1h0m0 5h0m1-12h0m0 2h0m0 3h0m0 4h0m1-9h0m0 1h0m0 1h0m0 1h0m0 2h0m1-7h0m0 1h0m0 1h0m0 2h0m0 1h0m0 1h0m0 5h0m1-11h0m0 1h0m0 1h0m0 1h0m0 1h0m1-8h0m0 4h0m0 1h0m0 1h0m1-2h0m0 2h0m0 1h0m0 1h0m0 1h0m1-7h0m0 1h0m0 2h0m0 1h0m0 2h0m1-4h0m0 2h0m0 3h0m1-5h0m0 1h0m0 2h0m0 1h0m0 1h0m1-4h0m0 1h0m0 1h0m0 1h0m0 1h0m1-4h0m0 1h0m0 3h0m0 1h0m0 1h0m1-5h0m0 1h0m0 1h0m0 5h0m0 1h0m1-9h0m0 4h0m0 1h0m0 1h0m0 2h0m1-5h0m0 1h0m0 2h0m0 1h0m0 2h0m0 2h0m0 1h0m1-3h0m0 1h0m0 1h0m0 1h0m0 1h0m0 1h0m0 2h0m1-5h0m0 2h0m0 1h0m0 2h0m0 1h0m0 1h0m1-5h0m0 2h0m0 2h0m0 2h0m0 1h0m0 8h0m1-10h0m0 1h0m0 2h0m0 1h0m0 1h0m1-5h0m0 1h0m0 1h0m0 2h0m0 1h0m0 3h0m1-8h0m0 2h0m0 2h0m0 3h0m0 2h0m1-3h0m0 1h0m0 1h0m0 1h0m0 1h0m0 1h0m1-7h0m0 3h0m0 2h0m0 1h0m0 2h0m1-4h0m0 1h0m0 2h0m0 1h0m0 1h0m1-8h0m0 1h0m0 3h0m0 1h0m0 1h0m0 2h0m1-6h0m0 3h0m0 3h0m0 1h0m0 1h0m0 1h0m0 1h0m1-9h0m0 2h0m0 2h0m0 1h0m1-5h0m0 1h0m0 1h0m0 1h0m0 1h0m0 2h0m1-7h0m0 1h0m0 1h0m0 1h0m0 1h0m0 2h0m1-13h0m0 4h0m0 2h0m0 2h0m0 1h0m0 3h0m1-10h0m0 2h0m0 1h0m0 1h0m1-6h0m0 1h0m0 1h0m0 1h0m0 2h0m0 1h0m1-8h0m0 1h0m0 2h0m0 1h0m0 1h0m0 1h0m0 1h0m1-8h0m0 1h0m0 2h0m0 1h0m0 1h0m0 1h0m0 4h0m1-13h0m0 2h0m0 1h0m0 1h0m0 2h0m0 3h0m0 14h0m1-24h0m0 1h0m0 1h0m0 1h0m1-8h0m0 2h0m0 1h0m0 1h0m0 1h0m0 3h0m0 3h0m1-11h0m0 3h0m0 1h0m0 2h0m0 1h0m1-8h0m0 2h0m0 4h0m0 1h0m0 1h0m1-2h0m0 1h0m0 1h0m0 2h0m0 1h0m1-4h0m0 1h0m0 2h0m0 1h0m0 1h0m1-5h0m0 1h0m0 2h0m0 1h0m1-6h0m0 1h0m0 2h0m0 1h0m0 2h0m0 1h0m1-6h0m0 2h0m0 2h0m0 2h0m0 1h0m1-7h0m0 1h0m0 3h0m0 2h0m1-6h0m0 5h0m0 3h0m0 2h0m1-5h0m0 3h0m0 2h0m0 3h0m1-5h0m0 1h0m0 1h0m0 1h0m0 1h0m1-3h0m0 1h0m0 3h0m0 1h0m0 2h0m0 2h0m1-5h0m0 1h0m0 1h0m0 1h0m0 1h0m1-2h0m0 1h0m0 2h0m0 1h0m1-2h0m0 1h0m0 1h0m0 1h0m0 2h0m1-6h0m0 5h0m0 1h0m0 1h0m0 1h0m1-2h0m0 1h0m0 1h0m0 1h0m1-2h0m0 1h0m0 2h0m0 1h0m0 1h0m0 1h0m1-5h0m0 1h0m0 1h0m0 1h0m1-3h0m0 3h0m0 1h0m0 2h0m0 2h0m0 1h0m1-8h0m0 1h0m0 2h0m0 1h0m0 1h0m1-3h0m0 2h0m0 1h0m1-6h0m0 1h0m0 6h0m0 2h0m1-8h0m0 3h0m0 1h0m0 2h0m1-8h0m0 1h0m0 1h0m0 4h0m0 1h0m1-9h0m0 6h0m0 1h0m0 2h0m1-8h0m0 1h0m0 2h0m0 2h0m1-8h0m0 2h0m0 1h0m0 1h0m0 1h0m0 2h0m1-6h0m0 1h0m0 1h0m0 2h0m1-7h0m0 4h0m0 2h0m0 1h0m1-8h0m0 1h0m0 1h0m0 2h0m0 2h0m0 1h0m1-9h0m0 2h0m0 1h0m0 1h0m0 1h0m0 2h0m1-9h0m0 1h0m0 2h0m0 1h0m0 1h0m0 2h0m1-5h0m0 1h0m0 1h0m0 1h0m0 1h0m0 2h0m1-9h0m0 2h0m0 1h0m0 1h0m0 1h0m0 6h0m1-7h0m0 2h0m0 1h0m1-4h0m0 1h0m0 2h0m0 1h0m0 3h0m1-7h0m0 1h0m0 1h0m0 1h0m0 1h0m0 2h0m1-7h0m0 3h0m0 1h0m0 1h0m0 1h0m0 2h0m1-7h0m0 2h0m0 2h0m0 2h0m1-8h0m0 3h0m0 3h0m0 1h0m0 3h0m1-10h0m0 1h0m0 1h0m0 1h0m0 3h0m0 1h0m0 3h0m1-6h0m0 1h0m0 2h0m0 1h0m0 1h0m1-3h0m0 1h0m0 1h0m0 1h0m0 2h0m1-5h0m0 1h0m0 3h0m0 2h0m0 1h0m0 2h0m0 2h0m1-8h0m0 1h0m0 1h0m0 4h0m0 1h0m0 2h0m1-9h0m0 2h0m0 4h0m0 1h0m0 5h0m1-11h0m0 5h0m0 1h0m0 2h0m0 1h0m0 1h0m0 1h0m1-7h0m0 1h0m0 1h0m0 1h0m1-5h0m0 7h0m0 1h0m0 1h0m1-7h0m0 4h0m0 2h0m0 1h0m0 1h0m1-3h0m0 1h0m0 1h0m0 1h0m0 3h0m1-7h0m0 2h0m0 2h0m0 1h0m0 2h0m0 1h0m1-11h0m0 5h0m0 2h0m0 1h0m0 1h0m1-6h0m0 1h0m0 1h0m0 1h0m0 1h0m0 1h0m1-7h0m0 1h0m0 1h0m0 1h0m0 2h0m0 1h0m1-10h0m0 4h0m0 1h0m0 3h0m0 1h0m0 3h0m1-11h0m0 4h0m0 1h0m0 1h0m1-5h0m0 1h0m0 1h0m0 1h0m0 3h0m1-8h0m0 1h0m0 1h0m0 2h0m0 1h0m0 1h0m1-9h0m0 2h0m0 1h0m0 1h0m0 3h0m0 2h0m1-10h0m0 3h0m0 1h0m0 1h0m0 1h0m1-7h0m0 1h0m0 2h0m0 1h0m0 1h0m0 1h0m0 1h0m0 1h0m1-13h0m0 7h0m0 1h0m0 1h0m0 1h0m1-7h0m0 1h0m0 1h0m0 3h0m0 1h0m1-3h0m0 1h0m0 2h0m1-6h0m0 3h0m0 1h0m0 1h0m0 2h0m0 2h0m1-7h0m0 1h0m0 2h0m0 1h0m0 1h0m1-6h0m0 1h0m0 2h0m0 1h0m0 1h0m0 1h0m0 1h0m1-7h0m0 1h0m0 1h0m0 1h0m0 1h0m1-9h0m0 4h0m0 1h0m0 3h0m0 1h0m0 2h0m0 5h0m1-13h0m0 1h0m0 2h0m0 1h0m0 1h0m1-7h0m0 3h0m0 1h0m0 1h0m0 2h0m0 4h0m1-5h0m0 1h0m0 1h0m0 1h0m0 1h0m1-9h0m0 1h0m0 4h0m0 2h0m0 1h0m0 2h0m1-6h0m0 4h0m0 1h0m0 2h0m1-3h0m0 1h0m0 1h0m0 1h0m0 1h0m1-2h0m0 2h0m0 1h0m0 1h0m0 1h0m0 1h0m0 1h0m1-6h0m0 2h0m0 1h0m0 1h0m0 1h0m0 3h0" stroke="#000" stroke-width="3.75" stroke-linecap="round" fill="none"/>
<path transform="translate(.5 .5)" d="M228 610h0" stroke="#ffa500" stroke-width="3.75" stroke-linecap="round" fill="none"/>
<path d="M365.5 660.7h6l-3 7.6z" fill="#ffa500"/>
<path d="M599.1 660.7h6l-3 7.6z" fill="#ffa500"/>
<rect x="102.5" y="499.7" width="1257.8" height="47.3" fill="#f00" fill-opacity="0.1" stroke="#f00" stroke-opacity="0.1" stroke-width="1.39"/>
<rect x="162" y="499.7" width="1141.7" height="47.3" fill="#ffa500" fill-opacity="0.1" stroke="#ffa500" stroke-opacity="0.1" stroke-width="1.39"/>
<path d="M160.6 523.9H1304.4" stroke="#ffa500" stroke-width="2.78" fill="none"/>
<path d="M104.5 523H1361" stroke="#f00" stroke-width="2.08" fill="none"/>
<path d="M162 666.5V380.5" stroke="#800080" stroke-width="2.08" stroke-dasharray="2.08 3.44" stroke-dashoffset="-0.55" fill="none"/>
<path d="M1303 666.5V380.5" stroke="#800080" stroke-width="2.08" stroke-dasharray="2.08 3.44" stroke-dashoffset="-0.55" fill="none"/>
</g>
<rect x="105.5" y="380.5" width="1380" height="286" fill="none" stroke="#000" stroke-width="1.11"/>
<path d="M162.5 666.5v5.4M427.5 666.5v5.4M692.5 666.5v5.4M956.5 666.5v5.4M1221.5 666.5v5.4" stroke="#000" stroke-width="1.11" fill="none"/>
<text x="163.3" y="687.1" text-anchor="middle">0</text>
<text x="426.8" y="687.1" text-anchor="middle">2000</text>
<text x="692.1" y="687.1" text-anchor="middle">4000</text>
<text x="955.8" y="687.1" text-anchor="middle">6000</text>
<text x="1220.9" y="687.1" text-anchor="middle">8000</text>
<path d="M105.5 383.5h-5.4M105.5 419.5h-5.4M105.5 454.5h-5.4M105.5 490.5h-5.4M105.5 526.5h-5.4M105.5 562.5h-5.4M105.5 597.5h-5.4M105.5 633.5h-5.4" stroke="#000" stroke-width="1.11" fill="none"/>
<text x="95" y="388" text-anchor="end">10.8</text>
<text x="95" y="424" text-anchor="end">10.6</text>
<text x="95" y="459" text-anchor="end">10.4</text>
<text x="95" y="495" text-anchor="end">10.2</text>
<text x="95" y="531" text-anchor="end">10.0</text>
<text x="95" y="567" text-anchor="end">9.8</text>
<text x="95" y="602" text-anchor="end">9.6</text>
<text x="95" y="638" text-anchor="end">9.4</text>
<text x="795.2" y="371.8" text-anchor="middle" font-size="16.67">Magnitude Estimates</text>
<text x="732" y="657" text-anchor="middle">59067</text>
<rect x="1365.4" y="387.3" width="113.2" height="48.2" rx="2.8" fill="#fff" fill-opacity="0.8" stroke="#ccc" stroke-opacity="0.8" stroke-width="1.39"/>
<path d="M1370.5 399.5H1398.3" stroke="#ffa500" stroke-width="2.78" stroke-linecap="square" fill="none"/>
<path d="M1370.5 421.9H1398.3" stroke="#f00" stroke-width="2.08" stroke-linecap="square" fill="none"/>
<text x="1409.4" y="403.5">mag<tspan font-style="italic" font-size="9.72" dy="2.2">OBSID</tspan></text>
<text x="1409.4" y="426.5">mag</text>
<rect x="1348.4" y="613.2" width="130.2" height="45.9" rx="2.8" fill="#fff" fill-opacity="0.8" stroke="#ccc" stroke-opacity="0.8" stroke-width="1.39"/>
<circle cx="1367.4" cy="626.5" r="1.88" fill="#ffa500"/>
<circle cx="1367.4" cy="647.2" r="1.88" fill="#000"/>
<text x="1392.2" y="629.8">Highlighted</text>
<text x="1392.2" y="650.6">OK</text>
<g clip-path="url(#c3)">
<path d="M105.5 758.5H1485.5M105.5 791.5H1485.5M105.5 823.5H1485.5M105.5 856.5H1485.5M105.5 889.5H1485.5M105.5 921.5H1485.5M105.5 957.5H1485.5M105.5 983.5H1485.5M105.5 1009.5H1485.5" stroke="#b0b0b0" stroke-width="1.11" stroke-dasharray="1.11 1.83" fill="none"/>
<path transform="translate(.5 .5)" d="M162 1002h0m0 1h0m0 1h0m1-2h0m0 1h0m1-1h0m0 1h0m0 1h0m0 1h0m1-4h0m0 1h0m1-1h0m0 1h0m1-1h0m0 1h0m0 1h0m1-1h0m0 1h0m0 1h0m1-1h0m0 1h0m0 1h0m1-3h0m0 1h0m1-1h0m0 1h0m0 1h0m1-2h0m0 1h0m0 1h0m1-4h0m0 1h0m0 1h0m1-3h0m0 1h0m0 1h0m0 1h0m1 0h0m0 1h0m0 1h0m0 1h0m1-3h0m0 2h0m0 1h0m1-5h0m0 1h0m0 1h0m1-1h0m0 1h0m0 2h0m0 1h0m1-3h0m0 2h0m0 1h0m1-9h0m0 1h0m0 1h0m0 1h0m0 1h0m0 1h0m1-6h0m0 1h0m0 1h0m0 1h0m1 0h0m0 2h0m0 1h0m0 1h0m1 0h0m0 1h0m0 1h0m1 0h0m0 1h0m0 1h0m1-1h0m0 1h0m0 1h0m0 1h0m1-3h0m0 1h0m0 1h0m0 1h0m1-8h0m0 1h0m0 1h0m0 1h0m0 1h0m0 1h0m1-4h0m0 1h0m1 1h0m0 1h0m0 1h0m0 1h0m1-1h0m0 1h0m1-3h0m0 1h0m0 1h0m1-2h0m0 1h0m0 1h0m0 1h0m1 1h0m0 1h0m1-3h0m0 2h0m0 1h0m1-7h0m0 1h0m0 1h0m0 1h0m0 1h0m1-5h0m0 1h0m0 1h0m1-2h0m0 1h0m0 1h0m0 2h0m1-1h0m0 1h0m0 1h0m0 1h0m1-4h0m0 1h0m0 1h0m0 1h0m1-2h0m0 1h0m0 1h0m1-1h0m0 1h0m0 1h0m1-4h0m0 1h0m0 2h0m1-3h0m0 1h0m1-1h0m0 2h0m0 1h0m0 1h0m0 2h0m1-2h0m0 1h0m0 1h0m1-4h0m0 1h0m0 1h0m0 1h0m0 1h0m1-7h0m0 1h0m0 1h0m0 1h0m1-4h0m0 1h0m1-1h0m0 1h0m0 1h0m0 1h0m0 1h0m1-1h0m0 1h0m0 1h0m0 1h0m1 0h0m0 1h0m0 1h0m1-4h0m0 1h0m0 1h0m0 1h0m1-5h0m0 2h0m0 1h0m1-4h0m0 1h0m0 1h0m1-3h0m0 1h0m0 1h0m1-4h0m0 1h0m1-1h0m0 1h0m0 1h0m0 1h0m1 0h0m0 1h0m0 1h0m0 1h0m1 0h0m0 1h0m0 1h0m0 1h0m0 1h0m1 0h0m1-1h0m0 1h0m1-3h0m0 1h0m0 1h0m0 1h0m1-5h0m0 1h0m1 0h0m0 1h0m0 1h0m0 1h0m1-3h0m0 1h0m0 1h0m1-2h0m0 1h0m1-2h0m0 1h0m0 1h0m1-2h0m0 1h0m1-2h0m0 1h0m0 1h0m1-3h0m0 1h0m0 1h0m1-1h0m0 1h0m0 1h0m1 1h0m0 1h0m1-1h0m0 1h0m0 1h0m1-3h0m0 1h0m0 1h0m1-3h0m0 1h0m0 1h0m1 1h0m0 1h0m0 1h0m1-3h0m0 1h0m0 1h0m0 1h0m1-6h0m0 1h0m0 1h0m0 2h0m1-3h0m0 1h0m1-5h0m0 1h0m0 1h0m0 1h0m0 1h0m1-5h0m0 1h0m0 1h0m1-1h0m0 1h0m0 2h0m0 1h0m0 1h0m1 0h0m0 1h0m0 1h0m0 1h0m0 1h0m1-2h0m0 1h0m1-5h0m0 1h0m0 1h0m0 1h0m0 1h0m1-5h0m0 1h0m0 1h0m1-3h0m0 1h0m0 1h0m1 0h0m0 1h0m0 1h0m0 1h0m1-2h0m0 1h0m0 1h0m1-3h0m0 1h0m0 1h0m1-2h0m0 1h0m1-1h0m0 1h0m0 1h0m1-4h0m0 1h0m0 1h0m1-2h0m0 1h0m0 1h0m1 1h0m0 1h0m0 1h0m0 2h0m1-2h0m0 1h0m0 1h0m1-5h0m0 1h0m0 1h0m0 1h0m1-5h0m0 1h0m0 1h0m1-3h0m0 1h0m0 1h0m1 0h0m0 1h0m0 1h0m0 1h0m0 1h0m1-3h0m0 1h0m0 1h0m1-4h0m0 1h0m0 1h0m1 0h0m0 1h0m0 1h0m1 0h0m0 1h0m0 1h0m1-2h0m0 1h0m1-3h0m0 1h0m0 1h0m1-3h0m0 1h0m0 1h0m1-8h0m0 5h0m0 1h0m0 1h0m0 1h0m1-1h0m0 1h0m1-1h0m0 1h0m0 1h0m0 1h0m1-1h0m0 1h0m0 1h0m0 1h0m0 1h0m1-1h0m0 1h0m1-4h0m0 2h0m0 1h0m0 1h0m1-5h0m0 1h0m1-1h0m0 1h0m0 1h0m1-4h0m0 1h0m0 1h0m0 1h0m0 1h0m1-7h0m0 1h0m0 1h0m1 0h0m0 1h0m0 1h0m0 1h0m1-1h0m0 1h0m0 1h0m0 1h0m1-3h0m0 1h0m0 1h0m1-1h0m0 1h0m0 1h0m0 1h0m1 0h0m0 1h0m0 1h0m1-4h0m0 1h0m0 1h0m1-7h0m0 4h0m0 1h0m0 1h0m1-4h0m0 1h0m0 1h0m0 1h0m1-2h0m0 1h0m0 1h0m0 1h0m1-1h0m0 1h0m1-4h0m0 1h0m0 1h0m0 1h0m0 1h0m1-8h0m0 1h0m0 1h0m0 2h0m1-5h0m0 1h0m0 1h0m0 1h0m1-2h0m0 1h0m0 2h0m0 1h0m1 2h0m0 1h0m0 1h0m0 1h0m0 1h0m0 1h0m1 0h0m1-1h0m0 1h0m1-6h0m0 2h0m0 1h0m0 1h0m0 1h0m1-8h0m0 1h0m0 1h0m0 1h0m0 1h0m1-6h0m0 1h0m0 1h0m1-2h0m0 1h0m0 1h0m0 1h0m0 1h0m0 1h0m1-4h0m0 5h0m0 1h0m0 1h0m0 2h0m1 0h0m0 1h0m1-3h0m0 1h0m0 1h0m0 1h0m1-6h0m0 1h0m0 1h0m1-5h0m0 1h0m0 1h0m0 1h0m1-4h0m0 1h0m0 1h0m1-1h0m0 1h0m1 0h0m0 1h0m0 1h0m1-3h0m0 1h0m0 1h0m1 1h0m0 1h0m0 1h0m0 1h0m0 1h0m0 1h0m1 1h0m1 0h0m1-4h0m0 2h0m0 2h0m1-10h0m0 1h0m0 1h0m0 1h0m0 1h0m0 1h0m1-5h0m0 1h0m0 1h0m0 1h0m1 1h0m0 1h0m0 2h0m0 1h0m0 2h0m1 0h0m1-8h0m0 1h0m0 1h0m0 1h0m0 1h0m0 1h0m0 2h0m1-9h0m0 1h0m0 1h0m1-2h0m0 1h0m0 1h0m1 1h0m0 1h0m0 1h0m0 1h0m0 1h0m1-1h0m0 1h0m0 1h0m0 1h0m0 1h0m1-3h0m0 1h0m0 1h0m1-6h0m0 1h0m0 1h0m0 1h0m1-5h0m0 1h0m0 1h0m1-2h0m0 1h0m1 1h0m0 1h0m0 1h0m1-1h0m0 1h0m0 1h0m1-3h0m0 1h0m0 1h0m1-2h0m0 1h0m1-1h0m0 1h0m0 1h0m1-3h0m0 1h0m0 1h0m0 1h0m1-3h0m0 1h0m0 1h0m1 3h0m0 1h0m0 1h0m0 1h0m1 0h0m1 0h0m1-4h0m0 2h0m0 2h0m1-9h0m0 1h0m0 1h0m0 2h0m1-6h0m0 1h0m0 1h0m1-1h0m0 2h0m0 1h0m0 1h0m0 1h0m1 0h0m0 1h0m0 1h0m0 1h0m1-4h0m0 1h0m0 1h0m0 1h0m1-6h0m0 2h0m1-2h0m0 1h0m0 1h0m1-1h0m0 1h0m0 1h0m1-1h0m0 1h0m0 1h0m0 1h0m1 0h0m0 2h0m0 1h0m0 1h0m1-1h0m0 1h0m1-3h0m0 1h0m0 1h0m0 1h0m1-4h0m0 1h0m0 1h0m1-7h0m0 1h0m0 1h0m0 1h0m0 1h0m1-6h0m0 1h0m1 0h0m0 1h0m0 1h0m0 1h0m1-1h0m0 1h0m0 1h0m1 1h0m0 1h0m0 1h0m0 1h0m0 1h0m1 1h0m1 0h0m1-1h0m0 1h0m1-2h0m0 1h0m0 1h0m1-9h0m0 2h0m0 1h0m0 2h0m0 1h0m1-8h0m0 1h0m1-2h0m0 1h0m0 2h0m1 0h0m0 1h0m0 2h0m0 1h0m0 1h0m1 1h0m0 2h0m0 1h0m1 0h0m1-4h0m0 1h0m0 1h0m0 1h0m0 1h0m1-8h0m0 1h0m0 1h0m0 1h0m0 1h0m1-6h0m0 1h0m0 1h0m0 1h0m1-4h0m0 1h0m0 1h0m0 1h0m1 0h0m0 1h0m0 1h0m1-1h0m0 1h0m1 0h0m0 1h0m1-1h0m0 1h0m0 1h0m1-6h0m0 1h0m0 2h0m0 1h0m0 1h0m1-8h0m0 1h0m0 1h0m0 1h0m1-2h0m0 1h0m0 1h0m0 1h0m0 1h0m1 0h0m0 1h0m1-1h0m0 1h0m1-2h0m0 1h0m1 0h0m0 1h0m1 0h0m0 1h0m0 1h0m0 1h0m1-1h0m0 1h0m0 1h0m1-5h0m0 1h0m0 1h0m0 1h0m0 1h0m1-6h0m0 1h0m0 1h0m1-2h0m0 1h0m0 1h0m1 1h0m0 1h0m0 1h0m0 1h0m0 1h0m1 0h0m0 1h0m0 1h0m0 1h0m1 0h0m1-6h0m0 1h0m0 2h0m0 1h0m0 1h0m0 1h0m1-8h0m0 1h0m1-2h0m0 1h0m0 1h0m0 2h0m1-1h0m0 1h0m0 1h0m1-2h0m0 1h0m0 1h0m0 1h0m1-2h0m0 1h0m0 1h0m0 1h0m1-2h0m0 1h0m0 1h0m1-5h0m0 1h0m0 1h0m0 1h0m1-3h0m0 1h0m1-3h0m0 1h0m0 1h0m1-1h0m0 1h0m0 1h0m1 1h0m0 1h0m0 2h0m1 0h0m0 1h0m0 1h0m1-2h0m0 1h0m0 1h0m1-4h0m0 1h0m0 2h0m1-6h0m0 1h0m0 1h0m0 1h0m1-3h0m0 1h0m0 1h0m1 1h0m0 1h0m0 1h0m0 2h0m1-3h0m0 1h0m0 1h0m1-8h0m0 1h0m0 2h0m0 1h0m0 1h0m1-5h0m0 1h0m0 1h0m1-3h0m0 2h0m0 1h0m1-2h0m0 1h0m0 1h0m1-1h0m0 1h0m0 1h0m1-1h0m0 1h0m0 1h0m1-4h0m0 1h0m0 2h0m1-4h0m0 1h0m0 1h0m0 1h0m0 1h0m1-2h0m0 1h0m0 1h0m1-2h0m0 1h0m0 1h0m0 1h0m0 1h0m1 1h0m0 1h0m0 2h0m1-1h0m0 1h0m1-8h0m0 2h0m0 1h0m0 1h0m0 1h0m0 2h0m1-6h0m0 1h0m0 1h0m1 0h0m0 1h0m0 1h0m1-5h0m0 1h0m0 1h0m0 2h0m1-2h0m0 1h0m0 1h0m0 1h0m0 2h0m1-2h0m0 1h0m0 1h0m0 1h0m1-10h0m0 2h0m0 1h0m0 2h0m1-6h0m0 1h0m0 1h0m1 2h0m0 1h0m0 1h0m0 1h0m1-1h0m0 1h0m0 1h0m1-3h0m0 1h0m1 0h0m0 1h0m0 1h0m1-5h0m0 1h0m0 2h0m0 1h0m0 1h0m1-8h0m0 1h0m0 1h0m0 1h0m1-2h0m0 1h0m0 1h0m0 1h0m0 1h0m0 2h0m1-2h0m0 1h0m0 1h0m0 2h0m1-4h0m0 1h0m0 1h0m0 1h0m1-2h0m0 1h0m0 1h0m1 0h0m0 2h0m0 1h0m1-3h0m0 2h0m0 1h0m1-7h0m0 1h0m0 1h0m0 1h0m1-5h0m0 1h0m0 1h0m0 1h0m1-1h0m0 1h0m1 0h0m0 1h0m0 1h0m0 1h0m1 0h0m0 1h0m1-1h0m0 1h0m0 1h0m1-5h0m0 1h0m0 1h0m0 1h0m1-6h0m0 1h0m0 1h0m1-3h0m0 1h0m0 1h0m1-1h0m0 1h0m0 1h0m1 0h0m0 1h0m0 2h0m0 1h0m0 2h0m1-3h0m0 2h0m0 1h0m0 1h0m1-7h0m0 1h0m0 1h0m0 1h0m0 1h0m1-3h0m0 1h0m0 1h0m1-2h0m0 1h0m0 1h0m0 1h0m1-6h0m0 1h0m0 1h0m1-3h0m0 1h0m0 1h0m0 1h0m1-1h0m0 1h0m0 1h0m1 0h0m0 1h0m0 1h0m1-1h0m0 1h0m1-2h0m0 1h0m0 1h0m1-4h0m0 1h0m0 1h0m0 1h0m1-6h0m0 1h0m0 2h0m1-3h0m0 1h0m0 1h0m0 1h0m1-1h0m0 1h0m0 1h0m0 1h0m1-2h0m0 1h0m0 1h0m1-2h0m0 1h0m0 1h0m0 1h0m1 1h0m0 1h0m0 1h0m0 1h0m1-1h0m0 1h0m1-3h0m0 1h0m0 1h0m1-2h0m0 1h0m0 1h0m1 1h0m0 1h0m1-3h0m0 1h0m0 1h0m0 1h0m1-5h0m0 1h0m0 1h0m1-4h0m0 1h0m0 1h0m0 1h0m1-5h0m0 1h0m0 1h0m0 1h0m1-3h0m0 1h0m0 1h0m0 1h0m1 1h0m0 1h0m0 1h0m0 1h0m1-3h0m0 1h0m0 1h0m1-3h0m0 1h0m0 1h0m1-5h0m0 1h0m0 1h0m0 1h0m1-3h0m0 1h0m0 1h0m0 1h0m1-1h0m0 1h0m0 1h0m0 1h0m1-2h0m0 1h0m0 1h0m1-1h0m0 1h0m0 1h0m0 1h0m1 1h0m0 1h0m1-2h0m0 1h0m0 1h0m1-8h0m0 1h0m0 1h0m0 2h0m0 1h0m1-7h0m0 1h0m0 1h0m1-1h0m0 3h0m0 1h0m0 1h0m0 1h0m1-1h0m0 1h0m0 1h0m1-2h0m0 2h0m0 1h0m1-3h0m0 2h0m0 1h0m1-9h0m0 1h0m0 1h0m0 1h0m0 1h0m0 3h0m1-9h0m0 1h0m0 1h0m1 0h0m0 1h0m0 2h0m1 0h0m0 1h0m0 1h0m0 1h0m1 0h0m0 1h0m0 1h0m0 2h0m1-2h0m0 1h0m0 1h0m1-2h0m0 1h0m0 1h0m1-1h0m0 1h0m1-4h0m0 1h0m0 1h0m0 1h0m1-5h0m0 1h0m1-2h0m0 1h0m1-2h0m0 1h0m0 1h0m1-4h0m0 1h0m0 1h0m1-1h0m0 1h0m1-3h0m0 1h0m0 1h0m1-3h0m0 1h0m0 1h0m1 1h0m0 1h0m0 1h0m0 1h0m1 0h0m0 1h0m0 1h0m0 1h0m0 1h0m0 1h0m1-2h0m0 1h0m0 1h0m1-5h0m0 1h0m0 1h0m0 1h0m1-3h0m0 1h0m0 1h0m1-1h0m0 1h0m0 1h0m0 1h0m0 1h0m1-1h0m0 1h0m0 1h0m1-5h0m0 1h0m0 1h0m0 1h0m0 1h0m1-8h0m0 1h0m0 2h0m1-6h0m0 2h0m0 2h0m1-2h0m0 2h0m0 1h0m0 1h0m0 1h0m1 0h0m0 1h0m0 1h0m0 1h0m1-1h0m0 1h0m0 1h0m1-2h0m0 1h0m0 2h0m1-7h0m0 1h0m0 1h0m0 1h0m1-4h0m0 1h0m0 1h0m1 0h0m0 1h0m0 1h0m1-3h0m0 1h0m0 1h0m0 1h0m1-3h0m0 1h0m0 1h0m1 2h0m0 2h0m0 1h0m1 0h0m1 0h0m1-5h0m0 1h0m0 1h0m0 1h0m0 2h0m1-12h0m0 2h0m0 1h0m0 2h0m1-7h0m0 1h0m0 1h0m1 0h0m0 1h0m0 1h0m0 1h0m1 0h0m0 1h0m0 1h0m0 1h0m0 1h0m0 1h0m1 1h0m0 1h0m0 1h0m1-5h0m0 2h0m0 1h0m0 2h0m1-8h0m0 1h0m0 2h0m1-2h0m0 1h0m0 1h0m0 1h0m0 1h0m1-3h0m0 1h0m0 1h0m0 1h0m1-7h0m0 1h0m0 1h0m0 1h0m0 1h0m1-3h0m0 1h0m0 1h0m1 0h0m0 1h0m0 1h0m1 0h0m0 1h0m0 1h0m0 1h0m1 0h0m0 1h0m0 1h0m1-4h0m0 2h0m0 1h0m1-7h0m0 1h0m0 1h0m0 2h0m1-7h0m0 1h0m0 2h0m1-4h0m0 1h0m0 2h0m1 1h0m0 1h0m0 1h0m0 1h0m0 1h0m1-3h0m0 1h0m0 1h0m1-3h0m0 1h0m0 1h0m1-2h0m0 1h0m1-1h0m0 1h0m0 1h0m0 1h0m1-1h0m0 1h0m0 1h0m1-2h0m0 1h0m1-2h0m0 1h0m0 1h0m1-2h0m0 1h0m0 1h0m0 1h0m1-7h0m0 1h0m0 1h0m0 1h0m1-1h0m0 1h0m0 1h0m0 1h0m1-1h0m0 1h0m0 2h0m0 1h0m1 0h0m0 1h0m1-6h0m0 1h0m0 1h0m0 1h0m1-3h0m0 1h0m1 1h0m0 1h0m0 1h0m0 2h0m0 1h0m1 1h0m0 1h0m1-2h0m0 1h0m0 1h0m1-9h0m0 1h0m0 2h0m0 1h0m0 1h0m1-11h0m0 1h0m0 1h0m0 2h0m0 1h0m1-5h0m0 1h0m0 1h0m0 1h0m0 1h0m1 1h0m0 1h0m0 2h0m0 1h0m1-1h0m0 2h0m0 1h0m1 0h0m0 1h0m0 1h0m0 1h0m1 0h0m0 1h0m1-1h0m0 1h0m1-7h0m0 1h0m0 1h0m0 1h0m0 1h0m1-8h0m0 1h0m0 1h0m1-3h0m0 1h0m0 1h0m0 1h0m1-3h0m0 2h0m0 1h0m0 1h0m0 1h0m1 0h0m0 1h0m0 1h0m1-4h0m0 1h0m0 3h0m1-5h0m0 2h0m0 1h0m0 1h0m1 1h0m0 1h0m0 1h0m0 1h0m0 1h0m1 0h0m0 1h0m1-1h0m0 1h0m1-2h0m0 1h0m0 1h0m1-8h0m0 1h0m0 1h0m0 1h0m0 1h0m0 1h0m1-6h0m0 1h0m0 1h0m1-1h0m0 1h0m0 1h0m0 1h0m1 1h0m0 1h0m1 0h0m0 1h0m1-2h0m0 1h0m0 1h0m1-4h0m0 1h0m0 1h0m0 2h0m1-6h0m0 1h0m0 1h0m0 1h0m1-5h0m0 1h0m0 1h0m1-2h0m0 1h0m0 1h0m0 1h0m0 1h0m0 2h0m1 0h0m0 1h0m0 1h0m0 1h0m1-1h0m0 1h0m0 1h0m1-4h0m0 1h0m0 1h0m1-6h0m0 1h0m0 1h0m0 1h0m0 1h0m1-8h0m0 1h0m0 1h0m0 1h0m0 1h0m1-4h0m0 1h0m0 1h0m0 1h0m0 2h0m0 1h0m1-2h0m0 2h0m0 1h0m0 2h0m1-6h0m0 1h0m0 1h0m0 1h0m1-3h0m0 1h0m0 1h0m0 2h0m0 1h0m1-3h0m0 1h0m0 1h0m0 1h0m1-7h0m0 1h0m0 1h0m0 1h0m1-3h0m0 1h0m0 1h0m1-2h0m0 1h0m0 1h0m1-1h0m0 1h0m0 1h0m0 2h0m0 1h0m1 0h0m0 1h0m0 1h0m0 1h0m1 0h0m0 1h0m0 1h0m1-1h0m0 1h0m1-2h0m0 1h0m1-5h0m0 1h0m0 1h0m0 1h0m1-6h0m0 1h0m0 1h0m0 1h0m0 1h0m1-5h0m0 1h0m1 0h0m0 1h0m0 2h0m0 2h0m1-1h0m0 1h0m0 1h0m0 1h0m1-3h0m0 1h0m0 1h0m0 1h0m1-7h0m0 1h0m0 1h0m0 2h0m1-6h0m0 1h0m0 1h0m1-3h0m0 2h0m0 1h0m1 0h0m0 1h0m0 1h0m0 1h0m1 0h0m0 1h0m0 1h0m1-3h0m0 1h0m0 1h0m0 1h0m0 1h0m1-4h0m0 1h0m1-1h0m0 1h0m1 0h0m0 2h0m1 1h0m0 1h0m0 1h0m1-2h0m0 1h0m0 1h0m1-5h0m0 1h0m0 1h0m0 1h0m1-2h0m0 1h0m0 1h0m1-2h0m0 1h0m1-2h0m0 1h0m0 1h0m1-3h0m0 1h0m0 1h0m0 1h0m1-3h0m0 1h0m0 1h0m0 1h0m1-3h0m0 1h0m1 0h0m0 1h0m0 1h0m0 1h0m1-3h0m0 1h0m0 1h0m0 1h0m1 0h0m0 2h0m0 1h0m1-2h0m0 1h0m0 1h0m1-8h0m0 2h0m0 1h0m0 1h0m0 2h0m1-5h0m1-1h0m0 1h0m0 1h0m1-2h0m0 1h0m0 1h0m1 0h0m0 1h0m0 2h0m1-2h0m0 1h0m0 1h0m0 1h0m1-3h0m0 1h0m0 1h0m1-6h0m0 1h0m0 1h0m0 1h0m1-4h0m0 1h0m0 1h0m0 1h0m1 0h0m0 1h0m0 1h0m0 1h0m0 2h0m1-4h0m0 1h0m0 1h0m0 1h0m1-5h0m0 1h0m0 1h0m1-3h0m0 1h0m0 1h0m1-1h0m0 1h0m0 1h0m1-5h0m0 1h0m0 1h0m0 1h0m1 0h0m0 1h0m0 2h0m0 1h0m1-1h0m0 1h0m0 1h0m1-4h0m0 1h0m0 1h0m1-2h0m0 1h0m0 1h0m1-4h0m0 1h0m0 2h0m1-3h0m0 1h0m0 1h0m0 1h0m1 0h0m0 1h0m1-4h0m0 1h0m0 1h0m0 1h0m1-1h0m1-1h0m0 1h0m0 1h0m0 1h0m1-2h0m0 1h0m0 1h0m1-1h0m0 1h0m1-3h0m0 1h0m0 1h0m0 1h0m1-4h0m0 1h0m0 1h0m1-2h0m0 1h0m1 0h0m0 1h0m0 1h0m1-2h0m0 1h0m0 1h0m0 1h0m1-4h0m0 1h0m0 1h0m0 1h0m1-3h0m0 1h0m0 1h0m1 0h0m0 3h0m0 1h0m0 1h0m0 1h0m1-2h0m0 1h0m0 1h0m0 1h0m1-7h0m0 2h0m0 2h0m1-5h0m0 1h0m1 0h0m0 1h0m0 1h0m1-3h0m0 1h0m0 1h0m1-1h0m0 1h0m0 1h0m1 0h0m0 1h0m0 1h0m0 1h0m1-2h0m0 1h0m0 1h0m1-6h0m0 2h0m0 1h0m1-4h0m0 1h0m1 1h0m0 1h0m0 2h0m0 1h0m1-1h0m0 1h0m0 1h0m1-3h0m0 1h0m0 1h0m0 1h0m1-5h0m0 1h0m0 1h0m0 1h0m1-2h0m0 1h0m1 0h0m0 1h0m0 1h0m1-4h0m0 1h0m0 1h0m0 1h0m1-5h0m0 1h0m1-1h0m0 1h0m0 1h0m1-2h0m0 1h0m0 1h0m0 1h0m1 0h0m0 1h0m0 1h0m1-5h0m0 1h0m0 2h0m0 1h0m1-6h0m0 1h0m0 1h0m1-2h0m0 1h0m0 1h0m0 1h0m0 1h0m1 1h0m0 1h0m0 1h0m1 0h0m0 1h0m0 1h0m1-1h0m0 1h0m0 1h0m0 1h0m1-1h0m0 1h0m1 0h0m1-3h0m0 2h0m0 1h0m1-4h0m0 1h0m0 1h0m1-4h0m0 1h0m0 1h0m0 1h0m1-7h0m0 2h0m0 1h0m0 1h0m1-3h0m0 1h0m0 1h0m1 1h0m0 2h0m0 1h0m0 1h0m1-2h0m0 1h0m0 1h0m1-3h0m0 1h0m1-3h0m0 1h0m0 1h0m0 1h0m1-1h0m0 1h0m0 1h0m0 2h0m1-4h0m0 1h0m0 1h0m0 1h0m0 1h0m1-8h0m0 2h0m0 1h0m0 1h0m1-6h0m0 1h0m0 1h0m1-2h0m0 2h0m0 2h0m0 1h0m1 0h0m0 2h0m0 1h0m0 1h0m1-1h0m0 1h0m0 1h0m1-4h0m0 1h0m0 1h0m0 1h0m1-5h0m0 1h0m0 1h0m1-3h0m0 1h0m1-1h0m0 2h0m0 1h0m0 1h0m0 1h0m1-1h0m0 3h0m1-1h0m0 1h0m0 1h0m1-4h0m0 1h0m0 1h0m0 1h0m1-7h0m0 3h0m0 1h0m1-4h0m0 1h0m1-1h0m0 1h0m0 1h0m1-1h0m0 1h0m0 1h0m1-2h0m0 1h0m0 1h0m1-2h0m0 1h0m0 1h0m1-4h0m0 1h0m0 1h0m1-1h0m0 1h0m0 1h0m1-2h0m0 1h0m0 1h0m1-1h0m0 1h0m0 1h0m0 1h0m0 1h0m0 1h0m1 0h0m0 1h0m0 1h0m1-2h0m0 1h0m0 1h0m1-5h0m0 1h0m0 1h0m0 1h0m1-3h0m0 1h0m0 1h0m1-1h0m0 1h0m0 1h0m1-1h0m1-5h0m0 1h0m0 1h0m0 1h0m0 1h0m1-6h0m0 1h0m0 1h0m0 2h0m1-4h0m0 1h0m0 1h0m0 1h0m0 2h0m1 1h0m0 2h0m0 1h0m1-2h0m0 1h0m0 1h0m0 1h0m1-5h0m0 3h0m1-5h0m0 2h0m0 1h0m1-1h0m0 1h0m0 1h0m1-2h0m0 1h0m0 1h0m0 1h0m1 0h0m0 2h0m1-8h0m0 1h0m0 2h0m0 1h0m0 1h0m0 1h0m1-9h0m0 1h0m0 1h0m0 1h0m1-2h0m0 1h0m0 1h0m0 2h0m1-3h0m0 1h0m0 1h0m1-2h0m0 1h0m0 1h0m0 1h0m1 0h0m0 2h0m0 1h0m0 1h0m0 2h0m1-5h0m0 1h0m0 1h0m0 1h0m0 1h0m1-6h0m0 1h0m0 2h0m1-4h0m0 1h0m0 1h0m0 1h0m1 0h0m0 1h0m1-1h0m0 1h0m0 1h0m1-1h0m0 1h0m1-3h0m0 1h0m0 1h0m0 1h0m1-6h0m0 1h0m0 1h0m1-2h0m0 1h0m0 1h0m0 1h0m1-1h0m0 1h0m1-3h0m0 2h0m0 1h0m0 1h0m1-1h0m0 1h0m0 2h0m0 1h0m0 1h0m1 1h0m1-2h0m0 1h0m0 1h0m1-7h0m0 2h0m0 1h0m0 1h0m1-5h0m0 1h0m0 1h0m1-2h0m0 1h0m0 1h0m1-2h0m0 1h0m0 1h0m1-1h0m0 1h0m0 1h0m1 0h0m0 1h0m0 1h0m1-4h0m0 1h0m0 2h0m0 1h0m1-5h0m0 1h0m0 1h0m1-2h0m0 2h0m0 1h0m0 1h0m1 1h0m0 1h0m0 1h0m0 1h0m1-3h0m0 1h0m0 1h0m0 1h0m1-6h0m0 2h0m0 1h0m1-2h0m0 1h0m0 1h0m1-7h0m0 2h0m0 1h0m0 1h0m0 2h0m1-9h0m0 1h0m0 1h0m0 1h0m1-1h0m0 2h0m0 1h0m1-1h0m0 1h0m0 1h0m1-1h0m0 1h0m0 1h0m0 1h0m1 0h0m0 1h0m0 1h0m1-1h0m0 1h0m0 1h0m1-3h0m0 1h0m0 1h0m0 1h0m1-4h0m0 1h0m0 1h0m0 1h0m1-5h0m0 1h0m0 1h0m0 1h0m1-2h0m0 1h0m0 1h0m1-3h0m0 2h0m0 1h0m1-3h0m0 1h0m0 1h0m0 1h0m1-2h0m0 1h0m0 1h0m1-2h0m0 1h0m0 1h0m1-1h0m0 1h0m0 1h0m1 1h0m0 1h0m1-1h0m0 1h0m0 1h0m1-5h0m0 1h0m0 1h0m0 1h0m1-3h0m0 1h0m1-1h0m0 1h0m0 1h0m0 1h0m1-5h0m0 1h0m0 1h0m0 1h0m1-3h0m0 1h0m0 1h0m0 1h0m0 1h0m1 0h0m0 1h0m1-3h0m0 1h0m0 1h0m0 1h0m1-4h0m0 1h0m0 1h0m1-2h0m0 1h0m0 1h0m0 1h0m0 1h0m1-4h0m0 1h0m0 1h0m1-3h0m0 1h0m0 1h0m0 1h0m1 0h0m0 1h0m1-4h0m0 1h0m0 1h0m0 1h0m1-4h0m0 1h0m0 1h0m1 2h0m0 1h0m0 2h0m1-2h0m0 1h0m1-4h0m0 2h0m0 1h0m1-5h0m0 1h0m0 1h0m0 1h0m1-1h0m0 1h0m0 1h0m0 1h0m1-1h0m0 1h0m1-1h0m0 1h0m0 1h0m1-2h0m0 1h0m1-1h0m0 1h0m0 1h0m1-3h0m0 1h0m0 1h0m0 1h0m1-5h0m0 2h0m0 1h0m1-3h0m0 1h0m0 1h0m1-1h0m0 1h0m1-1h0m0 1h0m0 1h0m1-1h0m0 1h0m0 1h0m1-1h0m0 1h0m0 1h0m0 1h0m0 1h0m1-3h0m0 1h0m0 1h0m1-4h0m0 1h0m0 1h0m1-4h0m0 1h0m0 1h0m1-1h0m0 1h0m0 1h0m0 1h0m1 0h0m0 1h0m0 1h0m1-3h0m0 1h0m0 1h0m1-2h0m0 1h0m0 1h0m1-5h0m0 1h0m0 1h0m0 1h0m0 1h0m1-6h0m0 1h0m0 1h0m1-2h0m0 1h0m0 1h0m0 2h0m0 1h0m1 0h0m0 1h0m0 2h0m0 1h0m1-2h0m0 1h0m0 1h0m0 1h0m1-7h0m0 1h0m0 1h0m0 1h0m0 1h0m0 1h0m1-6h0m0 1h0m0 1h0m1 0h0m0 1h0m1-1h0m0 1h0m0 1h0m1-3h0m0 1h0m0 1h0m1 0h0m0 1h0m0 1h0m0 1h0m1-2h0m0 1h0m0 1h0m1-3h0m0 1h0m1-1h0m0 1h0m1-2h0m0 1h0m0 1h0m1-3h0m0 1h0m1 2h0m0 1h0m1-3h0m0 1h0m0 1h0m1-2h0m0 1h0m0 1h0m1 1h0m0 1h0m0 1h0m1-4h0m0 1h0m0 1h0m0 1h0m1-4h0m0 1h0m0 1h0m0 1h0m1-7h0m0 1h0m0 1h0m1-1h0m0 2h0m0 2h0m1 0h0m0 2h0m0 1h0m1-1h0m0 1h0m0 1h0m0 1h0m1-7h0m0 1h0m0 1h0m0 1h0m0 1h0m1-8h0m0 1h0m0 1h0m0 1h0m0 2h0m1-7h0m0 3h0m0 1h0m1-2h0m0 2h0m0 1h0m0 1h0m1 0h0m0 1h0m0 1h0m1 0h0m0 1h0m0 1h0m0 1h0m1-2h0m0 1h0m0 1h0m1-1h0m0 1h0m1-3h0m0 1h0m0 1h0m0 1h0m1-6h0m0 1h0m0 1h0m1-1h0m0 1h0m1 0h0m0 1h0m1-2h0m0 1h0m1 1h0m0 1h0m0 1h0m0 1h0m1 1h0m0 1h0m1 0h0m1-5h0m0 1h0m0 1h0m0 1h0m0 1h0m1-6h0m0 1h0m0 1h0m0 1h0m1-4h0m0 1h0m0 1h0m1-2h0m0 1h0m0 1h0m1-6h0m0 1h0m0 1h0m0 1h0m1-6h0m0 1h0m0 1h0m1 2h0m0 1h0m0 1h0m0 3h0m0 1h0m0 1h0m1 0h0m0 2h0m0 1h0m0 1h0m1 0h0m1-3h0m0 1h0m0 1h0m0 1h0m1-9h0m0 1h0m0 1h0m0 1h0m0 1h0m1-7h0m0 1h0m0 1h0m1-1h0m0 2h0m0 2h0m1-1h0m0 2h0m0 1h0m1-2h0m0 1h0m0 1h0m1-2h0m0 1h0m0 1h0m0 1h0m1 0h0m0 2h0m0 1h0m1-3h0m0 1h0m0 2h0m0 1h0m1-6h0m0 1h0m0 1h0m1-1h0m0 1h0m1-4h0m0 1h0m0 1h0m0 1h0m0 1h0m1-5h0m0 1h0m0 1h0m1 0h0m0 2h0m0 1h0m1 1h0m0 1h0m0 1h0m0 1h0m1 0h0m1 0h0m1-5h0m0 1h0m0 1h0m0 2h0m0 1h0m1-7h0m0 1h0m0 1h0m0 1h0m0 1h0m1-4h0m0 1h0m0 1h0m1-3h0m0 2h0m0 1h0m1-3h0m0 1h0m0 1h0m0 1h0m1-2h0m0 1h0m0 1h0m1-3h0m0 1h0m0 1h0m1 2h0m0 1h0m0 2h0m0 1h0m1 0h0m1-5h0m0 1h0m0 1h0m0 2h0m0 1h0m1-9h0m0 1h0m0 1h0m1-2h0m0 1h0m0 1h0m1-2h0m0 1h0m0 1h0m1 0h0m0 2h0m0 1h0m0 1h0m1 1h0m0 1h0m0 1h0m1-1h0m0 1h0m1-3h0m0 1h0m0 1h0m1-8h0m0 1h0m0 2h0m0 1h0m0 1h0m1-9h0m0 2h0m0 1h0m0 2h0m1-5h0m0 1h0m0 1h0m0 1h0m1 1h0m0 1h0m0 3h0m1-1h0m0 1h0m0 1h0m1-1h0m0 1h0m0 1h0m0 1h0m1-1h0m0 2h0m0 1h0m1-1h0m0 1h0m1-3h0m0 1h0m1 0h0m0 1h0m0 1h0m1-4h0m0 1h0m0 1h0m0 1h0m1-4h0m0 1h0m0 1h0m1-1h0m0 2h0m0 1h0m0 1h0m1-3h0m0 1h0m1-2h0m0 1h0m0 2h0m1-3h0m0 1h0m1-2h0m0 1h0m0 1h0m1 0h0m0 1h0m0 1h0m0 1h0m1-4h0m0 1h0m0 1h0m0 1h0m1-7h0m0 2h0m0 1h0m1-3h0m0 1h0m0 1h0m1-1h0m0 1h0m0 1h0m1 1h0m0 2h0m0 1h0m1-1h0m0 1h0m0 1h0m1-9h0m0 3h0m0 1h0m0 1h0m0 1h0m0 1h0m1-8h0m0 1h0m0 1h0m1-1h0m0 1h0m0 1h0m1-1h0m0 1h0m0 1h0m0 1h0m1 0h0m0 1h0m0 1h0m0 1h0m1 0h0m0 1h0m0 1h0m1 0h0m1-5h0m0 2h0m0 2h0m0 1h0m1-9h0m0 1h0m0 1h0m0 1h0m0 1h0m0 1h0m1-7h0m0 1h0m0 1h0m1 0h0m0 1h0m0 1h0m0 3h0m1 1h0m0 1h0m0 1h0m0 1h0m1-1h0m0 1h0m1-3h0m0 1h0m0 1h0m1-4h0m0 1h0m0 1h0m0 1h0m1-2h0m0 1h0m0 1h0m1-1h0m0 1h0m0 1h0m1-5h0m0 1h0m0 2h0m1-5h0m0 1h0m0 1h0m1 2h0m0 1h0m0 1h0m0 1h0m1-6h0m0 2h0m0 1h0m0 1h0m1-5h0m0 2h0m0 1h0m1 0h0m0 2h0m0 2h0m0 1h0m1-6h0m0 1h0m0 1h0m0 1h0m0 1h0m1-6h0m0 1h0m0 1h0m0 1h0m1 0h0m0 1h0m0 1h0m0 1h0m1-1h0m0 1h0m1-1h0m0 1h0m0 1h0m0 1h0m1-3h0m0 1h0m0 1h0m0 1h0m1-11h0m0 2h0m0 2h0m0 1h0m0 1h0m0 1h0m0 1h0m1-7h0m0 1h0m0 1h0m1 0h0m0 1h0m0 1h0m0 1h0m0 1h0m1-2h0m0 1h0m0 1h0m1-1h0m0 1h0m1-4h0m0 1h0m0 1h0m0 1h0m0 1h0m1-5h0m0 1h0m0 1h0m0 1h0m1 0h0m0 1h0m1 0h0m0 1h0m0 1h0m1 0h0m0 1h0m1-2h0m0 1h0m0 1h0m1-2h0m0 1h0m1-3h0m0 1h0m0 1h0m0 1h0m1-4h0m0 1h0m0 1h0m1-2h0m0 1h0m1 1h0m0 1h0m0 1h0m0 1h0m1-2h0m0 1h0m0 1h0m0 1h0m1-4h0m0 1h0m0 1h0m0 1h0m1-3h0m0 1h0m0 1h0m1-5h0m0 1h0m0 1h0m1-2h0m0 1h0m1-1h0m0 1h0m0 1h0m0 1h0m1 0h0m0 1h0m0 1h0m1-3h0m0 1h0m0 1h0m1 0h0m0 1h0m0 1h0m0 1h0m1-2h0m0 1h0m0 1h0m1-5h0m0 1h0m0 1h0m0 1h0m1-4h0m0 1h0m0 1h0m1-2h0m0 1h0m1-1h0m0 1h0m0 1h0m1-3h0m0 1h0m0 1h0m1-1h0m0 1h0m1 0h0m0 1h0m1-3h0m0 1h0m0 1h0m0 1h0m1-3h0m0 1h0m0 1h0m0 2h0m1 0h0m0 1h0m0 1h0m0 1h0m0 1h0m1-1h0m0 1h0m1-7h0m0 1h0m0 1h0m0 1h0m0 2h0m1-9h0m0 1h0m0 1h0m0 1h0m1-2h0m0 1h0m0 2h0m1-1h0m0 1h0m0 2h0m0 1h0m0 1h0m1-1h0m0 1h0m0 1h0m0 1h0m0 1h0m1-4h0m0 1h0m0 1h0m0 1h0m0 1h0m1-9h0m0 1h0m0 1h0m0 1h0m0 1h0m1-5h0m0 1h0m0 1h0m1-1h0m0 1h0m1 0h0m0 1h0m0 1h0m0 1h0m1 1h0m0 1h0m0 1h0m1-3h0m0 1h0m0 1h0m0 1h0m0 1h0m1-6h0m0 1h0m0 1h0m1-2h0m0 1h0m1-3h0m0 1h0m0 1h0m0 1h0m1-1h0m0 1h0m0 1h0m0 1h0m1 0h0m0 1h0m0 1h0m1-1h0m0 1h0m0 1h0m0 1h0m1-3h0m0 2h0m0 1h0m1-9h0m0 1h0m0 1h0m0 2h0m0 1h0m0 1h0m1-6h0m0 1h0m1 2h0m0 1h0m0 1h0m1-2h0m0 1h0m0 1h0m1-4h0m0 1h0m0 1h0m1-2h0m0 1h0m0 1h0m1-3h0m0 1h0m0 1h0m1-1h0m0 1h0m0 1h0m0 2h0m1-1h0m0 1h0m0 1h0m0 1h0m1-7h0m0 1h0m0 2h0m0 1h0m0 1h0m1-5h0m0 1h0m0 1h0m1 0h0m0 1h0m0 1h0m0 1h0m1-1h0m0 1h0m0 1h0m1-3h0m0 1h0m1 0h0m0 1h0m0 1h0m0 1h0m1 0h0m0 1h0m0 1h0m1-7h0m0 2h0m0 1h0m0 1h0m0 2h0m1-8h0m0 1h0m0 1h0m0 1h0m1-2h0m0 1h0m0 1h0m1 0h0m0 1h0m0 1h0m0 1h0m1-2h0m0 1h0m0 1h0m1-5h0m0 1h0m0 1h0m0 1h0m1-3h0m0 1h0m1 0h0m0 1h0m0 1h0m1-1h0m0 1h0m1-2h0m0 1h0m1 0h0m0 1h0m1-2h0m0 1h0m1-1h0m0 1h0m1 0h0m0 1h0m0 1h0m0 1h0m1-7h0m0 1h0m0 1h0m0 1h0m1-3h0m0 1h0m0 1h0m0 1h0m1 0h0m0 1h0m0 1h0m1-2h0m0 1h0m0 1h0m0 1h0m1-3h0m0 1h0m0 1h0m0 1h0m0 2h0m1-2h0m0 1h0m0 1h0m0 1h0m1-6h0m0 1h0m0 1h0m0 1h0m0 1h0m1-7h0m0 1h0m0 1h0m0 1h0m1-2h0m0 1h0m0 1h0m1-3h0m0 1h0m0 1h0m0 1h0m1-2h0m0 1h0m0 1h0m1-1h0m0 2h0m0 1h0m1 0h0m0 1h0m0 1h0m0 2h0m0 1h0m1 0h0m1-2h0m0 1h0m0 1h0m1-7h0m0 1h0m0 2h0m0 1h0m0 1h0m1-10h0m0 1h0m0 1h0m0 1h0m0 2h0m1-5h0m0 1h0m0 1h0m0 1h0m0 1h0m1 1h0m0 1h0m0 1h0m1-1h0m0 1h0m0 2h0m1-1h0m0 1h0m0 1h0m1-1h0m0 1h0m1-5h0m0 1h0m0 1h0m0 1h0m0 1h0m1-5h0m0 1h0m0 1h0m1-1h0m0 1h0m0 1h0m1-3h0m0 1h0m0 1h0m1-2h0m0 1h0m0 1h0m1-1h0m0 1h0m0 1h0m0 1h0m1-1h0m0 1h0m0 1h0m0 1h0m1-3h0m0 1h0m0 1h0m1-4h0m0 1h0m0 1h0m1-1h0m0 1h0m0 1h0m1-2h0m0 1h0m0 1h0m1-5h0m0 1h0m0 1h0m0 1h0m1-2h0m0 1h0m1-3h0m0 1h0m0 1h0m0 1h0m1-2h0m0 2h0m0 1h0m1-2h0m0 1h0m0 1h0m1-4h0m0 1h0m1-1h0m0 1h0m0 1h0m0 1h0m1-2h0m0 1h0m0 1h0m1-1h0m0 1h0m0 1h0m1-2h0m0 1h0m0 1h0m0 1h0m1-1h0m0 1h0m0 2h0m0 1h0m0 1h0m1 0h0m0 1h0m1-2h0m0 1h0m0 1h0m1-7h0m0 1h0m0 1h0m0 1h0m1-4h0m0 1h0m1-1h0m0 1h0m0 1h0m1 0h0m0 1h0m0 1h0m1-2h0m0 1h0m1-2h0m0 1h0m0 1h0m1-2h0m0 1h0m0 1h0m1-3h0m0 1h0m0 1h0m0 1h0m1-1h0m0 1h0m0 1h0m1-2h0m0 1h0m0 2h0m1-3h0m0 1h0m0 1h0m1 0h0m0 1h0m0 1h0m0 1h0m0 1h0m1-4h0m0 2h0m0 1h0m0 1h0m1-6h0m0 1h0m0 1h0m0 1h0m1-4h0m0 1h0m0 1h0m1-2h0m0 1h0m1-4h0m0 1h0m0 1h0m0 1h0m1-2h0m0 1h0m0 1h0m0 1h0m1 1h0m0 1h0m0 1h0m1-3h0m0 1h0m0 1h0m1-3h0m0 1h0m0 1h0m0 1h0m1-3h0m0 1h0m0 1h0m1-1h0m0 1h0m0 1h0m0 1h0m1-2h0m0 1h0m0 1h0m1-4h0m0 1h0m0 1h0m0 1h0m1-4h0m0 1h0m0 1h0m0 1h0m1-1h0m0 1h0m0 1h0m1-2h0m0 1h0m1 0h0m0 1h0m1-5h0m0 1h0m0 1h0m0 1h0m0 2h0m1-6h0m0 1h0m1 1h0m0 1h0m0 1h0m1 0h0m0 1h0m0 1h0m1-1h0m0 1h0m0 1h0m0 1h0m1-1h0m0 1h0m0 1h0m1-9h0m0 2h0m0 1h0m0 2h0m0 2h0m1-10h0m0 1h0m0 1h0m0 1h0m1-1h0m0 2h0m0 2h0m0 1h0m0 1h0m1-1h0m0 1h0m0 1h0m0 1h0m0 1h0m1-2h0m0 1h0m0 1h0m0 1h0m1-6h0m0 1h0m0 1h0m0 1h0m0 2h0m1-7h0m0 1h0m0 1h0m1-1h0m0 2h0m0 1h0m1 0h0m0 1h0m0 1h0m0 1h0m1-2h0m0 1h0m0 1h0m1-3h0m0 1h0m0 1h0m0 1h0m1-2h0m0 1h0m0 1h0m1-2h0m0 1h0m1-2h0m1-1h0m0 1h0m1 0h0m0 1h0m0 1h0m1-1h0m0 1h0m0 1h0m0 1h0m1-4h0m0 1h0m1-7h0m0 1h0m0 2h0m0 1h0m1-6h0m0 1h0m0 1h0m0 1h0m1-2h0m0 1h0m0 1h0m0 1h0m0 1h0m0 2h0m1 0h0m0 1h0m0 2h0m0 1h0m0 1h0m0 1h0m1 0h0m1-3h0m0 1h0m0 1h0m0 1h0m1-4h0m0 1h0m1-5h0m0 1h0m0 2h0m0 1h0m1-6h0m0 1h0m0 1h0m0 1h0m0 1h0m1-1h0m0 1h0m0 1h0m0 1h0m1-3h0m0 1h0m0 1h0m1 0h0m0 1h0m0 1h0m1 0h0m0 1h0m1-6h0m0 1h0m0 1h0m0 1h0m0 2h0m1-8h0m0 1h0m0 1h0m1-3h0m0 1h0m0 1h0m0 1h0m0 1h0m1 1h0m0 1h0m1-3h0m0 1h0m0 1h0m1-1h0m0 1h0m0 1h0m0 1h0m1 0h0m0 1h0m0 1h0m1-3h0m0 1h0m1 0h0m0 1h0m0 1h0m1-1h0m0 1h0m0 1h0m1-2h0m0 1h0m0 1h0m1-3h0m0 1h0m0 1h0m1 0h0m0 1h0m0 1h0m0 1h0m1 0h0m1-5h0m0 1h0m0 1h0m0 1h0m0 1h0m1-5h0m0 1h0m1-1h0m0 1h0m0 1h0m0 1h0m1 1h0m0 1h0m0 1h0m1-2h0m0 1h0m0 1h0m1-10h0m0 2h0m0 1h0m0 1h0m0 1h0m0 1h0m0 1h0m1-9h0m0 1h0m0 1h0m1-3h0m0 1h0m0 1h0m1-2h0m0 1h0m0 1h0m0 1h0m1 1h0m0 2h0m0 1h0m0 1h0m0 1h0m1 0h0m0 1h0m0 2h0m0 1h0m1-2h0m0 1h0m0 1h0m1-5h0m0 1h0m0 1h0m0 1h0m1-7h0m0 1h0m0 1h0m0 1h0m0 1h0m1-6h0m0 1h0m0 1h0m1-2h0m0 1h0m0 1h0m0 1h0m1 0h0m0 2h0m0 1h0m0 1h0m1-2h0m0 1h0m0 1h0m1-1h0m0 1h0m1-4h0m0 1h0m0 1h0m0 1h0m0 2h0m1-9h0m0 1h0m0 1h0m0 1h0m1-2h0m0 1h0m0 1h0m0 1h0m0 1h0m1-1h0m0 1h0m0 1h0m0 1h0m1-1h0m0 1h0m1-1h0m0 1h0m0 1h0m0 1h0m1 0h0m0 1h0m0 1h0m0 1h0m1-1h0m0 1h0m1-5h0m0 1h0m0 1h0m0 1h0m0 1h0m1-4h0m0 1h0m1-2h0m0 1h0m0 1h0m1-1h0m0 1h0m1-2h0m0 1h0m0 1h0m0 1h0m1-2h0m0 1h0m0 1h0m1-1h0m0 1h0m0 1h0m0 1h0m1-2h0m0 1h0m1-3h0m0 1h0m0 1h0m1-6h0m0 2h0m0 1h0m0 1h0m1-6h0m0 1h0m0 1h0m1-2h0m0 1h0m1 2h0m0 1h0m0 1h0m0 1h0m0 1h0m1-1h0m0 1h0m0 1h0m1-2h0m0 1h0m0 1h0m1-3h0m0 1h0m0 1h0m1-2h0m0 1h0m0 1h0m1-1h0m0 1h0m1-1h0m0 1h0m1-1h0m0 1h0m1-5h0m0 1h0m0 1h0m0 1h0m0 1h0m1-5h0m0 1h0m0 1h0m1-2h0m0 1h0m0 1h0m1-1h0m0 1h0m0 1h0m1-1h0m0 1h0m1-1h0m0 1h0m0 1h0m0 1h0m1-1h0m0 2h0m0 1h0m0 1h0m0 1h0m1-2h0m0 1h0m0 1h0m1-6h0m0 1h0m0 1h0m0 1h0m1-3h0m0 1h0m0 1h0m0 1h0m1-1h0m0 1h0m1-1h0m0 1h0m0 1h0m1-5h0m0 2h0m0 1h0m1-6h0m0 1h0m0 1h0m1-2h0m0 1h0m0 1h0m1-1h0m0 1h0m0 1h0m0 1h0m0 1h0m0 2h0m1-1h0m0 2h0m0 1h0m0 1h0m0 1h0m1-2h0m0 1h0m1-5h0m0 1h0m0 1h0m0 1h0m1-5h0m0 1h0m0 1h0m1-4h0m0 1h0m0 1h0m1-6h0m0 1h0m0 1h0m0 1h0m0 3h0m1-7h0m0 1h0m1-1h0m0 1h0m0 1h0m0 1h0m0 2h0m1 1h0m0 2h0m0 2h0m0 2h0m0 1h0m0 2h0m1-1h0m0 1h0m1-3h0m0 1h0m0 1h0m1-1h0m0 1h0m0 1h0m1 0h0m1-1h0m0 1h0m1-4h0m0 1h0m0 1h0m0 1h0m1-7h0m0 2h0m0 1h0m0 1h0m0 1h0m1-6h0m0 1h0m0 1h0m0 1h0m1-4h0m0 1h0m0 1h0m0 1h0m1-1h0m0 1h0m1-2h0m0 1h0m0 1h0m1-2h0m0 1h0m0 1h0m0 1h0m1 0h0m0 1h0m0 2h0m0 1h0m0 1h0m1 0h0m0 1h0m1 0h0m1-4h0m0 2h0m0 1h0m0 1h0m1-9h0m0 1h0m0 1h0m0 1h0m0 1h0m1-5h0m0 1h0m0 1h0m1 0h0m0 1h0m0 2h0m0 1h0m1 1h0m0 1h0m0 1h0m1-2h0m0 1h0m0 1h0m1-3h0m0 1h0m0 1h0m1-3h0m0 1h0m1-2h0m0 1h0m0 2h0m1-2h0m0 1h0m0 1h0m1-2h0m0 1h0m0 1h0m1-1h0m0 1h0m0 1h0m1-2h0m0 1h0m0 1h0m1-4h0m0 1h0m0 1h0m0 1h0m1-1h0m0 1h0m0 2h0m0 1h0m1 0h0m1 0h0m1 0h0m1-5h0m0 1h0m0 1h0m0 1h0m1-7h0m0 1h0m0 1h0m0 1h0m1-3h0m0 1h0m1-2h0m0 1h0m0 1h0m1-1h0m0 1h0m0 1h0m0 1h0m1 0h0m0 1h0m0 1h0m0 1h0m0 1h0" stroke="#000" stroke-width="3.75" stroke-linecap="round" fill="none"/>
<path d="M194.9 791.1a0.95 0.95 0 1 0 1.9 0a0.95 0.95 0 1 0 -1.9 0M196.5 791.1a0.95 0.95 0 1 0 1.9 0a0.95 0.95 0 1 0 -1.9 0M198.1 791.1a0.95 0.95 0 1 0 1.9 0a0.95 0.95 0 1 0 -1.9 0M260.4 791.1a0.95 0.95 0 1 0 1.9 0a0.95 0.95 0 1 0 -1.9 0M288.9 791.1a0.95 0.95 0 1 0 1.9 0a0.95 0.95 0 1 0 -1.9 0M290.2 791.1a0.95 0.95 0 1 0 1.9 0a0.95 0.95 0 1 0 -1.9 0M291.4 791.1a0.95 0.95 0 1 0 1.9 0a0.95 0.95 0 1 0 -1.9 0M321.4 791.1a0.95 0.95 0 1 0 1.9 0a0.95 0.95 0 1 0 -1.9 0M449.4 791.1a0.95 0.95 0 1 0 1.9 0a0.95 0.95 0 1 0 -1.9 0M450.7 791.1a0.95 0.95 0 1 0 1.9 0a0.95 0.95 0 1 0 -1.9 0M486.4 791.1a0.95 0.95 0 1 0 1.9 0a0.95 0.95 0 1 0 -1.9 0M487.7 791.1a0.95 0.95 0 1 0 1.9 0a0.95 0.95 0 1 0 -1.9 0M519.4 791.1a0.95 0.95 0 1 0 1.9 0a0.95 0.95 0 1 0 -1.9 0M584.2 791.1a0.95 0.95 0 1 0 1.9 0a0.95 0.95 0 1 0 -1.9 0M585.8 791.1a0.95 0.95 0 1 0 1.9 0a0.95 0.95 0 1 0 -1.9 0M650.4 791.1a0.95 0.95 0 1 0 1.9 0a0.95 0.95 0 1 0 -1.9 0M812.4 791.1a0.95 0.95 0 1 0 1.9 0a0.95 0.95 0 1 0 -1.9 0M877.4 791.1a0.95 0.95 0 1 0 1.9 0a0.95 0.95 0 1 0 -1.9 0M910.4 791.1a0.95 0.95 0 1 0 1.9 0a0.95 0.95 0 1 0 -1.9 0" stroke="#000" stroke-width="1.1" fill="none"/>
<path d="M229.5 856.4a0.95 0.95 0 1 0 1.9 0a0.95 0.95 0 1 0 -1.9 0M253.7 856.4a0.95 0.95 0 1 0 1.9 0a0.95 0.95 0 1 0 -1.9 0M286.2 856.4a0.95 0.95 0 1 0 1.9 0a0.95 0.95 0 1 0 -1.9 0M322.2 856.4a0.95 0.95 0 1 0 1.9 0a0.95 0.95 0 1 0 -1.9 0M355.4 856.4a0.95 0.95 0 1 0 1.9 0a0.95 0.95 0 1 0 -1.9 0M414.4 856.4a0.95 0.95 0 1 0 1.9 0a0.95 0.95 0 1 0 -1.9 0M422.2 856.4a0.95 0.95 0 1 0 1.9 0a0.95 0.95 0 1 0 -1.9 0M446.4 856.4a0.95 0.95 0 1 0 1.9 0a0.95 0.95 0 1 0 -1.9 0M483.4 856.4a0.95 0.95 0 1 0 1.9 0a0.95 0.95 0 1 0 -1.9 0M515.4 856.4a0.95 0.95 0 1 0 1.9 0a0.95 0.95 0 1 0 -1.9 0M575.2 856.4a0.95 0.95 0 1 0 1.9 0a0.95 0.95 0 1 0 -1.9 0M644.4 856.4a0.95 0.95 0 1 0 1.9 0a0.95 0.95 0 1 0 -1.9 0M677.4 856.4a0.95 0.95 0 1 0 1.9 0a0.95 0.95 0 1 0 -1.9 0M708.4 856.4a0.95 0.95 0 1 0 1.9 0a0.95 0.95 0 1 0 -1.9 0M808.4 856.4a0.95 0.95 0 1 0 1.9 0a0.95 0.95 0 1 0 -1.9 0M837 856.4a0.95 0.95 0 1 0 1.9 0a0.95 0.95 0 1 0 -1.9 0M838.4 856.4a0.95 0.95 0 1 0 1.9 0a0.95 0.95 0 1 0 -1.9 0M864.4 856.4a0.95 0.95 0 1 0 1.9 0a0.95 0.95 0 1 0 -1.9 0M873.4 856.4a0.95 0.95 0 1 0 1.9 0a0.95 0.95 0 1 0 -1.9 0M896.4 856.4a0.95 0.95 0 1 0 1.9 0a0.95 0.95 0 1 0 -1.9 0M918.4 856.4a0.95 0.95 0 1 0 1.9 0a0.95 0.95 0 1 0 -1.9 0M944.4 856.4a0.95 0.95 0 1 0 1.9 0a0.95 0.95 0 1 0 -1.9 0M963.4 856.4a0.95 0.95 0 1 0 1.9 0a0.95 0.95 0 1 0 -1.9 0M972 856.4a0.95 0.95 0 1 0 1.9 0a0.95 0.95 0 1 0 -1.9 0M974 856.4a0.95 0.95 0 1 0 1.9 0a0.95 0.95 0 1 0 -1.9 0M975.6 856.4a0.95 0.95 0 1 0 1.9 0a0.95 0.95 0 1 0 -1.9 0M1010.4 856.4a0.95 0.95 0 1 0 1.9 0a0.95 0.95 0 1 0 -1.9 0M1035.5 856.4a0.95 0.95 0 1 0 1.9 0a0.95 0.95 0 1 0 -1.9 0M1054.5 856.4a0.95 0.95 0 1 0 1.9 0a0.95 0.95 0 1 0 -1.9 0M1133.5 856.4a0.95 0.95 0 1 0 1.9 0a0.95 0.95 0 1 0 -1.9 0M1183.5 856.4a0.95 0.95 0 1 0 1.9 0a0.95 0.95 0 1 0 -1.9 0M1212.5 856.4a0.95 0.95 0 1 0 1.9 0a0.95 0.95 0 1 0 -1.9 0M1263.5 856.4a0.95 0.95 0 1 0 1.9 0a0.95 0.95 0 1 0 -1.9 0" stroke="#000" stroke-width="1.1" fill="none"/>
<path d="M229.5 889.1a0.95 0.95 0 1 0 1.9 0a0.95 0.95 0 1 0 -1.9 0M253.7 889.1a0.95 0.95 0 1 0 1.9 0a0.95 0.95 0 1 0 -1.9 0M286.2 889.1a0.95 0.95 0 1 0 1.9 0a0.95 0.95 0 1 0 -1.9 0M322.2 889.1a0.95 0.95 0 1 0 1.9 0a0.95 0.95 0 1 0 -1.9 0M355.4 889.1a0.95 0.95 0 1 0 1.9 0a0.95 0.95 0 1 0 -1.9 0M414.4 889.1a0.95 0.95 0 1 0 1.9 0a0.95 0.95 0 1 0 -1.9 0M422.2 889.1a0.95 0.95 0 1 0 1.9 0a0.95 0.95 0 1 0 -1.9 0M446.4 889.1a0.95 0.95 0 1 0 1.9 0a0.95 0.95 0 1 0 -1.9 0M483.4 889.1a0.95 0.95 0 1 0 1.9 0a0.95 0.95 0 1 0 -1.9 0M515.4 889.1a0.95 0.95 0 1 0 1.9 0a0.95 0.95 0 1 0 -1.9 0M575.2 889.1a0.95 0.95 0 1 0 1.9 0a0.95 0.95 0 1 0 -1.9 0M644.4 889.1a0.95 0.95 0 1 0 1.9 0a0.95 0.95 0 1 0 -1.9 0M677.4 889.1a0.95 0.95 0 1 0 1.9 0a0.95 0.95 0 1 0 -1.9 0M708.4 889.1a0.95 0.95 0 1 0 1.9 0a0.95 0.95 0 1 0 -1.9 0M808.4 889.1a0.95 0.95 0 1 0 1.9 0a0.95 0.95 0 1 0 -1.9 0M837 889.1a0.95 0.95 0 1 0 1.9 0a0.95 0.95 0 1 0 -1.9 0M838.4 889.1a0.95 0.95 0 1 0 1.9 0a0.95 0.95 0 1 0 -1.9 0M864.4 889.1a0.95 0.95 0 1 0 1.9 0a0.95 0.95 0 1 0 -1.9 0M873.4 889.1a0.95 0.95 0 1 0 1.9 0a0.95 0.95 0 1 0 -1.9 0M896.4 889.1a0.95 0.95 0 1 0 1.9 0a0.95 0.95 0 1 0 -1.9 0M918.4 889.1a0.95 0.95 0 1 0 1.9 0a0.95 0.95 0 1 0 -1.9 0M944.4 889.1a0.95 0.95 0 1 0 1.9 0a0.95 0.95 0 1 0 -1.9 0M963.4 889.1a0.95 0.95 0 1 0 1.9 0a0.95 0.95 0 1 0 -1.9 0M972 889.1a0.95 0.95 0 1 0 1.9 0a0.95 0.95 0 1 0 -1.9 0M974 889.1a0.95 0.95 0 1 0 1.9 0a0.95 0.95 0 1 0 -1.9 0M975.6 889.1a0.95 0.95 0 1 0 1.9 0a0.95 0.95 0 1 0 -1.9 0M1010.4 889.1a0.95 0.95 0 1 0 1.9 0a0.95 0.95 0 1 0 -1.9 0M1035.5 889.1a0.95 0.95 0 1 0 1.9 0a0.95 0.95 0 1 0 -1.9 0M1054.5 889.1a0.95 0.95 0 1 0 1.9 0a0.95 0.95 0 1 0 -1.9 0M1133.5 889.1a0.95 0.95 0 1 0 1.9 0a0.95 0.95 0 1 0 -1.9 0M1183.5 889.1a0.95 0.95 0 1 0 1.9 0a0.95 0.95 0 1 0 -1.9 0M1212.5 889.1a0.95 0.95 0 1 0 1.9 0a0.95 0.95 0 1 0 -1.9 0M1263.5 889.1a0.95 0.95 0 1 0 1.9 0a0.95 0.95 0 1 0 -1.9 0M321.4 889.1a0.95 0.95 0 1 0 1.9 0a0.95 0.95 0 1 0 -1.9 0M365.4 889.1a0.95 0.95 0 1 0 1.9 0a0.95 0.95 0 1 0 -1.9 0M1238.5 889.1a0.95 0.95 0 1 0 1.9 0a0.95 0.95 0 1 0 -1.9 0" stroke="#000" stroke-width="1.1" fill="none"/>
<path d="M229 959l1.4 -3l1.4 3zM253.2 959l1.4 -3l1.4 3zM285.8 959l1.4 -3l1.4 3zM321.8 959l1.4 -3l1.4 3zM355 959l1.4 -3l1.4 3zM414 959l1.4 -3l1.4 3zM421.8 959l1.4 -3l1.4 3zM446 959l1.4 -3l1.4 3zM483 959l1.4 -3l1.4 3zM515 959l1.4 -3l1.4 3zM574.8 959l1.4 -3l1.4 3zM644 959l1.4 -3l1.4 3zM677 959l1.4 -3l1.4 3zM708 959l1.4 -3l1.4 3zM808 959l1.4 -3l1.4 3zM836.6 959l1.4 -3l1.4 3zM838 959l1.4 -3l1.4 3zM864 959l1.4 -3l1.4 3zM873 959l1.4 -3l1.4 3zM896 959l1.4 -3l1.4 3zM918 959l1.4 -3l1.4 3zM944 959l1.4 -3l1.4 3zM963 959l1.4 -3l1.4 3zM971.6 959l1.4 -3l1.4 3zM973.6 959l1.4 -3l1.4 3zM975.2 959l1.4 -3l1.4 3zM1010 959l1.4 -3l1.4 3zM1035 959l1.4 -3l1.4 3zM1054 959l1.4 -3l1.4 3zM1133 959l1.4 -3l1.4 3zM1183 959l1.4 -3l1.4 3zM1212 959l1.4 -3l1.4 3zM1263 959l1.4 -3l1.4 3zM194.4 959l1.4 -3l1.4 3zM196 959l1.4 -3l1.4 3zM197.6 959l1.4 -3l1.4 3zM260 959l1.4 -3l1.4 3zM288.4 959l1.4 -3l1.4 3zM289.8 959l1.4 -3l1.4 3zM291 959l1.4 -3l1.4 3zM321 959l1.4 -3l1.4 3zM449 959l1.4 -3l1.4 3zM450.2 959l1.4 -3l1.4 3zM486 959l1.4 -3l1.4 3zM487.2 959l1.4 -3l1.4 3zM519 959l1.4 -3l1.4 3zM583.8 959l1.4 -3l1.4 3zM585.4 959l1.4 -3l1.4 3zM650 959l1.4 -3l1.4 3zM812 959l1.4 -3l1.4 3zM877 959l1.4 -3l1.4 3zM910 959l1.4 -3l1.4 3z" stroke="#f00" stroke-width="1.15" fill="none" stroke-linejoin="miter"/>
<path d="M195.1 957.5a0.95 0.95 0 1 0 1.9 0a0.95 0.95 0 1 0 -1.9 0M197.7 957.5a0.95 0.95 0 1 0 1.9 0a0.95 0.95 0 1 0 -1.9 0M290.4 957.5a0.95 0.95 0 1 0 1.9 0a0.95 0.95 0 1 0 -1.9 0M450.1 957.5a0.95 0.95 0 1 0 1.9 0a0.95 0.95 0 1 0 -1.9 0M487.1 957.5a0.95 0.95 0 1 0 1.9 0a0.95 0.95 0 1 0 -1.9 0M585 957.5a0.95 0.95 0 1 0 1.9 0a0.95 0.95 0 1 0 -1.9 0M838 957.5a0.95 0.95 0 1 0 1.9 0a0.95 0.95 0 1 0 -1.9 0" stroke="#f00" stroke-width="1.1" fill="none"/>
<circle cx="366.4" cy="971.4" r="1.50" fill="#f00"/>
<circle cx="602.4" cy="984.2" r="1.30" fill="#f00"/>
<circle cx="647" cy="989.3" r="1.30" fill="#f00"/>
<circle cx="751.3" cy="990.6" r="1.30" fill="#f00"/>
<circle cx="587" cy="994.2" r="1.20" fill="#f00"/>
<circle cx="1158" cy="987.2" r="1.30" fill="#f00"/>
<circle cx="1239.4" cy="958.4" r="1.30" fill="#f00"/>
<path d="M105.5 954.5H1485.5" stroke="#000" stroke-width="1.39" fill="none"/>
<path d="M162 1011.5V954.5" stroke="#800080" stroke-width="2.08" stroke-dasharray="2.08 3.44" stroke-dashoffset="-0.60" fill="none"/>
<path d="M162 954.5V725.5" stroke="#800080" stroke-width="2.08" stroke-dasharray="2.08 3.44" stroke-dashoffset="-0.60" fill="none"/>
<path d="M1303 1011.5V954.5" stroke="#800080" stroke-width="2.08" stroke-dasharray="2.08 3.44" stroke-dashoffset="-0.60" fill="none"/>
<path d="M1303 954.5V725.5" stroke="#800080" stroke-width="2.08" stroke-dasharray="2.08 3.44" stroke-dashoffset="-0.60" fill="none"/>
</g>
<rect x="105.5" y="725.5" width="1380" height="286" fill="none" stroke="#000" stroke-width="1.11"/>
<path d="M162.5 1011.5v5.4M427.5 1011.5v5.4M692.5 1011.5v5.4M956.5 1011.5v5.4M1221.5 1011.5v5.4" stroke="#000" stroke-width="1.11" fill="none"/>
<text x="163.3" y="1032.1" text-anchor="middle">0</text>
<text x="426.8" y="1032.1" text-anchor="middle">2000</text>
<text x="692.1" y="1032.1" text-anchor="middle">4000</text>
<text x="955.8" y="1032.1" text-anchor="middle">6000</text>
<text x="1220.9" y="1032.1" text-anchor="middle">8000</text>
<path d="M105.5 758.5h-5.4M105.5 791.5h-5.4M105.5 823.5h-5.4M105.5 856.5h-5.4M105.5 889.5h-5.4M105.5 921.5h-5.4M105.5 957.5h-5.4M105.5 983.5h-5.4M105.5 1009.5h-5.4" stroke="#000" stroke-width="1.11" fill="none"/>
<text x="95.3" y="763.9" text-anchor="end">not Kalman</text>
<text x="95.6" y="795.9" text-anchor="end">not track</text>
<text x="95.1" y="828.9" text-anchor="end">Sat. pixel.</text>
<text x="95.6" y="861.9" text-anchor="end">Ion. rad.</text>
<text x="95.6" y="894" text-anchor="end">dr > 5</text>
<text x="95.7" y="926.9" text-anchor="end">OBS not OK</text>
<text x="95.4" y="961.9" text-anchor="end">10</text>
<text x="95.4" y="987.9" text-anchor="end">5</text>
<text x="95.4" y="1013.9" text-anchor="end">0</text>
<path d="M105.5 970.5h-3.2M105.5 996.5h-3.2" stroke="#000" stroke-width="0.83" fill="none"/>
<text transform="translate(68.8 984.3) rotate(-90)" text-anchor="middle">dr</text>
</svg>
</body></html>
